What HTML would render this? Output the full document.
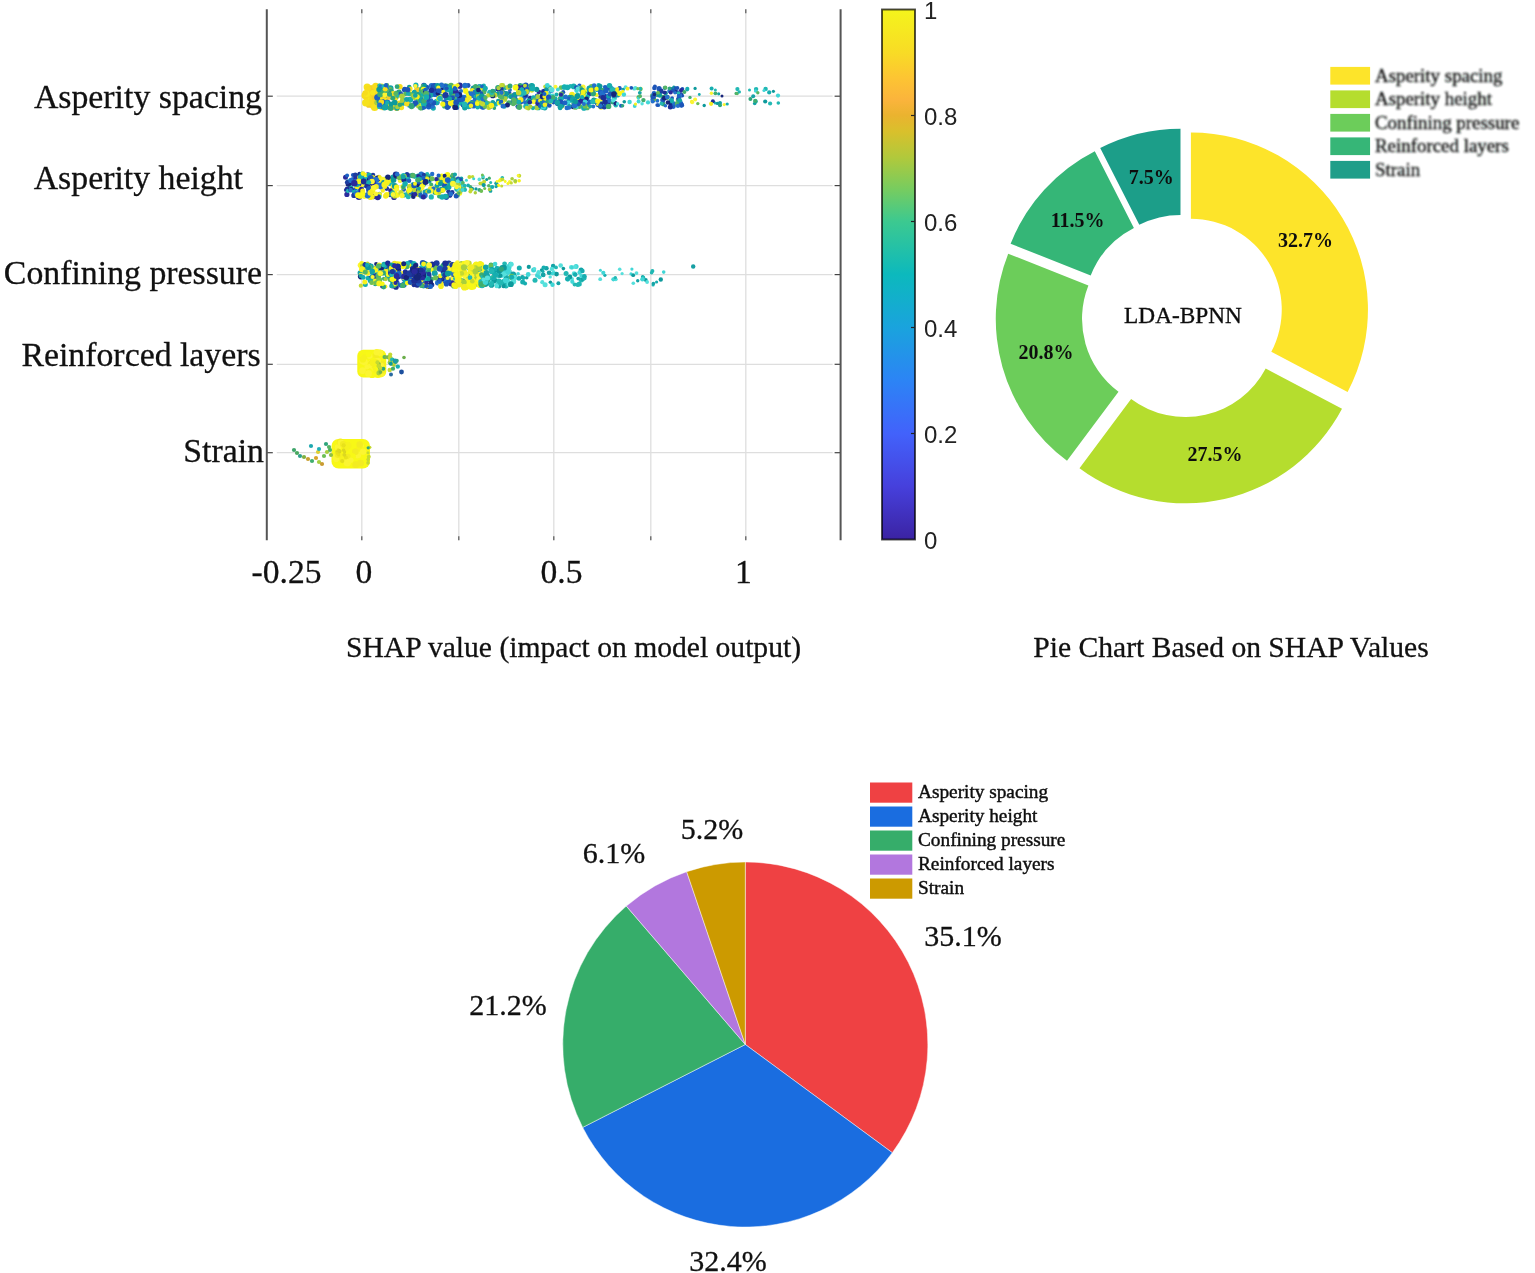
<!DOCTYPE html><html><head><meta charset="utf-8"><title>SHAP</title><style>html,body{margin:0;padding:0;background:#fff}svg{display:block}text{font-family:"Liberation Serif",serif;fill:#111}.ss{font-family:"Liberation Sans",sans-serif;fill:#222}</style></head><body>
<svg width="1535" height="1273" viewBox="0 0 1535 1273">
<defs><linearGradient id="par" x1="0" y1="1" x2="0" y2="0">
<stop offset="0" stop-color="#3b23a3"/>
<stop offset="0.1" stop-color="#4640dc"/>
<stop offset="0.2" stop-color="#4262fb"/>
<stop offset="0.3" stop-color="#2c84f5"/>
<stop offset="0.4" stop-color="#1aa3dd"/>
<stop offset="0.5" stop-color="#0cb9bd"/>
<stop offset="0.6" stop-color="#3cc990"/>
<stop offset="0.66" stop-color="#76cc60"/>
<stop offset="0.72" stop-color="#b0c93c"/>
<stop offset="0.77" stop-color="#d9c02c"/>
<stop offset="0.8" stop-color="#eab32f"/>
<stop offset="0.83" stop-color="#fbb43c"/>
<stop offset="0.87" stop-color="#fdc433"/>
<stop offset="0.92" stop-color="#f8dc25"/>
<stop offset="1" stop-color="#f4f41c"/>
</linearGradient><filter id="b1"><feGaussianBlur stdDeviation="0.6"/></filter><filter id="b2"><feGaussianBlur stdDeviation="0.7"/></filter><filter id="b4" x="-5%" y="-30%" width="110%" height="160%"><feGaussianBlur stdDeviation="0.8"/></filter><filter id="b3" x="-5%" y="-20%" width="110%" height="140%"><feGaussianBlur stdDeviation="0.55"/></filter></defs>
<rect width="1535" height="1273" fill="#fff"/>
<line x1="361.8" y1="9.2" x2="361.8" y2="540.2" stroke="#dedede" stroke-width="1.3"/>
<line x1="458.8" y1="9.2" x2="458.8" y2="540.2" stroke="#dedede" stroke-width="1.3"/>
<line x1="553.8" y1="9.2" x2="553.8" y2="540.2" stroke="#dedede" stroke-width="1.3"/>
<line x1="650.8" y1="9.2" x2="650.8" y2="540.2" stroke="#dedede" stroke-width="1.3"/>
<line x1="745.8" y1="9.2" x2="745.8" y2="540.2" stroke="#dedede" stroke-width="1.3"/>
<line x1="276.8" y1="96.2" x2="832.6" y2="96.2" stroke="#dedede" stroke-width="1.3"/>
<line x1="276.8" y1="185.6" x2="832.6" y2="185.6" stroke="#dedede" stroke-width="1.3"/>
<line x1="276.8" y1="274.6" x2="832.6" y2="274.6" stroke="#dedede" stroke-width="1.3"/>
<line x1="276.8" y1="364.3" x2="832.6" y2="364.3" stroke="#dedede" stroke-width="1.3"/>
<line x1="276.8" y1="452.7" x2="832.6" y2="452.7" stroke="#dedede" stroke-width="1.3"/>
<line x1="361.8" y1="9.2" x2="361.8" y2="13.2" stroke="#555" stroke-width="1.2"/>
<line x1="361.8" y1="540.2" x2="361.8" y2="536.2" stroke="#555" stroke-width="1.2"/>
<line x1="458.8" y1="9.2" x2="458.8" y2="13.2" stroke="#555" stroke-width="1.2"/>
<line x1="458.8" y1="540.2" x2="458.8" y2="536.2" stroke="#555" stroke-width="1.2"/>
<line x1="553.8" y1="9.2" x2="553.8" y2="13.2" stroke="#555" stroke-width="1.2"/>
<line x1="553.8" y1="540.2" x2="553.8" y2="536.2" stroke="#555" stroke-width="1.2"/>
<line x1="650.8" y1="9.2" x2="650.8" y2="13.2" stroke="#555" stroke-width="1.2"/>
<line x1="650.8" y1="540.2" x2="650.8" y2="536.2" stroke="#555" stroke-width="1.2"/>
<line x1="745.8" y1="9.2" x2="745.8" y2="13.2" stroke="#555" stroke-width="1.2"/>
<line x1="745.8" y1="540.2" x2="745.8" y2="536.2" stroke="#555" stroke-width="1.2"/>
<line x1="266.8" y1="96.2" x2="272.8" y2="96.2" stroke="#444" stroke-width="1.2"/>
<line x1="840.6" y1="96.2" x2="834.6" y2="96.2" stroke="#444" stroke-width="1.2"/>
<line x1="266.8" y1="185.6" x2="272.8" y2="185.6" stroke="#444" stroke-width="1.2"/>
<line x1="840.6" y1="185.6" x2="834.6" y2="185.6" stroke="#444" stroke-width="1.2"/>
<line x1="266.8" y1="274.6" x2="272.8" y2="274.6" stroke="#444" stroke-width="1.2"/>
<line x1="840.6" y1="274.6" x2="834.6" y2="274.6" stroke="#444" stroke-width="1.2"/>
<line x1="266.8" y1="364.3" x2="272.8" y2="364.3" stroke="#444" stroke-width="1.2"/>
<line x1="840.6" y1="364.3" x2="834.6" y2="364.3" stroke="#444" stroke-width="1.2"/>
<line x1="266.8" y1="452.7" x2="272.8" y2="452.7" stroke="#444" stroke-width="1.2"/>
<line x1="840.6" y1="452.7" x2="834.6" y2="452.7" stroke="#444" stroke-width="1.2"/>
<line x1="266.8" y1="9.2" x2="266.8" y2="540.2" stroke="#555" stroke-width="2"/>
<line x1="840.6" y1="9.2" x2="840.6" y2="540.2" stroke="#555" stroke-width="2"/>
<g filter="url(#b1)">
<circle cx="371.3" cy="89.0" r="3.7" fill="#f7dc1e"/>
<circle cx="366.8" cy="98.5" r="2.8" fill="#f7dc1e"/>
<circle cx="373.2" cy="91.0" r="3.7" fill="#f7dc1e"/>
<circle cx="367.3" cy="90.6" r="2.7" fill="#f8e81c"/>
<circle cx="369.3" cy="97.9" r="3.2" fill="#f4cc2a"/>
<circle cx="375.7" cy="98.3" r="3.4" fill="#f7dc1e"/>
<circle cx="377.6" cy="93.9" r="3.5" fill="#f7dc1e"/>
<circle cx="374.8" cy="97.4" r="3.4" fill="#f8e81c"/>
<circle cx="373.9" cy="92.3" r="2.7" fill="#f6e21f"/>
<circle cx="370.9" cy="96.6" r="3.0" fill="#f8e81c"/>
<circle cx="384.4" cy="88.3" r="3.6" fill="#f6e21f"/>
<circle cx="367.9" cy="96.5" r="3.6" fill="#f7dc1e"/>
<circle cx="376.3" cy="105.0" r="3.6" fill="#f4cc2a"/>
<circle cx="376.7" cy="98.5" r="3.7" fill="#f7dc1e"/>
<circle cx="383.7" cy="96.1" r="3.6" fill="#f7dc1e"/>
<circle cx="371.1" cy="98.4" r="3.6" fill="#f4cc2a"/>
<circle cx="382.6" cy="93.3" r="2.9" fill="#f4cc2a"/>
<circle cx="367.2" cy="87.0" r="3.6" fill="#f6e21f"/>
<circle cx="372.8" cy="105.9" r="2.9" fill="#f7dc1e"/>
<circle cx="372.9" cy="91.8" r="3.8" fill="#f8e81c"/>
<circle cx="370.4" cy="94.8" r="3.9" fill="#f8e81c"/>
<circle cx="367.9" cy="89.6" r="2.7" fill="#f6e21f"/>
<circle cx="381.5" cy="89.7" r="2.8" fill="#f7dc1e"/>
<circle cx="375.5" cy="99.1" r="3.6" fill="#f6e21f"/>
<circle cx="375.2" cy="99.3" r="3.8" fill="#f8e81c"/>
<circle cx="380.4" cy="104.9" r="3.2" fill="#f8e81c"/>
<circle cx="366.9" cy="99.7" r="2.7" fill="#f6e21f"/>
<circle cx="369.0" cy="89.3" r="2.8" fill="#f7dc1e"/>
<circle cx="376.2" cy="97.5" r="2.7" fill="#f7dc1e"/>
<circle cx="369.0" cy="94.0" r="3.4" fill="#f4cc2a"/>
<circle cx="374.3" cy="88.2" r="3.3" fill="#f8e81c"/>
<circle cx="371.1" cy="88.9" r="3.3" fill="#f4cc2a"/>
<circle cx="378.7" cy="97.1" r="2.8" fill="#f4cc2a"/>
<circle cx="375.7" cy="86.3" r="3.6" fill="#f7dc1e"/>
<circle cx="370.1" cy="93.8" r="3.7" fill="#f4cc2a"/>
<circle cx="375.5" cy="102.8" r="3.4" fill="#f6e21f"/>
<circle cx="380.6" cy="102.4" r="3.7" fill="#f6e21f"/>
<circle cx="379.6" cy="90.7" r="3.6" fill="#f4cc2a"/>
<circle cx="384.6" cy="103.1" r="2.9" fill="#f4cc2a"/>
<circle cx="377.0" cy="93.3" r="2.7" fill="#f4cc2a"/>
<circle cx="366.9" cy="96.0" r="3.3" fill="#f6e21f"/>
<circle cx="384.5" cy="99.1" r="3.8" fill="#f8e81c"/>
<circle cx="371.7" cy="99.8" r="3.7" fill="#f8e81c"/>
<circle cx="379.9" cy="96.2" r="3.7" fill="#f8e81c"/>
<circle cx="371.5" cy="103.3" r="3.2" fill="#f8e81c"/>
<circle cx="383.8" cy="101.6" r="2.7" fill="#f6e21f"/>
<circle cx="376.7" cy="95.9" r="3.5" fill="#f8e81c"/>
<circle cx="371.9" cy="97.8" r="2.7" fill="#f7dc1e"/>
<circle cx="384.3" cy="100.0" r="3.9" fill="#f8e81c"/>
<circle cx="368.8" cy="104.9" r="2.9" fill="#f4cc2a"/>
<circle cx="374.9" cy="102.5" r="3.4" fill="#f4cc2a"/>
<circle cx="381.5" cy="87.0" r="3.5" fill="#f8e81c"/>
<circle cx="381.1" cy="97.1" r="3.3" fill="#f6e21f"/>
<circle cx="365.2" cy="95.4" r="3.7" fill="#f7dc1e"/>
<circle cx="367.9" cy="88.8" r="3.1" fill="#f7dc1e"/>
<circle cx="375.2" cy="97.9" r="3.0" fill="#f7dc1e"/>
<circle cx="370.4" cy="102.7" r="3.6" fill="#f7dc1e"/>
<circle cx="383.1" cy="95.5" r="3.2" fill="#f4cc2a"/>
<circle cx="375.5" cy="96.2" r="3.9" fill="#f4cc2a"/>
<circle cx="382.7" cy="90.2" r="3.2" fill="#f6e21f"/>
<circle cx="372.7" cy="92.7" r="2.7" fill="#f8e81c"/>
<circle cx="378.2" cy="102.9" r="2.8" fill="#f4cc2a"/>
<circle cx="382.5" cy="107.0" r="3.2" fill="#f7dc1e"/>
<circle cx="374.6" cy="107.5" r="3.6" fill="#f6e21f"/>
<circle cx="384.7" cy="94.6" r="3.1" fill="#f6e21f"/>
<circle cx="366.7" cy="93.8" r="3.2" fill="#f8e81c"/>
<circle cx="365.2" cy="93.0" r="2.8" fill="#f7dc1e"/>
<circle cx="383.2" cy="90.7" r="3.0" fill="#f7dc1e"/>
<circle cx="365.7" cy="102.8" r="3.7" fill="#f6e21f"/>
<circle cx="381.8" cy="100.6" r="2.8" fill="#f8e81c"/>
<circle cx="423.0" cy="98.3" r="2.3" fill="#3fae6e"/>
<circle cx="417.1" cy="89.4" r="2.9" fill="#f4cc2a"/>
<circle cx="408.8" cy="103.6" r="2.1" fill="#f6e21f"/>
<circle cx="420.2" cy="95.6" r="2.9" fill="#2fa57c"/>
<circle cx="390.5" cy="88.2" r="3.0" fill="#12a3a6"/>
<circle cx="390.2" cy="89.4" r="2.5" fill="#6cbf55"/>
<circle cx="387.4" cy="95.5" r="2.3" fill="#0f9a9c"/>
<circle cx="378.1" cy="91.0" r="2.7" fill="#f6f21c"/>
<circle cx="404.7" cy="89.6" r="2.9" fill="#1f55b8"/>
<circle cx="382.5" cy="104.0" r="2.5" fill="#c4d930"/>
<circle cx="421.5" cy="107.5" r="3.0" fill="#55b565"/>
<circle cx="394.3" cy="104.3" r="3.0" fill="#20b8b4"/>
<circle cx="426.2" cy="104.5" r="2.6" fill="#f6f21c"/>
<circle cx="421.1" cy="95.1" r="2.7" fill="#f6f21c"/>
<circle cx="396.2" cy="96.8" r="2.7" fill="#55b565"/>
<circle cx="379.4" cy="89.5" r="2.0" fill="#2fa57c"/>
<circle cx="395.3" cy="92.8" r="2.0" fill="#55b565"/>
<circle cx="421.2" cy="90.2" r="2.3" fill="#12a3a6"/>
<circle cx="381.3" cy="91.6" r="2.5" fill="#16aeb0"/>
<circle cx="377.4" cy="91.3" r="2.4" fill="#f6e21f"/>
<circle cx="379.2" cy="85.7" r="2.1" fill="#55b565"/>
<circle cx="425.0" cy="104.8" r="2.8" fill="#20b8b4"/>
<circle cx="413.1" cy="96.6" r="2.0" fill="#55b565"/>
<circle cx="418.9" cy="105.7" r="2.9" fill="#a9cf3c"/>
<circle cx="414.7" cy="98.3" r="2.1" fill="#f8f814"/>
<circle cx="379.2" cy="99.9" r="2.8" fill="#f8e81c"/>
<circle cx="405.0" cy="99.6" r="2.3" fill="#20b8b4"/>
<circle cx="400.0" cy="86.8" r="2.7" fill="#f7dc1e"/>
<circle cx="400.8" cy="103.8" r="2.7" fill="#55b565"/>
<circle cx="387.4" cy="102.2" r="2.8" fill="#1b62c4"/>
<circle cx="381.0" cy="106.1" r="2.6" fill="#3fae6e"/>
<circle cx="409.2" cy="87.0" r="2.3" fill="#0f9a9c"/>
<circle cx="414.3" cy="92.2" r="2.5" fill="#12a3a6"/>
<circle cx="401.4" cy="107.6" r="2.7" fill="#f6e21f"/>
<circle cx="391.7" cy="97.1" r="2.5" fill="#1b62c4"/>
<circle cx="383.1" cy="105.8" r="3.0" fill="#0f9a9c"/>
<circle cx="423.9" cy="85.6" r="2.8" fill="#1f55b8"/>
<circle cx="425.5" cy="95.5" r="2.2" fill="#2fa57c"/>
<circle cx="424.4" cy="90.0" r="2.7" fill="#f6e21f"/>
<circle cx="390.2" cy="93.5" r="2.7" fill="#3fae6e"/>
<circle cx="388.7" cy="105.8" r="2.0" fill="#1b62c4"/>
<circle cx="377.3" cy="96.5" r="2.3" fill="#1b62c4"/>
<circle cx="384.2" cy="93.1" r="2.8" fill="#3fae6e"/>
<circle cx="377.2" cy="102.5" r="2.9" fill="#a9cf3c"/>
<circle cx="386.9" cy="85.5" r="2.4" fill="#6cbf55"/>
<circle cx="396.8" cy="108.2" r="2.9" fill="#f4cc2a"/>
<circle cx="414.9" cy="104.8" r="2.1" fill="#3fae6e"/>
<circle cx="410.2" cy="99.8" r="3.0" fill="#16aeb0"/>
<circle cx="398.9" cy="92.5" r="2.9" fill="#2fa57c"/>
<circle cx="417.7" cy="99.7" r="2.0" fill="#12a3a6"/>
<circle cx="413.7" cy="95.6" r="2.5" fill="#0f9a9c"/>
<circle cx="422.7" cy="97.9" r="2.4" fill="#20b8b4"/>
<circle cx="391.2" cy="91.1" r="2.7" fill="#2fa57c"/>
<circle cx="392.2" cy="98.0" r="2.2" fill="#a9cf3c"/>
<circle cx="385.2" cy="90.0" r="2.2" fill="#2470cc"/>
<circle cx="422.4" cy="108.1" r="2.1" fill="#1b62c4"/>
<circle cx="386.8" cy="87.3" r="2.3" fill="#3fae6e"/>
<circle cx="395.5" cy="103.8" r="2.7" fill="#12a3a6"/>
<circle cx="397.8" cy="94.7" r="2.3" fill="#20b8b4"/>
<circle cx="414.7" cy="96.7" r="2.7" fill="#55b565"/>
<circle cx="403.6" cy="103.4" r="2.3" fill="#12a3a6"/>
<circle cx="389.6" cy="94.4" r="3.0" fill="#1b62c4"/>
<circle cx="419.5" cy="105.3" r="2.0" fill="#f8f814"/>
<circle cx="412.6" cy="105.8" r="2.5" fill="#2470cc"/>
<circle cx="380.8" cy="106.6" r="2.2" fill="#1b62c4"/>
<circle cx="382.6" cy="88.8" r="2.1" fill="#f8e81c"/>
<circle cx="415.9" cy="85.2" r="2.6" fill="#16aeb0"/>
<circle cx="379.0" cy="101.6" r="2.5" fill="#0f9a9c"/>
<circle cx="399.0" cy="102.8" r="2.3" fill="#f7dc1e"/>
<circle cx="424.3" cy="89.6" r="2.8" fill="#55b565"/>
<circle cx="377.2" cy="97.6" r="3.0" fill="#1b62c4"/>
<circle cx="409.3" cy="105.5" r="2.2" fill="#2470cc"/>
<circle cx="389.5" cy="107.3" r="2.0" fill="#3fae6e"/>
<circle cx="402.0" cy="100.7" r="2.3" fill="#a9cf3c"/>
<circle cx="410.5" cy="106.5" r="2.0" fill="#20b8b4"/>
<circle cx="394.0" cy="94.9" r="2.0" fill="#a9cf3c"/>
<circle cx="391.7" cy="104.6" r="2.5" fill="#f6e21f"/>
<circle cx="387.2" cy="102.8" r="2.5" fill="#16aeb0"/>
<circle cx="390.4" cy="105.7" r="2.6" fill="#f8e81c"/>
<circle cx="421.9" cy="96.4" r="2.9" fill="#f8f814"/>
<circle cx="379.9" cy="85.7" r="2.1" fill="#20b8b4"/>
<circle cx="380.2" cy="94.2" r="3.0" fill="#3fae6e"/>
<circle cx="423.7" cy="92.8" r="2.0" fill="#20b8b4"/>
<circle cx="410.3" cy="93.9" r="2.4" fill="#6cbf55"/>
<circle cx="382.6" cy="87.0" r="2.4" fill="#f4cc2a"/>
<circle cx="421.3" cy="98.1" r="2.4" fill="#20b8b4"/>
<circle cx="418.2" cy="104.1" r="2.0" fill="#a9cf3c"/>
<circle cx="400.8" cy="93.8" r="2.3" fill="#1f55b8"/>
<circle cx="414.0" cy="96.1" r="2.8" fill="#a9cf3c"/>
<circle cx="415.4" cy="86.1" r="2.1" fill="#fbf530"/>
<circle cx="423.1" cy="91.1" r="2.4" fill="#f4cc2a"/>
<circle cx="393.9" cy="107.1" r="2.7" fill="#f3ec22"/>
<circle cx="411.6" cy="106.5" r="2.7" fill="#3fae6e"/>
<circle cx="406.9" cy="103.7" r="2.8" fill="#f7dc1e"/>
<circle cx="382.5" cy="101.7" r="2.8" fill="#1b62c4"/>
<circle cx="422.8" cy="103.9" r="2.2" fill="#20b8b4"/>
<circle cx="417.2" cy="102.2" r="2.3" fill="#16aeb0"/>
<circle cx="393.1" cy="93.5" r="2.4" fill="#f6e21f"/>
<circle cx="385.1" cy="94.6" r="2.6" fill="#fbf530"/>
<circle cx="393.4" cy="107.7" r="2.3" fill="#f7dc1e"/>
<circle cx="381.4" cy="87.4" r="3.0" fill="#2470cc"/>
<circle cx="385.8" cy="88.3" r="2.9" fill="#2470cc"/>
<circle cx="388.9" cy="97.6" r="2.3" fill="#f4cc2a"/>
<circle cx="405.5" cy="93.8" r="2.4" fill="#55b565"/>
<circle cx="386.4" cy="90.6" r="2.3" fill="#55b565"/>
<circle cx="396.9" cy="108.0" r="2.7" fill="#12a3a6"/>
<circle cx="426.6" cy="87.6" r="2.8" fill="#1f55b8"/>
<circle cx="422.8" cy="86.1" r="2.1" fill="#55b565"/>
<circle cx="386.6" cy="107.6" r="2.4" fill="#12a3a6"/>
<circle cx="420.4" cy="95.5" r="2.1" fill="#3fae6e"/>
<circle cx="406.9" cy="99.5" r="2.4" fill="#12a3a6"/>
<circle cx="384.2" cy="89.9" r="2.6" fill="#3fae6e"/>
<circle cx="409.7" cy="89.9" r="2.4" fill="#f3ec22"/>
<circle cx="395.7" cy="99.5" r="2.0" fill="#f6e21f"/>
<circle cx="401.9" cy="96.3" r="2.8" fill="#a9cf3c"/>
<circle cx="410.3" cy="88.8" r="2.4" fill="#f6e21f"/>
<circle cx="390.7" cy="107.9" r="3.0" fill="#2fa57c"/>
<circle cx="392.8" cy="98.2" r="2.4" fill="#2fa57c"/>
<circle cx="420.3" cy="108.1" r="2.4" fill="#55b565"/>
<circle cx="397.4" cy="106.9" r="2.4" fill="#a9cf3c"/>
<circle cx="418.1" cy="94.5" r="2.8" fill="#2fa57c"/>
<circle cx="383.6" cy="86.4" r="2.1" fill="#20b8b4"/>
<circle cx="408.2" cy="93.7" r="2.3" fill="#16aeb0"/>
<circle cx="385.2" cy="89.2" r="2.4" fill="#f7dc1e"/>
<circle cx="414.8" cy="103.4" r="2.1" fill="#0f9a9c"/>
<circle cx="424.2" cy="107.6" r="2.1" fill="#1b62c4"/>
<circle cx="423.4" cy="94.1" r="2.6" fill="#16aeb0"/>
<circle cx="407.8" cy="89.7" r="2.6" fill="#1f55b8"/>
<circle cx="379.2" cy="106.8" r="2.4" fill="#20b8b4"/>
<circle cx="384.6" cy="107.5" r="2.9" fill="#12a3a6"/>
<circle cx="419.2" cy="100.7" r="2.4" fill="#3fae6e"/>
<circle cx="399.9" cy="104.7" r="2.3" fill="#2fa57c"/>
<circle cx="389.6" cy="94.2" r="2.5" fill="#2fa57c"/>
<circle cx="386.1" cy="85.3" r="2.2" fill="#1b62c4"/>
<circle cx="415.3" cy="103.1" r="2.8" fill="#1f55b8"/>
<circle cx="397.1" cy="86.7" r="2.4" fill="#2fa57c"/>
<circle cx="417.2" cy="96.8" r="2.6" fill="#f6f21c"/>
<circle cx="381.3" cy="102.1" r="2.8" fill="#f7dc1e"/>
<circle cx="421.8" cy="100.2" r="2.9" fill="#12a3a6"/>
<circle cx="426.9" cy="102.0" r="2.1" fill="#f6e21f"/>
<circle cx="421.4" cy="91.8" r="2.1" fill="#16aeb0"/>
<circle cx="394.7" cy="102.6" r="2.9" fill="#0f9a9c"/>
<circle cx="390.9" cy="104.0" r="2.5" fill="#0f9a9c"/>
<circle cx="423.1" cy="90.0" r="2.3" fill="#55b565"/>
<circle cx="379.0" cy="89.4" r="2.7" fill="#0f9a9c"/>
<circle cx="421.9" cy="89.1" r="2.8" fill="#3fae6e"/>
<circle cx="379.6" cy="104.9" r="2.5" fill="#2470cc"/>
<circle cx="411.5" cy="105.8" r="2.7" fill="#2fa57c"/>
<circle cx="395.7" cy="93.8" r="2.4" fill="#55b565"/>
<circle cx="415.3" cy="95.4" r="2.3" fill="#12a3a6"/>
<circle cx="453.0" cy="92.3" r="2.7" fill="#12a3a6"/>
<circle cx="436.0" cy="91.9" r="2.5" fill="#2fa57c"/>
<circle cx="474.8" cy="88.2" r="2.7" fill="#2470cc"/>
<circle cx="424.5" cy="85.3" r="2.1" fill="#0f9a9c"/>
<circle cx="443.8" cy="90.4" r="2.2" fill="#16aeb0"/>
<circle cx="459.2" cy="96.1" r="2.9" fill="#1f55b8"/>
<circle cx="437.3" cy="88.6" r="2.6" fill="#1f55b8"/>
<circle cx="473.4" cy="103.2" r="3.0" fill="#6cbf55"/>
<circle cx="426.5" cy="104.1" r="2.6" fill="#20b8b4"/>
<circle cx="453.1" cy="96.5" r="2.0" fill="#1f55b8"/>
<circle cx="453.9" cy="94.5" r="2.1" fill="#1f55b8"/>
<circle cx="468.1" cy="85.5" r="2.4" fill="#1f55b8"/>
<circle cx="453.1" cy="100.0" r="2.5" fill="#55b565"/>
<circle cx="426.9" cy="99.6" r="2.4" fill="#f6f21c"/>
<circle cx="448.4" cy="106.2" r="2.7" fill="#2470cc"/>
<circle cx="433.3" cy="108.1" r="2.6" fill="#16aeb0"/>
<circle cx="430.3" cy="105.7" r="2.3" fill="#12a3a6"/>
<circle cx="455.1" cy="95.2" r="2.6" fill="#0f9a9c"/>
<circle cx="478.8" cy="90.2" r="2.3" fill="#1b2f95"/>
<circle cx="436.8" cy="102.3" r="2.9" fill="#2470cc"/>
<circle cx="434.3" cy="94.1" r="2.9" fill="#1b62c4"/>
<circle cx="459.6" cy="101.1" r="2.8" fill="#fbf530"/>
<circle cx="463.4" cy="104.9" r="2.6" fill="#55b565"/>
<circle cx="441.0" cy="90.1" r="2.9" fill="#2470cc"/>
<circle cx="431.6" cy="85.8" r="2.9" fill="#2470cc"/>
<circle cx="443.1" cy="88.5" r="2.0" fill="#17257a"/>
<circle cx="463.1" cy="99.8" r="2.0" fill="#2470cc"/>
<circle cx="472.6" cy="102.7" r="2.9" fill="#2470cc"/>
<circle cx="427.0" cy="105.2" r="2.2" fill="#3fae6e"/>
<circle cx="434.9" cy="86.0" r="2.6" fill="#2470cc"/>
<circle cx="450.7" cy="88.3" r="2.3" fill="#1b62c4"/>
<circle cx="447.6" cy="85.7" r="2.0" fill="#0f9a9c"/>
<circle cx="467.0" cy="106.1" r="2.6" fill="#f3ec22"/>
<circle cx="425.0" cy="94.7" r="2.3" fill="#3fae6e"/>
<circle cx="463.8" cy="97.6" r="2.9" fill="#2470cc"/>
<circle cx="428.5" cy="104.1" r="2.0" fill="#1b62c4"/>
<circle cx="434.9" cy="102.7" r="2.3" fill="#17257a"/>
<circle cx="428.8" cy="101.2" r="2.6" fill="#1b62c4"/>
<circle cx="478.4" cy="97.0" r="2.8" fill="#1b62c4"/>
<circle cx="477.3" cy="90.5" r="2.9" fill="#1f55b8"/>
<circle cx="467.4" cy="96.5" r="2.3" fill="#2470cc"/>
<circle cx="428.7" cy="106.6" r="2.9" fill="#1b62c4"/>
<circle cx="424.7" cy="89.9" r="2.9" fill="#20b8b4"/>
<circle cx="452.1" cy="93.9" r="2.1" fill="#1b62c4"/>
<circle cx="457.5" cy="101.1" r="2.6" fill="#2a2a9c"/>
<circle cx="453.3" cy="105.2" r="2.2" fill="#f3ec22"/>
<circle cx="448.5" cy="103.0" r="2.3" fill="#1f55b8"/>
<circle cx="460.3" cy="101.2" r="2.3" fill="#1b62c4"/>
<circle cx="463.7" cy="104.6" r="2.2" fill="#2470cc"/>
<circle cx="437.5" cy="92.7" r="2.2" fill="#16aeb0"/>
<circle cx="478.3" cy="91.1" r="3.0" fill="#1f55b8"/>
<circle cx="429.1" cy="94.0" r="2.7" fill="#1b62c4"/>
<circle cx="448.3" cy="89.7" r="2.2" fill="#1b62c4"/>
<circle cx="445.6" cy="86.0" r="2.7" fill="#2fa57c"/>
<circle cx="452.1" cy="99.7" r="2.1" fill="#f6f21c"/>
<circle cx="458.0" cy="94.5" r="2.7" fill="#1b62c4"/>
<circle cx="457.1" cy="100.1" r="2.7" fill="#2470cc"/>
<circle cx="473.9" cy="103.0" r="2.2" fill="#2470cc"/>
<circle cx="430.4" cy="95.1" r="2.9" fill="#12a3a6"/>
<circle cx="437.2" cy="94.4" r="2.8" fill="#1b62c4"/>
<circle cx="451.0" cy="85.7" r="2.9" fill="#55b565"/>
<circle cx="442.1" cy="85.4" r="2.0" fill="#f6f21c"/>
<circle cx="454.5" cy="88.9" r="2.3" fill="#2470cc"/>
<circle cx="472.0" cy="95.7" r="2.5" fill="#2470cc"/>
<circle cx="424.2" cy="103.4" r="2.4" fill="#0f9a9c"/>
<circle cx="477.8" cy="90.0" r="2.5" fill="#1b62c4"/>
<circle cx="477.0" cy="102.0" r="2.3" fill="#12a3a6"/>
<circle cx="445.2" cy="86.6" r="2.9" fill="#1b62c4"/>
<circle cx="459.4" cy="100.7" r="2.2" fill="#12a3a6"/>
<circle cx="465.9" cy="106.8" r="2.5" fill="#1b62c4"/>
<circle cx="432.7" cy="106.6" r="2.2" fill="#2470cc"/>
<circle cx="460.2" cy="101.8" r="2.7" fill="#1b62c4"/>
<circle cx="471.1" cy="103.5" r="3.0" fill="#2fa57c"/>
<circle cx="467.0" cy="100.1" r="2.8" fill="#f3ec22"/>
<circle cx="436.5" cy="101.4" r="2.7" fill="#20b8b4"/>
<circle cx="451.0" cy="103.7" r="2.2" fill="#0f9a9c"/>
<circle cx="440.6" cy="96.2" r="2.7" fill="#3fae6e"/>
<circle cx="444.1" cy="106.6" r="2.1" fill="#3fae6e"/>
<circle cx="455.8" cy="92.7" r="2.8" fill="#2470cc"/>
<circle cx="459.7" cy="85.5" r="3.0" fill="#1b2f95"/>
<circle cx="461.0" cy="91.0" r="2.1" fill="#2470cc"/>
<circle cx="436.7" cy="103.1" r="2.2" fill="#16aeb0"/>
<circle cx="446.4" cy="97.5" r="2.9" fill="#2470cc"/>
<circle cx="454.8" cy="99.8" r="2.5" fill="#16aeb0"/>
<circle cx="435.5" cy="87.0" r="2.6" fill="#f6f21c"/>
<circle cx="438.5" cy="90.6" r="2.5" fill="#1b62c4"/>
<circle cx="426.6" cy="95.9" r="2.5" fill="#2470cc"/>
<circle cx="451.9" cy="97.6" r="2.8" fill="#1b2f95"/>
<circle cx="450.2" cy="98.1" r="2.4" fill="#20b8b4"/>
<circle cx="447.4" cy="107.3" r="2.6" fill="#1f55b8"/>
<circle cx="459.9" cy="85.9" r="2.8" fill="#2a2a9c"/>
<circle cx="428.7" cy="96.3" r="2.2" fill="#1f55b8"/>
<circle cx="447.2" cy="88.1" r="2.4" fill="#2470cc"/>
<circle cx="450.6" cy="97.3" r="2.4" fill="#1b62c4"/>
<circle cx="447.6" cy="97.9" r="2.4" fill="#0f9a9c"/>
<circle cx="451.7" cy="92.9" r="3.0" fill="#0f9a9c"/>
<circle cx="460.9" cy="103.4" r="2.3" fill="#16aeb0"/>
<circle cx="440.5" cy="98.7" r="2.4" fill="#1f55b8"/>
<circle cx="455.2" cy="94.5" r="2.3" fill="#1d3a9e"/>
<circle cx="423.6" cy="89.6" r="2.8" fill="#f6f21c"/>
<circle cx="475.6" cy="99.3" r="2.7" fill="#2470cc"/>
<circle cx="462.9" cy="105.4" r="2.0" fill="#1f55b8"/>
<circle cx="459.7" cy="99.6" r="2.7" fill="#1f55b8"/>
<circle cx="473.3" cy="94.9" r="2.0" fill="#2470cc"/>
<circle cx="473.5" cy="88.4" r="2.9" fill="#0f9a9c"/>
<circle cx="433.9" cy="86.0" r="2.6" fill="#1d3a9e"/>
<circle cx="456.5" cy="106.2" r="2.8" fill="#f6f21c"/>
<circle cx="467.8" cy="94.9" r="2.1" fill="#2fa57c"/>
<circle cx="462.4" cy="98.9" r="2.8" fill="#1b62c4"/>
<circle cx="454.9" cy="87.1" r="2.9" fill="#f8f814"/>
<circle cx="459.3" cy="95.0" r="3.0" fill="#17257a"/>
<circle cx="472.7" cy="90.2" r="2.5" fill="#1f55b8"/>
<circle cx="439.1" cy="98.3" r="2.9" fill="#f8f814"/>
<circle cx="444.3" cy="102.4" r="2.8" fill="#2470cc"/>
<circle cx="440.1" cy="98.0" r="2.7" fill="#fbf530"/>
<circle cx="474.5" cy="106.2" r="2.0" fill="#17257a"/>
<circle cx="424.1" cy="100.2" r="2.3" fill="#1b62c4"/>
<circle cx="465.3" cy="89.0" r="2.3" fill="#f6f21c"/>
<circle cx="477.9" cy="101.9" r="2.1" fill="#f8f814"/>
<circle cx="469.2" cy="93.6" r="2.8" fill="#2470cc"/>
<circle cx="450.7" cy="103.1" r="2.8" fill="#f3ec22"/>
<circle cx="455.9" cy="91.9" r="2.9" fill="#2a2a9c"/>
<circle cx="465.0" cy="85.6" r="2.8" fill="#2470cc"/>
<circle cx="456.9" cy="107.7" r="2.4" fill="#1b62c4"/>
<circle cx="444.9" cy="102.9" r="2.3" fill="#1b62c4"/>
<circle cx="423.3" cy="91.3" r="2.6" fill="#55b565"/>
<circle cx="470.2" cy="105.6" r="2.8" fill="#2a2a9c"/>
<circle cx="470.0" cy="105.1" r="3.0" fill="#1b62c4"/>
<circle cx="469.2" cy="97.8" r="2.5" fill="#f3ec22"/>
<circle cx="454.3" cy="96.3" r="2.8" fill="#55b565"/>
<circle cx="464.8" cy="107.8" r="2.7" fill="#12a3a6"/>
<circle cx="450.0" cy="90.0" r="2.8" fill="#12a3a6"/>
<circle cx="449.7" cy="87.2" r="2.2" fill="#12a3a6"/>
<circle cx="456.6" cy="105.8" r="2.5" fill="#20b8b4"/>
<circle cx="434.9" cy="90.1" r="2.8" fill="#1f55b8"/>
<circle cx="439.9" cy="98.5" r="2.8" fill="#20b8b4"/>
<circle cx="472.6" cy="90.9" r="2.9" fill="#f3ec22"/>
<circle cx="444.6" cy="95.9" r="2.3" fill="#1f55b8"/>
<circle cx="425.0" cy="91.7" r="2.0" fill="#17257a"/>
<circle cx="480.3" cy="105.1" r="2.3" fill="#f8f814"/>
<circle cx="468.1" cy="95.0" r="2.3" fill="#f8f814"/>
<circle cx="425.4" cy="89.8" r="2.1" fill="#1b62c4"/>
<circle cx="426.2" cy="98.0" r="2.9" fill="#fbf530"/>
<circle cx="475.7" cy="86.7" r="2.7" fill="#3fae6e"/>
<circle cx="428.4" cy="92.5" r="2.1" fill="#2470cc"/>
<circle cx="476.3" cy="96.8" r="2.8" fill="#1b62c4"/>
<circle cx="444.6" cy="90.6" r="2.0" fill="#1f55b8"/>
<circle cx="438.0" cy="93.3" r="2.3" fill="#17257a"/>
<circle cx="452.8" cy="102.2" r="2.1" fill="#f6f21c"/>
<circle cx="441.5" cy="85.3" r="2.7" fill="#2470cc"/>
<circle cx="457.2" cy="95.3" r="2.3" fill="#1b62c4"/>
<circle cx="438.0" cy="88.1" r="2.2" fill="#fbf530"/>
<circle cx="437.0" cy="88.5" r="2.7" fill="#1d3a9e"/>
<circle cx="434.5" cy="86.0" r="2.9" fill="#1f55b8"/>
<circle cx="473.2" cy="105.6" r="3.0" fill="#1b62c4"/>
<circle cx="476.6" cy="94.1" r="2.5" fill="#17257a"/>
<circle cx="442.8" cy="104.1" r="2.6" fill="#f6f21c"/>
<circle cx="431.5" cy="90.3" r="2.7" fill="#1b2f95"/>
<circle cx="455.1" cy="88.5" r="2.4" fill="#1b62c4"/>
<circle cx="437.5" cy="85.8" r="2.8" fill="#0f9a9c"/>
<circle cx="438.3" cy="87.7" r="2.1" fill="#fbf530"/>
<circle cx="479.6" cy="86.5" r="2.5" fill="#2470cc"/>
<circle cx="439.7" cy="91.1" r="2.4" fill="#1b62c4"/>
<circle cx="438.3" cy="90.7" r="2.4" fill="#1f55b8"/>
<circle cx="447.2" cy="88.9" r="3.0" fill="#16aeb0"/>
<circle cx="424.2" cy="103.8" r="2.4" fill="#16aeb0"/>
<circle cx="468.7" cy="106.9" r="2.4" fill="#16aeb0"/>
<circle cx="425.6" cy="94.6" r="2.1" fill="#16aeb0"/>
<circle cx="433.6" cy="102.9" r="2.6" fill="#1f55b8"/>
<circle cx="471.0" cy="105.7" r="2.2" fill="#f3ec22"/>
<circle cx="431.1" cy="100.6" r="2.3" fill="#2470cc"/>
<circle cx="423.8" cy="101.1" r="2.5" fill="#3fae6e"/>
<circle cx="443.3" cy="91.7" r="2.0" fill="#f6f21c"/>
<circle cx="475.7" cy="96.2" r="2.2" fill="#16aeb0"/>
<circle cx="471.1" cy="93.6" r="2.4" fill="#2470cc"/>
<circle cx="457.5" cy="85.3" r="2.1" fill="#f6f21c"/>
<circle cx="464.4" cy="104.0" r="2.6" fill="#20b8b4"/>
<circle cx="475.0" cy="91.9" r="2.5" fill="#2470cc"/>
<circle cx="452.8" cy="97.4" r="2.2" fill="#1f55b8"/>
<circle cx="428.3" cy="99.4" r="2.3" fill="#1f55b8"/>
<circle cx="455.2" cy="107.2" r="2.9" fill="#17257a"/>
<circle cx="465.8" cy="91.2" r="2.7" fill="#f8f814"/>
<circle cx="429.2" cy="105.2" r="2.3" fill="#1f55b8"/>
<circle cx="450.0" cy="98.7" r="2.1" fill="#12a3a6"/>
<circle cx="446.6" cy="88.3" r="2.1" fill="#1f55b8"/>
<circle cx="456.2" cy="102.4" r="2.9" fill="#1f55b8"/>
<circle cx="445.6" cy="94.9" r="3.0" fill="#1d3a9e"/>
<circle cx="426.2" cy="93.6" r="2.8" fill="#55b565"/>
<circle cx="464.5" cy="104.6" r="2.8" fill="#20b8b4"/>
<circle cx="426.3" cy="97.1" r="2.9" fill="#16aeb0"/>
<circle cx="522.8" cy="85.5" r="2.0" fill="#16aeb0"/>
<circle cx="506.9" cy="96.8" r="2.1" fill="#16aeb0"/>
<circle cx="544.0" cy="103.1" r="2.0" fill="#2470cc"/>
<circle cx="544.8" cy="107.6" r="2.8" fill="#12a3a6"/>
<circle cx="519.9" cy="106.3" r="2.5" fill="#c4d930"/>
<circle cx="532.7" cy="86.0" r="2.0" fill="#0f9a9c"/>
<circle cx="477.9" cy="90.6" r="2.0" fill="#0f9a9c"/>
<circle cx="501.0" cy="89.0" r="2.0" fill="#0f9a9c"/>
<circle cx="517.8" cy="106.6" r="2.4" fill="#1f55b8"/>
<circle cx="538.2" cy="106.3" r="2.2" fill="#c4d930"/>
<circle cx="527.9" cy="102.2" r="2.5" fill="#2fa57c"/>
<circle cx="516.4" cy="100.2" r="2.4" fill="#6cbf55"/>
<circle cx="514.9" cy="99.3" r="1.9" fill="#1b62c4"/>
<circle cx="500.1" cy="89.5" r="2.9" fill="#1d3a9e"/>
<circle cx="504.4" cy="106.5" r="2.2" fill="#16aeb0"/>
<circle cx="499.5" cy="91.4" r="2.0" fill="#6cbf55"/>
<circle cx="478.5" cy="97.9" r="2.3" fill="#c4d930"/>
<circle cx="481.3" cy="94.1" r="2.6" fill="#1b62c4"/>
<circle cx="484.6" cy="90.4" r="2.2" fill="#20b8b4"/>
<circle cx="501.4" cy="100.7" r="2.7" fill="#c4d930"/>
<circle cx="512.8" cy="102.2" r="2.7" fill="#1b62c4"/>
<circle cx="526.0" cy="106.2" r="2.8" fill="#20b8b4"/>
<circle cx="477.3" cy="102.8" r="2.4" fill="#a9cf3c"/>
<circle cx="543.5" cy="98.4" r="2.8" fill="#1b62c4"/>
<circle cx="519.0" cy="93.9" r="2.4" fill="#2470cc"/>
<circle cx="527.0" cy="91.9" r="2.5" fill="#2470cc"/>
<circle cx="503.6" cy="92.6" r="2.3" fill="#1b62c4"/>
<circle cx="489.7" cy="92.2" r="2.5" fill="#20b8b4"/>
<circle cx="517.2" cy="87.2" r="2.9" fill="#f3ec22"/>
<circle cx="519.0" cy="90.8" r="2.9" fill="#f8f814"/>
<circle cx="538.6" cy="107.2" r="2.2" fill="#12a3a6"/>
<circle cx="538.9" cy="92.1" r="2.4" fill="#2a2a9c"/>
<circle cx="546.0" cy="97.1" r="2.3" fill="#1d3a9e"/>
<circle cx="501.7" cy="98.9" r="2.8" fill="#fbf530"/>
<circle cx="523.8" cy="97.3" r="2.3" fill="#20b8b4"/>
<circle cx="504.7" cy="98.1" r="2.8" fill="#a9cf3c"/>
<circle cx="543.7" cy="96.4" r="2.8" fill="#2470cc"/>
<circle cx="517.6" cy="101.1" r="2.3" fill="#16aeb0"/>
<circle cx="502.3" cy="86.9" r="2.0" fill="#55b565"/>
<circle cx="538.8" cy="101.1" r="2.5" fill="#1d3a9e"/>
<circle cx="513.2" cy="104.0" r="2.3" fill="#55b565"/>
<circle cx="481.2" cy="98.2" r="2.5" fill="#0f9a9c"/>
<circle cx="520.6" cy="101.8" r="2.7" fill="#1f55b8"/>
<circle cx="498.2" cy="101.1" r="2.3" fill="#0f9a9c"/>
<circle cx="483.8" cy="85.6" r="2.1" fill="#16aeb0"/>
<circle cx="530.2" cy="98.2" r="2.5" fill="#1b2f95"/>
<circle cx="505.4" cy="88.0" r="1.9" fill="#12a3a6"/>
<circle cx="482.3" cy="107.0" r="2.5" fill="#1b62c4"/>
<circle cx="532.8" cy="86.6" r="2.1" fill="#0f9a9c"/>
<circle cx="493.5" cy="91.5" r="2.5" fill="#0f9a9c"/>
<circle cx="536.4" cy="107.0" r="2.1" fill="#0f9a9c"/>
<circle cx="520.1" cy="85.6" r="2.5" fill="#2fa57c"/>
<circle cx="543.3" cy="95.3" r="2.2" fill="#a9cf3c"/>
<circle cx="480.0" cy="106.6" r="1.9" fill="#0f9a9c"/>
<circle cx="536.9" cy="95.7" r="2.2" fill="#2470cc"/>
<circle cx="538.3" cy="107.7" r="2.6" fill="#16aeb0"/>
<circle cx="523.6" cy="98.7" r="2.3" fill="#1b62c4"/>
<circle cx="526.2" cy="85.7" r="2.1" fill="#3fae6e"/>
<circle cx="501.8" cy="89.5" r="2.5" fill="#2fa57c"/>
<circle cx="484.9" cy="97.5" r="2.3" fill="#1b62c4"/>
<circle cx="481.5" cy="88.0" r="2.3" fill="#f8f814"/>
<circle cx="509.3" cy="93.1" r="2.2" fill="#1f55b8"/>
<circle cx="478.7" cy="103.7" r="2.0" fill="#55b565"/>
<circle cx="495.6" cy="104.4" r="2.4" fill="#20b8b4"/>
<circle cx="531.9" cy="90.7" r="2.1" fill="#f3ec22"/>
<circle cx="505.0" cy="99.7" r="2.2" fill="#a9cf3c"/>
<circle cx="509.9" cy="89.9" r="2.0" fill="#2470cc"/>
<circle cx="525.8" cy="91.2" r="2.9" fill="#2470cc"/>
<circle cx="514.0" cy="94.5" r="2.0" fill="#1b2f95"/>
<circle cx="528.9" cy="100.8" r="2.6" fill="#0f9a9c"/>
<circle cx="529.9" cy="85.9" r="2.2" fill="#a9cf3c"/>
<circle cx="504.0" cy="87.2" r="2.2" fill="#16aeb0"/>
<circle cx="522.8" cy="87.7" r="2.7" fill="#2a2a9c"/>
<circle cx="529.4" cy="89.6" r="2.1" fill="#3fae6e"/>
<circle cx="485.7" cy="101.7" r="2.3" fill="#6cbf55"/>
<circle cx="539.8" cy="103.0" r="2.1" fill="#0f9a9c"/>
<circle cx="502.3" cy="103.6" r="1.9" fill="#fbf530"/>
<circle cx="525.6" cy="95.8" r="2.8" fill="#1b62c4"/>
<circle cx="483.8" cy="91.9" r="2.6" fill="#55b565"/>
<circle cx="479.8" cy="86.1" r="2.1" fill="#20b8b4"/>
<circle cx="497.9" cy="94.0" r="2.5" fill="#0f9a9c"/>
<circle cx="542.1" cy="98.2" r="2.6" fill="#2fa57c"/>
<circle cx="494.6" cy="95.2" r="2.8" fill="#c4d930"/>
<circle cx="484.7" cy="102.8" r="2.8" fill="#3fae6e"/>
<circle cx="517.4" cy="101.2" r="2.0" fill="#3fae6e"/>
<circle cx="499.0" cy="103.1" r="2.3" fill="#f6f21c"/>
<circle cx="528.4" cy="108.2" r="2.2" fill="#a9cf3c"/>
<circle cx="483.2" cy="107.0" r="2.8" fill="#1b62c4"/>
<circle cx="524.8" cy="102.2" r="2.0" fill="#2470cc"/>
<circle cx="525.3" cy="95.1" r="2.4" fill="#1b2f95"/>
<circle cx="490.1" cy="107.1" r="2.1" fill="#2a2a9c"/>
<circle cx="488.3" cy="103.2" r="2.2" fill="#6cbf55"/>
<circle cx="481.1" cy="93.4" r="2.1" fill="#1f55b8"/>
<circle cx="498.5" cy="88.3" r="2.4" fill="#2470cc"/>
<circle cx="525.8" cy="85.3" r="2.8" fill="#1f55b8"/>
<circle cx="501.3" cy="92.1" r="2.2" fill="#16aeb0"/>
<circle cx="533.4" cy="97.8" r="2.5" fill="#16aeb0"/>
<circle cx="508.9" cy="102.8" r="2.6" fill="#3fae6e"/>
<circle cx="477.9" cy="96.4" r="2.8" fill="#12a3a6"/>
<circle cx="498.0" cy="87.7" r="2.8" fill="#2fa57c"/>
<circle cx="488.2" cy="95.4" r="2.2" fill="#c4d930"/>
<circle cx="515.5" cy="86.2" r="2.0" fill="#1b62c4"/>
<circle cx="526.6" cy="107.7" r="2.0" fill="#c4d930"/>
<circle cx="510.8" cy="95.2" r="1.9" fill="#6cbf55"/>
<circle cx="540.6" cy="100.0" r="2.5" fill="#c4d930"/>
<circle cx="482.4" cy="102.4" r="2.7" fill="#20b8b4"/>
<circle cx="497.5" cy="89.5" r="2.0" fill="#1b2f95"/>
<circle cx="526.7" cy="92.3" r="2.3" fill="#c4d930"/>
<circle cx="521.7" cy="93.4" r="2.1" fill="#6cbf55"/>
<circle cx="540.6" cy="104.5" r="2.0" fill="#55b565"/>
<circle cx="484.4" cy="103.7" r="2.8" fill="#1f55b8"/>
<circle cx="511.2" cy="96.7" r="2.5" fill="#0f9a9c"/>
<circle cx="520.3" cy="88.5" r="2.1" fill="#55b565"/>
<circle cx="521.0" cy="94.4" r="2.4" fill="#20b8b4"/>
<circle cx="492.1" cy="93.8" r="2.1" fill="#20b8b4"/>
<circle cx="482.0" cy="86.5" r="2.0" fill="#1b62c4"/>
<circle cx="477.6" cy="107.2" r="2.3" fill="#16aeb0"/>
<circle cx="477.3" cy="103.7" r="2.4" fill="#f8f814"/>
<circle cx="514.5" cy="97.1" r="2.8" fill="#2470cc"/>
<circle cx="536.8" cy="107.6" r="2.7" fill="#a9cf3c"/>
<circle cx="481.1" cy="100.8" r="2.5" fill="#c4d930"/>
<circle cx="506.1" cy="93.7" r="2.8" fill="#0f9a9c"/>
<circle cx="513.7" cy="99.8" r="2.6" fill="#55b565"/>
<circle cx="507.9" cy="87.2" r="2.5" fill="#c4d930"/>
<circle cx="542.2" cy="93.5" r="2.3" fill="#2fa57c"/>
<circle cx="484.9" cy="89.4" r="2.1" fill="#3fae6e"/>
<circle cx="534.9" cy="100.1" r="2.6" fill="#6cbf55"/>
<circle cx="492.7" cy="95.7" r="2.6" fill="#17257a"/>
<circle cx="539.8" cy="98.2" r="2.0" fill="#2470cc"/>
<circle cx="507.4" cy="105.1" r="2.5" fill="#17257a"/>
<circle cx="543.4" cy="97.0" r="2.3" fill="#2470cc"/>
<circle cx="488.8" cy="107.3" r="2.7" fill="#c4d930"/>
<circle cx="486.5" cy="103.1" r="2.1" fill="#20b8b4"/>
<circle cx="502.7" cy="85.5" r="2.4" fill="#a9cf3c"/>
<circle cx="485.3" cy="88.3" r="2.5" fill="#16aeb0"/>
<circle cx="540.4" cy="105.2" r="2.6" fill="#0f9a9c"/>
<circle cx="500.6" cy="102.8" r="2.0" fill="#0f9a9c"/>
<circle cx="502.8" cy="102.2" r="2.0" fill="#fbf530"/>
<circle cx="518.7" cy="87.5" r="2.7" fill="#2a2a9c"/>
<circle cx="484.8" cy="106.5" r="2.3" fill="#6cbf55"/>
<circle cx="525.0" cy="85.7" r="2.0" fill="#c4d930"/>
<circle cx="478.4" cy="87.7" r="2.1" fill="#55b565"/>
<circle cx="541.4" cy="105.3" r="2.5" fill="#1f55b8"/>
<circle cx="494.3" cy="108.1" r="1.9" fill="#2fa57c"/>
<circle cx="500.7" cy="88.7" r="2.8" fill="#1d3a9e"/>
<circle cx="532.3" cy="86.0" r="2.7" fill="#20b8b4"/>
<circle cx="543.9" cy="101.1" r="2.1" fill="#1b62c4"/>
<circle cx="543.2" cy="97.1" r="2.4" fill="#f3ec22"/>
<circle cx="498.5" cy="88.2" r="2.1" fill="#a9cf3c"/>
<circle cx="533.6" cy="101.9" r="2.3" fill="#fbf530"/>
<circle cx="501.4" cy="85.3" r="2.2" fill="#c4d930"/>
<circle cx="478.4" cy="95.8" r="2.5" fill="#a9cf3c"/>
<circle cx="527.2" cy="88.5" r="2.0" fill="#1b62c4"/>
<circle cx="545.5" cy="93.4" r="2.9" fill="#a9cf3c"/>
<circle cx="479.4" cy="98.1" r="2.7" fill="#16aeb0"/>
<circle cx="520.8" cy="99.8" r="2.7" fill="#f3ec22"/>
<circle cx="493.5" cy="103.5" r="2.2" fill="#12a3a6"/>
<circle cx="529.8" cy="102.2" r="2.3" fill="#1b2f95"/>
<circle cx="515.1" cy="94.5" r="2.6" fill="#0f9a9c"/>
<circle cx="538.1" cy="103.2" r="2.8" fill="#2a2a9c"/>
<circle cx="532.9" cy="108.1" r="2.1" fill="#16aeb0"/>
<circle cx="538.4" cy="100.6" r="2.3" fill="#1b62c4"/>
<circle cx="530.4" cy="106.6" r="2.1" fill="#a9cf3c"/>
<circle cx="526.8" cy="91.0" r="2.0" fill="#c4d930"/>
<circle cx="490.1" cy="106.5" r="2.2" fill="#a9cf3c"/>
<circle cx="501.4" cy="96.0" r="2.8" fill="#2470cc"/>
<circle cx="481.7" cy="96.3" r="2.8" fill="#0f9a9c"/>
<circle cx="514.8" cy="102.6" r="2.6" fill="#55b565"/>
<circle cx="492.1" cy="94.4" r="2.7" fill="#6cbf55"/>
<circle cx="521.8" cy="89.7" r="2.5" fill="#16aeb0"/>
<circle cx="482.5" cy="103.8" r="2.6" fill="#c4d930"/>
<circle cx="477.3" cy="91.4" r="2.8" fill="#0f9a9c"/>
<circle cx="491.7" cy="92.7" r="2.3" fill="#20b8b4"/>
<circle cx="523.9" cy="93.0" r="2.7" fill="#20b8b4"/>
<circle cx="483.0" cy="99.3" r="2.3" fill="#2470cc"/>
<circle cx="542.0" cy="105.3" r="2.5" fill="#0f9a9c"/>
<circle cx="545.3" cy="86.5" r="2.1" fill="#c4d930"/>
<circle cx="478.3" cy="90.0" r="2.3" fill="#17257a"/>
<circle cx="502.0" cy="93.1" r="2.6" fill="#a9cf3c"/>
<circle cx="518.6" cy="92.8" r="2.7" fill="#c4d930"/>
<circle cx="510.0" cy="85.9" r="2.5" fill="#2fa57c"/>
<circle cx="502.0" cy="97.4" r="2.2" fill="#55b565"/>
<circle cx="515.6" cy="87.5" r="2.9" fill="#f8f814"/>
<circle cx="492.8" cy="102.6" r="2.5" fill="#12a3a6"/>
<circle cx="485.4" cy="97.7" r="2.2" fill="#55b565"/>
<circle cx="518.9" cy="102.2" r="2.4" fill="#16aeb0"/>
<circle cx="501.2" cy="101.5" r="2.1" fill="#1b62c4"/>
<circle cx="540.1" cy="105.9" r="2.1" fill="#1b62c4"/>
<circle cx="531.6" cy="85.8" r="2.7" fill="#12a3a6"/>
<circle cx="540.2" cy="100.7" r="2.1" fill="#f6f21c"/>
<circle cx="503.0" cy="106.1" r="2.5" fill="#2470cc"/>
<circle cx="492.5" cy="91.0" r="2.2" fill="#2fa57c"/>
<circle cx="501.5" cy="92.7" r="2.2" fill="#2470cc"/>
<circle cx="537.8" cy="96.7" r="2.4" fill="#a9cf3c"/>
<circle cx="541.6" cy="102.9" r="2.2" fill="#0f9a9c"/>
<circle cx="499.9" cy="96.4" r="2.2" fill="#55b565"/>
<circle cx="519.2" cy="107.2" r="2.8" fill="#3fae6e"/>
<circle cx="491.5" cy="105.5" r="2.7" fill="#f6f21c"/>
<circle cx="536.7" cy="89.4" r="2.6" fill="#0f9a9c"/>
<circle cx="532.6" cy="88.7" r="2.8" fill="#16aeb0"/>
<circle cx="553.6" cy="102.1" r="2.4" fill="#1f55b8"/>
<circle cx="572.0" cy="94.7" r="2.9" fill="#f3ec22"/>
<circle cx="544.7" cy="90.6" r="2.0" fill="#17257a"/>
<circle cx="586.8" cy="98.4" r="1.9" fill="#2470cc"/>
<circle cx="616.5" cy="92.5" r="2.8" fill="#1f55b8"/>
<circle cx="615.0" cy="97.3" r="2.1" fill="#1b2f95"/>
<circle cx="582.7" cy="99.8" r="2.3" fill="#2470cc"/>
<circle cx="579.4" cy="106.3" r="2.7" fill="#55b565"/>
<circle cx="615.1" cy="90.4" r="2.6" fill="#1b62c4"/>
<circle cx="543.4" cy="91.4" r="2.4" fill="#1b2f95"/>
<circle cx="572.8" cy="98.0" r="1.9" fill="#6cbf55"/>
<circle cx="593.8" cy="100.2" r="2.6" fill="#0f9a9c"/>
<circle cx="615.8" cy="105.3" r="2.3" fill="#20b8b4"/>
<circle cx="582.7" cy="94.0" r="2.7" fill="#1b62c4"/>
<circle cx="608.3" cy="103.7" r="2.5" fill="#1b2f95"/>
<circle cx="611.6" cy="91.1" r="2.7" fill="#f8f814"/>
<circle cx="592.0" cy="87.2" r="2.3" fill="#17257a"/>
<circle cx="584.1" cy="101.0" r="2.4" fill="#55e0dc"/>
<circle cx="585.5" cy="96.1" r="2.5" fill="#55e0dc"/>
<circle cx="616.8" cy="90.6" r="2.6" fill="#f3ec22"/>
<circle cx="571.7" cy="97.3" r="2.5" fill="#3fae6e"/>
<circle cx="582.9" cy="90.3" r="2.8" fill="#0f9a9c"/>
<circle cx="577.7" cy="101.8" r="2.9" fill="#3fd6d6"/>
<circle cx="547.2" cy="102.6" r="2.4" fill="#55b565"/>
<circle cx="603.2" cy="90.7" r="2.7" fill="#1f55b8"/>
<circle cx="576.7" cy="99.9" r="2.3" fill="#2a2a9c"/>
<circle cx="604.6" cy="104.0" r="2.1" fill="#1b62c4"/>
<circle cx="561.1" cy="87.6" r="2.4" fill="#6cbf55"/>
<circle cx="548.9" cy="94.3" r="2.4" fill="#3fd6d6"/>
<circle cx="578.1" cy="103.6" r="2.6" fill="#1f55b8"/>
<circle cx="569.8" cy="97.2" r="2.4" fill="#0f9a9c"/>
<circle cx="602.3" cy="91.0" r="2.5" fill="#12a3a6"/>
<circle cx="546.6" cy="89.3" r="2.2" fill="#0f9a9c"/>
<circle cx="562.2" cy="95.3" r="2.1" fill="#3fd6d6"/>
<circle cx="574.0" cy="103.4" r="2.6" fill="#3fae6e"/>
<circle cx="570.4" cy="86.2" r="2.3" fill="#20b8b4"/>
<circle cx="587.8" cy="91.1" r="2.7" fill="#20b8b4"/>
<circle cx="552.0" cy="99.4" r="2.6" fill="#3fae6e"/>
<circle cx="566.9" cy="86.8" r="2.3" fill="#55e0dc"/>
<circle cx="573.3" cy="106.7" r="2.5" fill="#17257a"/>
<circle cx="576.9" cy="95.8" r="2.9" fill="#fbf530"/>
<circle cx="555.5" cy="86.7" r="2.0" fill="#fbf530"/>
<circle cx="598.6" cy="85.4" r="2.3" fill="#16aeb0"/>
<circle cx="545.3" cy="100.8" r="2.7" fill="#2fa57c"/>
<circle cx="551.1" cy="90.3" r="2.7" fill="#2470cc"/>
<circle cx="549.9" cy="87.2" r="2.0" fill="#20b8b4"/>
<circle cx="593.3" cy="101.6" r="2.4" fill="#3fd6d6"/>
<circle cx="598.3" cy="104.6" r="2.7" fill="#1b62c4"/>
<circle cx="607.6" cy="88.5" r="2.4" fill="#55b565"/>
<circle cx="542.7" cy="107.9" r="2.0" fill="#0f9a9c"/>
<circle cx="571.0" cy="100.5" r="2.4" fill="#20b8b4"/>
<circle cx="573.7" cy="86.4" r="2.8" fill="#16aeb0"/>
<circle cx="602.3" cy="104.9" r="2.1" fill="#0f9a9c"/>
<circle cx="546.2" cy="97.5" r="2.6" fill="#2fa57c"/>
<circle cx="595.4" cy="88.4" r="2.4" fill="#55b565"/>
<circle cx="595.2" cy="100.5" r="2.4" fill="#3fae6e"/>
<circle cx="572.9" cy="98.2" r="2.2" fill="#3fae6e"/>
<circle cx="601.9" cy="91.9" r="2.3" fill="#20b8b4"/>
<circle cx="596.8" cy="89.9" r="2.1" fill="#12a3a6"/>
<circle cx="606.5" cy="88.1" r="2.7" fill="#1f55b8"/>
<circle cx="579.5" cy="85.5" r="2.1" fill="#1b62c4"/>
<circle cx="596.2" cy="102.4" r="2.1" fill="#16aeb0"/>
<circle cx="611.0" cy="90.0" r="2.0" fill="#1b62c4"/>
<circle cx="601.0" cy="107.1" r="2.6" fill="#f8f814"/>
<circle cx="561.6" cy="106.0" r="2.8" fill="#f8f814"/>
<circle cx="611.5" cy="88.3" r="2.2" fill="#1b62c4"/>
<circle cx="559.7" cy="98.6" r="2.2" fill="#55b565"/>
<circle cx="561.6" cy="97.8" r="2.8" fill="#16aeb0"/>
<circle cx="592.1" cy="90.5" r="2.3" fill="#2a2a9c"/>
<circle cx="590.3" cy="90.3" r="2.4" fill="#1f55b8"/>
<circle cx="596.8" cy="95.1" r="2.0" fill="#f6f21c"/>
<circle cx="568.6" cy="100.3" r="2.2" fill="#12a3a6"/>
<circle cx="568.3" cy="102.5" r="2.1" fill="#3fd6d6"/>
<circle cx="563.2" cy="92.2" r="2.1" fill="#1f55b8"/>
<circle cx="562.6" cy="105.7" r="2.0" fill="#0f9a9c"/>
<circle cx="587.1" cy="107.4" r="2.8" fill="#55b565"/>
<circle cx="591.4" cy="86.4" r="2.4" fill="#6cbf55"/>
<circle cx="560.8" cy="102.3" r="2.7" fill="#1f55b8"/>
<circle cx="564.6" cy="86.8" r="2.6" fill="#3fd6d6"/>
<circle cx="550.7" cy="88.9" r="2.0" fill="#fbf530"/>
<circle cx="545.2" cy="98.5" r="2.3" fill="#f8f814"/>
<circle cx="605.0" cy="87.0" r="2.1" fill="#1b62c4"/>
<circle cx="612.8" cy="92.8" r="2.1" fill="#55e0dc"/>
<circle cx="549.3" cy="105.4" r="2.4" fill="#1f55b8"/>
<circle cx="582.4" cy="87.9" r="2.1" fill="#3fd6d6"/>
<circle cx="582.4" cy="96.9" r="2.2" fill="#55b565"/>
<circle cx="583.9" cy="107.9" r="2.8" fill="#16aeb0"/>
<circle cx="543.4" cy="106.9" r="2.6" fill="#3fd6d6"/>
<circle cx="559.4" cy="102.5" r="2.9" fill="#1b62c4"/>
<circle cx="574.0" cy="99.6" r="2.5" fill="#1b62c4"/>
<circle cx="551.3" cy="100.5" r="2.2" fill="#16aeb0"/>
<circle cx="600.3" cy="97.0" r="2.0" fill="#1b2f95"/>
<circle cx="567.5" cy="87.5" r="2.7" fill="#16aeb0"/>
<circle cx="567.9" cy="103.8" r="1.9" fill="#3fd6d6"/>
<circle cx="612.7" cy="94.7" r="2.0" fill="#f6f21c"/>
<circle cx="560.6" cy="102.1" r="2.7" fill="#1f55b8"/>
<circle cx="600.0" cy="89.9" r="2.6" fill="#0f9a9c"/>
<circle cx="547.3" cy="85.3" r="2.4" fill="#3fd6d6"/>
<circle cx="600.6" cy="106.1" r="2.8" fill="#1f55b8"/>
<circle cx="546.0" cy="93.6" r="2.5" fill="#f6f21c"/>
<circle cx="615.0" cy="98.6" r="2.0" fill="#55e0dc"/>
<circle cx="604.3" cy="106.8" r="2.7" fill="#1d3a9e"/>
<circle cx="602.3" cy="98.8" r="2.7" fill="#fbf530"/>
<circle cx="601.0" cy="105.2" r="2.0" fill="#12a3a6"/>
<circle cx="600.9" cy="103.7" r="2.1" fill="#16aeb0"/>
<circle cx="576.6" cy="90.6" r="2.3" fill="#3fd6d6"/>
<circle cx="601.0" cy="103.5" r="2.3" fill="#2fa57c"/>
<circle cx="548.8" cy="100.2" r="2.7" fill="#2fa57c"/>
<circle cx="542.6" cy="96.4" r="2.8" fill="#17257a"/>
<circle cx="577.9" cy="94.6" r="2.1" fill="#20b8b4"/>
<circle cx="583.1" cy="87.1" r="2.5" fill="#fbf530"/>
<circle cx="564.2" cy="87.2" r="2.6" fill="#16aeb0"/>
<circle cx="575.4" cy="100.4" r="2.1" fill="#12a3a6"/>
<circle cx="589.2" cy="93.8" r="2.2" fill="#1b62c4"/>
<circle cx="614.0" cy="93.5" r="2.8" fill="#0f9a9c"/>
<circle cx="588.0" cy="105.8" r="2.4" fill="#f3ec22"/>
<circle cx="613.8" cy="96.9" r="2.3" fill="#16aeb0"/>
<circle cx="543.0" cy="104.8" r="2.4" fill="#1f55b8"/>
<circle cx="602.9" cy="91.0" r="2.9" fill="#3fae6e"/>
<circle cx="597.3" cy="102.5" r="2.8" fill="#f8f814"/>
<circle cx="609.2" cy="100.5" r="2.5" fill="#2470cc"/>
<circle cx="575.5" cy="107.2" r="2.6" fill="#6cbf55"/>
<circle cx="589.6" cy="93.8" r="2.4" fill="#1d3a9e"/>
<circle cx="594.1" cy="85.6" r="2.3" fill="#2470cc"/>
<circle cx="565.6" cy="97.0" r="2.5" fill="#2470cc"/>
<circle cx="576.6" cy="107.0" r="1.9" fill="#3fd6d6"/>
<circle cx="612.4" cy="91.4" r="2.9" fill="#12a3a6"/>
<circle cx="555.3" cy="98.8" r="2.2" fill="#16aeb0"/>
<circle cx="583.0" cy="94.9" r="2.7" fill="#f6f21c"/>
<circle cx="592.9" cy="94.0" r="2.2" fill="#6cbf55"/>
<circle cx="604.7" cy="96.6" r="2.8" fill="#2a2a9c"/>
<circle cx="557.3" cy="103.8" r="2.2" fill="#1b2f95"/>
<circle cx="581.3" cy="100.9" r="2.9" fill="#2a2a9c"/>
<circle cx="600.5" cy="93.5" r="2.2" fill="#1b62c4"/>
<circle cx="612.9" cy="89.7" r="2.3" fill="#2fa57c"/>
<circle cx="593.3" cy="93.5" r="2.7" fill="#2fa57c"/>
<circle cx="577.7" cy="87.8" r="2.5" fill="#55e0dc"/>
<circle cx="600.6" cy="92.4" r="2.6" fill="#1b62c4"/>
<circle cx="577.5" cy="98.1" r="2.2" fill="#f6f21c"/>
<circle cx="569.4" cy="106.3" r="2.2" fill="#12a3a6"/>
<circle cx="600.0" cy="86.2" r="2.5" fill="#0f9a9c"/>
<circle cx="569.2" cy="107.8" r="2.0" fill="#2470cc"/>
<circle cx="587.4" cy="104.3" r="2.1" fill="#1b62c4"/>
<circle cx="555.5" cy="101.8" r="2.3" fill="#1b62c4"/>
<circle cx="612.7" cy="102.3" r="2.3" fill="#2fa57c"/>
<circle cx="602.6" cy="93.2" r="2.8" fill="#2470cc"/>
<circle cx="582.1" cy="97.2" r="2.1" fill="#16aeb0"/>
<circle cx="593.3" cy="106.5" r="1.9" fill="#2470cc"/>
<circle cx="585.2" cy="90.6" r="2.1" fill="#fbf530"/>
<circle cx="596.8" cy="103.3" r="2.1" fill="#1f55b8"/>
<circle cx="605.9" cy="90.7" r="2.8" fill="#1b62c4"/>
<circle cx="597.9" cy="104.1" r="2.0" fill="#f3ec22"/>
<circle cx="595.0" cy="101.4" r="2.7" fill="#12a3a6"/>
<circle cx="587.6" cy="96.9" r="2.2" fill="#16aeb0"/>
<circle cx="569.2" cy="98.3" r="1.9" fill="#1b62c4"/>
<circle cx="581.0" cy="88.0" r="1.9" fill="#55b565"/>
<circle cx="589.4" cy="88.4" r="2.9" fill="#12a3a6"/>
<circle cx="586.5" cy="98.9" r="2.4" fill="#17257a"/>
<circle cx="577.3" cy="96.3" r="2.8" fill="#0f9a9c"/>
<circle cx="582.0" cy="90.5" r="2.7" fill="#0f9a9c"/>
<circle cx="602.8" cy="97.6" r="2.7" fill="#1b2f95"/>
<circle cx="544.4" cy="96.8" r="2.0" fill="#f3ec22"/>
<circle cx="589.5" cy="101.9" r="2.3" fill="#1b62c4"/>
<circle cx="613.8" cy="94.6" r="2.8" fill="#2a2a9c"/>
<circle cx="566.9" cy="107.9" r="2.4" fill="#2470cc"/>
<circle cx="552.3" cy="95.6" r="2.2" fill="#3fd6d6"/>
<circle cx="556.5" cy="94.5" r="2.0" fill="#16aeb0"/>
<circle cx="609.5" cy="85.6" r="2.7" fill="#16aeb0"/>
<circle cx="557.3" cy="102.6" r="2.8" fill="#12a3a6"/>
<circle cx="596.4" cy="101.7" r="2.1" fill="#1b62c4"/>
<circle cx="543.3" cy="105.1" r="2.5" fill="#0f9a9c"/>
<circle cx="584.6" cy="92.5" r="2.0" fill="#6cbf55"/>
<circle cx="597.6" cy="101.1" r="2.7" fill="#f6f21c"/>
<circle cx="576.4" cy="87.5" r="2.3" fill="#1f55b8"/>
<circle cx="608.5" cy="96.4" r="2.7" fill="#1b62c4"/>
<circle cx="577.9" cy="104.1" r="2.4" fill="#1f55b8"/>
<circle cx="561.1" cy="94.1" r="2.6" fill="#6cbf55"/>
<circle cx="612.5" cy="89.6" r="2.7" fill="#20b8b4"/>
<circle cx="596.6" cy="88.9" r="2.1" fill="#f8f814"/>
<circle cx="550.6" cy="101.9" r="1.9" fill="#f6f21c"/>
<circle cx="604.5" cy="103.3" r="2.1" fill="#3fd6d6"/>
<circle cx="585.2" cy="106.2" r="2.5" fill="#6cbf55"/>
<circle cx="608.6" cy="96.3" r="2.2" fill="#12a3a6"/>
<circle cx="610.1" cy="94.0" r="2.5" fill="#1f55b8"/>
<circle cx="551.7" cy="89.8" r="2.7" fill="#55e0dc"/>
<circle cx="585.0" cy="101.7" r="2.3" fill="#3fd6d6"/>
<circle cx="592.7" cy="101.6" r="2.6" fill="#20b8b4"/>
<circle cx="577.6" cy="88.5" r="2.0" fill="#55e0dc"/>
<circle cx="560.1" cy="107.9" r="2.3" fill="#12a3a6"/>
<circle cx="601.3" cy="104.1" r="2.0" fill="#1b2f95"/>
<circle cx="615.4" cy="103.7" r="2.0" fill="#1d3a9e"/>
<circle cx="560.3" cy="106.6" r="2.8" fill="#12a3a6"/>
<circle cx="590.1" cy="106.3" r="2.1" fill="#12a3a6"/>
<circle cx="543.6" cy="102.6" r="2.0" fill="#2470cc"/>
<circle cx="553.0" cy="97.4" r="2.4" fill="#3fae6e"/>
<circle cx="613.9" cy="94.0" r="2.7" fill="#17257a"/>
<circle cx="583.9" cy="104.1" r="2.0" fill="#2470cc"/>
<circle cx="583.1" cy="91.9" r="2.5" fill="#f6f21c"/>
<circle cx="557.9" cy="89.5" r="2.0" fill="#3fd6d6"/>
<circle cx="591.0" cy="90.0" r="2.5" fill="#f6f21c"/>
<circle cx="548.7" cy="97.2" r="2.6" fill="#1f55b8"/>
<circle cx="605.9" cy="104.7" r="2.3" fill="#1f55b8"/>
<circle cx="564.9" cy="102.7" r="2.5" fill="#1b62c4"/>
<circle cx="615.6" cy="102.9" r="2.0" fill="#17257a"/>
<circle cx="550.8" cy="101.1" r="2.4" fill="#20b8b4"/>
<circle cx="572.8" cy="99.3" r="2.8" fill="#12a3a6"/>
<circle cx="605.0" cy="101.7" r="2.7" fill="#1b2f95"/>
<circle cx="574.5" cy="105.4" r="2.8" fill="#2470cc"/>
<circle cx="575.4" cy="101.4" r="2.7" fill="#0f9a9c"/>
<circle cx="544.4" cy="94.0" r="2.1" fill="#1b62c4"/>
<circle cx="613.2" cy="100.3" r="2.2" fill="#55e0dc"/>
<circle cx="561.0" cy="94.7" r="2.1" fill="#2a2a9c"/>
<circle cx="608.6" cy="106.4" r="2.7" fill="#3fae6e"/>
<circle cx="600.3" cy="105.7" r="2.1" fill="#2470cc"/>
<circle cx="544.9" cy="104.8" r="2.3" fill="#f3ec22"/>
<circle cx="634.7" cy="106.0" r="1.9" fill="#3fd6d6"/>
<circle cx="638.4" cy="97.5" r="2.0" fill="#f6f21c"/>
<circle cx="624.3" cy="101.8" r="1.8" fill="#0f9a9c"/>
<circle cx="621.0" cy="105.7" r="2.0" fill="#1b62c4"/>
<circle cx="622.6" cy="105.7" r="1.7" fill="#2fa57c"/>
<circle cx="625.6" cy="87.3" r="2.0" fill="#55e0dc"/>
<circle cx="638.6" cy="101.5" r="2.0" fill="#3fd6d6"/>
<circle cx="639.8" cy="92.8" r="1.9" fill="#12a3a6"/>
<circle cx="619.6" cy="88.2" r="2.1" fill="#1f55b8"/>
<circle cx="638.3" cy="96.9" r="1.7" fill="#2fa57c"/>
<circle cx="620.4" cy="92.8" r="1.9" fill="#f8f814"/>
<circle cx="640.9" cy="88.6" r="1.8" fill="#f3ec22"/>
<circle cx="623.9" cy="94.5" r="2.2" fill="#3fd6d6"/>
<circle cx="643.4" cy="100.1" r="2.2" fill="#3fae6e"/>
<circle cx="619.5" cy="88.5" r="2.0" fill="#1b62c4"/>
<circle cx="623.1" cy="89.6" r="1.8" fill="#12a3a6"/>
<circle cx="638.4" cy="98.1" r="1.6" fill="#3fd6d6"/>
<circle cx="617.6" cy="103.8" r="1.8" fill="#55e0dc"/>
<circle cx="640.7" cy="89.5" r="1.8" fill="#6cbf55"/>
<circle cx="634.2" cy="88.9" r="1.7" fill="#3fd6d6"/>
<circle cx="629.6" cy="102.0" r="2.2" fill="#3fd6d6"/>
<circle cx="642.1" cy="103.8" r="1.7" fill="#55e0dc"/>
<circle cx="617.4" cy="88.7" r="1.7" fill="#f3ec22"/>
<circle cx="618.1" cy="95.5" r="1.9" fill="#12a3a6"/>
<circle cx="640.4" cy="88.6" r="1.9" fill="#20b8b4"/>
<circle cx="622.8" cy="91.3" r="1.6" fill="#f6f21c"/>
<circle cx="619.4" cy="93.9" r="2.2" fill="#f8f814"/>
<circle cx="635.3" cy="88.1" r="2.1" fill="#55e0dc"/>
<circle cx="635.5" cy="104.1" r="1.6" fill="#f6f21c"/>
<circle cx="631.3" cy="87.8" r="1.9" fill="#1f55b8"/>
<circle cx="627.5" cy="88.7" r="1.9" fill="#f3ec22"/>
<circle cx="648.0" cy="102.4" r="2.1" fill="#3fd6d6"/>
<circle cx="637.8" cy="88.7" r="1.6" fill="#6cbf55"/>
<circle cx="640.1" cy="96.2" r="1.9" fill="#55b565"/>
<circle cx="671.0" cy="103.2" r="2.4" fill="#1d3a9e"/>
<circle cx="652.7" cy="99.8" r="2.3" fill="#2470cc"/>
<circle cx="671.7" cy="89.2" r="1.8" fill="#2470cc"/>
<circle cx="678.1" cy="100.0" r="2.4" fill="#55b565"/>
<circle cx="652.2" cy="95.8" r="2.2" fill="#3fae6e"/>
<circle cx="677.8" cy="92.2" r="2.0" fill="#1f55b8"/>
<circle cx="661.4" cy="90.4" r="1.8" fill="#1d3a9e"/>
<circle cx="656.8" cy="93.8" r="1.8" fill="#1f55b8"/>
<circle cx="663.2" cy="104.1" r="2.4" fill="#2fa57c"/>
<circle cx="658.2" cy="105.2" r="1.9" fill="#1b62c4"/>
<circle cx="682.4" cy="95.8" r="1.8" fill="#1b62c4"/>
<circle cx="657.2" cy="94.9" r="2.3" fill="#3fae6e"/>
<circle cx="675.4" cy="91.2" r="2.3" fill="#1b2f95"/>
<circle cx="659.6" cy="95.7" r="1.9" fill="#20b8b4"/>
<circle cx="659.1" cy="88.7" r="2.6" fill="#1f55b8"/>
<circle cx="682.4" cy="89.0" r="1.9" fill="#1f55b8"/>
<circle cx="664.7" cy="87.9" r="2.0" fill="#1b62c4"/>
<circle cx="669.2" cy="90.9" r="2.0" fill="#2470cc"/>
<circle cx="680.7" cy="94.8" r="2.6" fill="#1d3a9e"/>
<circle cx="654.9" cy="86.6" r="2.0" fill="#1f55b8"/>
<circle cx="681.4" cy="104.5" r="2.2" fill="#1f55b8"/>
<circle cx="677.8" cy="103.1" r="2.2" fill="#3fae6e"/>
<circle cx="667.1" cy="97.3" r="2.6" fill="#6cbf55"/>
<circle cx="681.3" cy="90.2" r="2.3" fill="#2a2a9c"/>
<circle cx="657.3" cy="100.7" r="2.0" fill="#2470cc"/>
<circle cx="663.0" cy="97.2" r="2.4" fill="#3fae6e"/>
<circle cx="653.5" cy="100.5" r="2.0" fill="#2470cc"/>
<circle cx="680.0" cy="95.5" r="2.4" fill="#2470cc"/>
<circle cx="681.1" cy="104.9" r="2.5" fill="#1b62c4"/>
<circle cx="658.9" cy="95.2" r="2.1" fill="#2470cc"/>
<circle cx="681.3" cy="105.1" r="2.4" fill="#1b62c4"/>
<circle cx="662.8" cy="100.1" r="2.6" fill="#1f55b8"/>
<circle cx="671.4" cy="104.7" r="2.2" fill="#17257a"/>
<circle cx="678.9" cy="99.1" r="2.2" fill="#3fae6e"/>
<circle cx="665.7" cy="93.2" r="2.1" fill="#0f9a9c"/>
<circle cx="675.0" cy="92.8" r="1.8" fill="#2470cc"/>
<circle cx="672.5" cy="89.6" r="2.6" fill="#1f55b8"/>
<circle cx="675.3" cy="103.7" r="2.3" fill="#55b565"/>
<circle cx="673.4" cy="106.5" r="2.4" fill="#1b62c4"/>
<circle cx="661.0" cy="91.6" r="2.5" fill="#1d3a9e"/>
<circle cx="678.6" cy="98.6" r="2.3" fill="#1f55b8"/>
<circle cx="664.4" cy="98.0" r="2.5" fill="#17257a"/>
<circle cx="677.4" cy="88.0" r="1.9" fill="#1f55b8"/>
<circle cx="657.1" cy="105.1" r="1.8" fill="#1f55b8"/>
<circle cx="654.3" cy="88.1" r="2.2" fill="#1f55b8"/>
<circle cx="654.0" cy="93.5" r="2.4" fill="#1b62c4"/>
<circle cx="678.6" cy="93.2" r="1.9" fill="#2a2a9c"/>
<circle cx="654.5" cy="99.3" r="1.9" fill="#6cbf55"/>
<circle cx="678.4" cy="93.1" r="1.9" fill="#20b8b4"/>
<circle cx="670.3" cy="107.0" r="2.5" fill="#1b2f95"/>
<circle cx="664.7" cy="92.4" r="2.0" fill="#1b2f95"/>
<circle cx="653.9" cy="96.1" r="1.9" fill="#1b2f95"/>
<circle cx="673.5" cy="103.1" r="1.8" fill="#2470cc"/>
<circle cx="672.1" cy="98.1" r="1.9" fill="#1f55b8"/>
<circle cx="669.6" cy="88.5" r="2.0" fill="#2fa57c"/>
<circle cx="659.7" cy="95.1" r="2.4" fill="#0f9a9c"/>
<circle cx="652.7" cy="101.4" r="2.0" fill="#2470cc"/>
<circle cx="671.4" cy="100.7" r="2.6" fill="#16aeb0"/>
<circle cx="658.0" cy="92.7" r="1.9" fill="#6cbf55"/>
<circle cx="653.6" cy="95.9" r="2.4" fill="#2470cc"/>
<circle cx="681.2" cy="102.9" r="2.0" fill="#1b62c4"/>
<circle cx="673.9" cy="87.4" r="1.8" fill="#0f9a9c"/>
<circle cx="653.2" cy="97.0" r="2.6" fill="#1f55b8"/>
<circle cx="678.7" cy="95.9" r="1.9" fill="#1b62c4"/>
<circle cx="667.3" cy="97.1" r="2.4" fill="#2470cc"/>
<circle cx="668.0" cy="102.5" r="2.3" fill="#17257a"/>
<circle cx="665.2" cy="87.6" r="2.2" fill="#55b565"/>
<circle cx="677.9" cy="105.9" r="2.1" fill="#2470cc"/>
<circle cx="665.4" cy="105.7" r="1.8" fill="#2470cc"/>
<circle cx="675.3" cy="88.0" r="1.8" fill="#1f55b8"/>
<circle cx="681.9" cy="105.3" r="2.2" fill="#1f55b8"/>
<circle cx="670.7" cy="92.5" r="2.1" fill="#2a2a9c"/>
<circle cx="654.4" cy="94.5" r="1.8" fill="#17257a"/>
<circle cx="679.7" cy="100.3" r="2.4" fill="#12a3a6"/>
<circle cx="661.4" cy="103.4" r="1.9" fill="#20b8b4"/>
<circle cx="691.7" cy="101.5" r="1.7" fill="#f3ec22"/>
<circle cx="722.0" cy="95.9" r="1.5" fill="#17257a"/>
<circle cx="724.2" cy="104.6" r="1.6" fill="#fbf530"/>
<circle cx="692.2" cy="102.3" r="2.0" fill="#fbf530"/>
<circle cx="715.4" cy="90.0" r="1.5" fill="#20b8b4"/>
<circle cx="718.7" cy="93.8" r="1.6" fill="#12a3a6"/>
<circle cx="704.2" cy="105.5" r="1.7" fill="#0f9a9c"/>
<circle cx="715.2" cy="103.0" r="1.5" fill="#20b8b4"/>
<circle cx="684.4" cy="91.9" r="2.0" fill="#3fae6e"/>
<circle cx="695.1" cy="88.4" r="1.6" fill="#0f9a9c"/>
<circle cx="697.8" cy="103.6" r="1.7" fill="#6cbf55"/>
<circle cx="699.3" cy="94.5" r="1.4" fill="#16aeb0"/>
<circle cx="712.9" cy="101.3" r="2.0" fill="#1b2f95"/>
<circle cx="711.6" cy="88.6" r="2.0" fill="#16aeb0"/>
<circle cx="695.1" cy="99.5" r="2.0" fill="#fbf530"/>
<circle cx="690.0" cy="97.4" r="1.7" fill="#3fae6e"/>
<circle cx="720.0" cy="103.0" r="2.0" fill="#12a3a6"/>
<circle cx="720.0" cy="105.3" r="2.0" fill="#2fa57c"/>
<circle cx="717.4" cy="103.4" r="1.7" fill="#0f9a9c"/>
<circle cx="687.1" cy="89.8" r="1.6" fill="#12a3a6"/>
<circle cx="687.3" cy="88.9" r="2.1" fill="#16aeb0"/>
<circle cx="711.4" cy="93.3" r="1.7" fill="#fbf530"/>
<circle cx="711.1" cy="103.8" r="2.1" fill="#f3ec22"/>
<circle cx="715.4" cy="93.3" r="1.9" fill="#3fae6e"/>
<circle cx="778.3" cy="103.0" r="1.8" fill="#20b8b4"/>
<circle cx="727.2" cy="104.0" r="1.6" fill="#16aeb0"/>
<circle cx="754.7" cy="103.5" r="1.8" fill="#12a3a6"/>
<circle cx="756.1" cy="89.1" r="2.2" fill="#20b8b4"/>
<circle cx="736.1" cy="93.4" r="1.6" fill="#3fae6e"/>
<circle cx="765.2" cy="101.5" r="2.1" fill="#0f9a9c"/>
<circle cx="778.0" cy="95.6" r="2.1" fill="#3fd6d6"/>
<circle cx="737.1" cy="93.5" r="1.8" fill="#55b565"/>
<circle cx="765.6" cy="88.9" r="2.2" fill="#20b8b4"/>
<circle cx="755.7" cy="101.4" r="2.1" fill="#12a3a6"/>
<circle cx="755.2" cy="100.9" r="2.1" fill="#3fae6e"/>
<circle cx="737.4" cy="89.1" r="2.1" fill="#20b8b4"/>
<circle cx="755.6" cy="91.0" r="1.7" fill="#3fd6d6"/>
<circle cx="757.8" cy="92.8" r="1.7" fill="#55b565"/>
<circle cx="753.2" cy="96.2" r="2.0" fill="#12a3a6"/>
<circle cx="773.4" cy="91.3" r="1.6" fill="#0f9a9c"/>
<circle cx="769.2" cy="92.4" r="2.1" fill="#16aeb0"/>
<circle cx="764.0" cy="90.5" r="1.6" fill="#3fd6d6"/>
<circle cx="770.1" cy="103.5" r="2.1" fill="#20b8b4"/>
<circle cx="749.5" cy="90.1" r="1.5" fill="#20b8b4"/>
<circle cx="750.4" cy="98.9" r="2.0" fill="#2fa57c"/>
<circle cx="739.3" cy="91.9" r="1.7" fill="#20b8b4"/>
<circle cx="352.1" cy="181.3" r="1.9" fill="#1b62c4"/>
<circle cx="347.9" cy="181.4" r="2.2" fill="#16aeb0"/>
<circle cx="359.0" cy="191.4" r="2.7" fill="#20b8b4"/>
<circle cx="352.7" cy="178.9" r="2.0" fill="#2470cc"/>
<circle cx="345.8" cy="189.9" r="1.9" fill="#1d3a9e"/>
<circle cx="357.2" cy="181.9" r="2.3" fill="#16aeb0"/>
<circle cx="358.9" cy="186.6" r="2.2" fill="#1d3a9e"/>
<circle cx="355.4" cy="194.7" r="2.4" fill="#20b8b4"/>
<circle cx="347.2" cy="188.9" r="2.4" fill="#1b2f95"/>
<circle cx="356.2" cy="183.3" r="2.2" fill="#16aeb0"/>
<circle cx="360.8" cy="186.6" r="2.1" fill="#16aeb0"/>
<circle cx="346.9" cy="194.4" r="2.6" fill="#2a2a9c"/>
<circle cx="352.1" cy="180.5" r="2.3" fill="#2a2a9c"/>
<circle cx="358.2" cy="181.7" r="2.1" fill="#12a3a6"/>
<circle cx="351.2" cy="187.9" r="2.2" fill="#12a3a6"/>
<circle cx="351.2" cy="182.5" r="2.7" fill="#2a2a9c"/>
<circle cx="349.5" cy="185.4" r="1.9" fill="#12a3a6"/>
<circle cx="348.1" cy="190.7" r="2.1" fill="#1f55b8"/>
<circle cx="348.3" cy="184.1" r="2.7" fill="#17257a"/>
<circle cx="354.0" cy="194.8" r="2.2" fill="#1b2f95"/>
<circle cx="347.9" cy="191.0" r="1.9" fill="#20b8b4"/>
<circle cx="359.6" cy="191.1" r="1.9" fill="#1b62c4"/>
<circle cx="345.5" cy="177.2" r="2.5" fill="#2a2a9c"/>
<circle cx="355.4" cy="177.0" r="2.0" fill="#1f55b8"/>
<circle cx="355.0" cy="189.3" r="2.0" fill="#1b62c4"/>
<circle cx="359.3" cy="181.7" r="2.3" fill="#0f9a9c"/>
<circle cx="352.9" cy="175.0" r="2.0" fill="#1f55b8"/>
<circle cx="347.2" cy="182.2" r="2.3" fill="#1d3a9e"/>
<circle cx="356.3" cy="175.2" r="2.3" fill="#12a3a6"/>
<circle cx="359.8" cy="187.7" r="2.3" fill="#20b8b4"/>
<circle cx="347.1" cy="175.6" r="2.0" fill="#1b62c4"/>
<circle cx="351.1" cy="189.7" r="2.6" fill="#17257a"/>
<circle cx="350.8" cy="190.0" r="2.2" fill="#2470cc"/>
<circle cx="356.0" cy="181.8" r="2.1" fill="#16aeb0"/>
<circle cx="351.0" cy="180.4" r="2.6" fill="#2470cc"/>
<circle cx="358.7" cy="196.3" r="2.4" fill="#0f9a9c"/>
<circle cx="354.2" cy="192.1" r="2.4" fill="#16aeb0"/>
<circle cx="354.0" cy="195.4" r="2.7" fill="#1d3a9e"/>
<circle cx="357.6" cy="177.8" r="2.7" fill="#1d3a9e"/>
<circle cx="354.7" cy="183.9" r="2.4" fill="#17257a"/>
<circle cx="359.8" cy="182.5" r="2.6" fill="#fbf530"/>
<circle cx="384.8" cy="179.7" r="2.9" fill="#20b8b4"/>
<circle cx="358.2" cy="185.4" r="2.4" fill="#0f9a9c"/>
<circle cx="381.8" cy="180.2" r="3.2" fill="#f8f814"/>
<circle cx="394.0" cy="197.4" r="2.7" fill="#2a2a9c"/>
<circle cx="390.6" cy="183.1" r="3.2" fill="#20b8b4"/>
<circle cx="356.1" cy="193.6" r="2.5" fill="#2470cc"/>
<circle cx="379.5" cy="194.3" r="2.5" fill="#16aeb0"/>
<circle cx="390.1" cy="194.1" r="2.6" fill="#f6f21c"/>
<circle cx="355.2" cy="175.5" r="2.4" fill="#1f55b8"/>
<circle cx="379.5" cy="194.5" r="2.5" fill="#f3ec22"/>
<circle cx="393.5" cy="177.9" r="2.9" fill="#f6f21c"/>
<circle cx="389.5" cy="179.7" r="3.1" fill="#f8f814"/>
<circle cx="363.5" cy="194.1" r="2.4" fill="#f3ec22"/>
<circle cx="356.7" cy="177.4" r="3.2" fill="#2a2a9c"/>
<circle cx="386.7" cy="188.6" r="2.4" fill="#1d3a9e"/>
<circle cx="371.7" cy="184.8" r="3.0" fill="#f6f21c"/>
<circle cx="363.9" cy="184.6" r="3.2" fill="#2470cc"/>
<circle cx="393.1" cy="177.4" r="2.8" fill="#12a3a6"/>
<circle cx="371.2" cy="177.5" r="2.7" fill="#fbf530"/>
<circle cx="393.5" cy="187.0" r="3.0" fill="#fbf530"/>
<circle cx="379.0" cy="177.4" r="2.6" fill="#f3ec22"/>
<circle cx="358.9" cy="196.8" r="3.2" fill="#2a2a9c"/>
<circle cx="370.4" cy="186.6" r="2.5" fill="#f6f21c"/>
<circle cx="373.5" cy="196.5" r="2.8" fill="#2a2a9c"/>
<circle cx="394.2" cy="190.0" r="3.2" fill="#fbf530"/>
<circle cx="380.9" cy="186.5" r="2.9" fill="#2470cc"/>
<circle cx="369.3" cy="188.0" r="3.2" fill="#f3ec22"/>
<circle cx="364.4" cy="196.8" r="2.2" fill="#fbf530"/>
<circle cx="377.5" cy="178.4" r="3.0" fill="#17257a"/>
<circle cx="364.1" cy="176.1" r="3.2" fill="#f6f21c"/>
<circle cx="382.8" cy="190.6" r="2.2" fill="#f3ec22"/>
<circle cx="372.1" cy="196.8" r="2.7" fill="#f6f21c"/>
<circle cx="368.9" cy="190.5" r="2.2" fill="#1b2f95"/>
<circle cx="362.7" cy="177.8" r="2.3" fill="#1f55b8"/>
<circle cx="393.5" cy="179.9" r="2.9" fill="#0f9a9c"/>
<circle cx="370.3" cy="197.3" r="2.8" fill="#f6f21c"/>
<circle cx="383.6" cy="183.7" r="3.1" fill="#2470cc"/>
<circle cx="375.8" cy="183.8" r="2.2" fill="#2470cc"/>
<circle cx="355.3" cy="174.8" r="2.3" fill="#1d3a9e"/>
<circle cx="384.8" cy="186.7" r="2.4" fill="#f3ec22"/>
<circle cx="360.1" cy="177.3" r="2.8" fill="#f6f21c"/>
<circle cx="387.9" cy="177.3" r="2.8" fill="#17257a"/>
<circle cx="371.6" cy="186.5" r="2.4" fill="#f6f21c"/>
<circle cx="360.1" cy="195.7" r="3.1" fill="#f8f814"/>
<circle cx="369.2" cy="192.1" r="2.8" fill="#1b62c4"/>
<circle cx="372.3" cy="184.9" r="3.2" fill="#f8f814"/>
<circle cx="396.0" cy="174.7" r="3.2" fill="#1b2f95"/>
<circle cx="379.6" cy="177.8" r="2.2" fill="#f3ec22"/>
<circle cx="368.1" cy="175.6" r="2.6" fill="#12a3a6"/>
<circle cx="367.2" cy="185.8" r="2.9" fill="#1b2f95"/>
<circle cx="361.4" cy="183.9" r="3.2" fill="#fbf530"/>
<circle cx="378.9" cy="185.4" r="2.9" fill="#2470cc"/>
<circle cx="360.7" cy="188.5" r="2.7" fill="#f3ec22"/>
<circle cx="368.3" cy="176.0" r="2.7" fill="#16aeb0"/>
<circle cx="361.2" cy="189.6" r="2.9" fill="#2a2a9c"/>
<circle cx="358.0" cy="195.2" r="2.9" fill="#f8f814"/>
<circle cx="358.4" cy="183.3" r="3.2" fill="#2a2a9c"/>
<circle cx="368.3" cy="179.9" r="2.4" fill="#0f9a9c"/>
<circle cx="371.0" cy="190.0" r="2.3" fill="#17257a"/>
<circle cx="357.1" cy="186.5" r="2.6" fill="#f6f21c"/>
<circle cx="382.9" cy="179.6" r="2.8" fill="#fbf530"/>
<circle cx="373.0" cy="175.0" r="2.3" fill="#1d3a9e"/>
<circle cx="357.0" cy="184.0" r="2.9" fill="#12a3a6"/>
<circle cx="378.5" cy="196.9" r="2.3" fill="#f6f21c"/>
<circle cx="367.7" cy="174.8" r="2.5" fill="#2a2a9c"/>
<circle cx="383.5" cy="182.3" r="2.3" fill="#0f9a9c"/>
<circle cx="372.6" cy="177.8" r="2.7" fill="#f6f21c"/>
<circle cx="372.3" cy="179.1" r="2.9" fill="#f3ec22"/>
<circle cx="359.0" cy="182.6" r="2.2" fill="#16aeb0"/>
<circle cx="355.9" cy="182.0" r="3.2" fill="#1b62c4"/>
<circle cx="367.6" cy="195.3" r="3.1" fill="#2470cc"/>
<circle cx="379.0" cy="196.8" r="2.5" fill="#16aeb0"/>
<circle cx="362.7" cy="191.0" r="2.5" fill="#f3ec22"/>
<circle cx="377.7" cy="197.3" r="2.9" fill="#2a2a9c"/>
<circle cx="359.6" cy="174.0" r="2.2" fill="#1b2f95"/>
<circle cx="366.5" cy="176.4" r="3.0" fill="#20b8b4"/>
<circle cx="376.0" cy="179.5" r="2.7" fill="#2470cc"/>
<circle cx="377.1" cy="180.5" r="2.2" fill="#2470cc"/>
<circle cx="365.0" cy="181.2" r="2.9" fill="#16aeb0"/>
<circle cx="390.5" cy="190.5" r="2.3" fill="#2a2a9c"/>
<circle cx="369.3" cy="189.2" r="3.2" fill="#1f55b8"/>
<circle cx="372.4" cy="191.1" r="2.9" fill="#f3ec22"/>
<circle cx="365.6" cy="175.0" r="2.2" fill="#fbf530"/>
<circle cx="394.8" cy="186.1" r="3.0" fill="#0f9a9c"/>
<circle cx="363.8" cy="181.6" r="2.7" fill="#f8f814"/>
<circle cx="369.7" cy="180.0" r="2.9" fill="#17257a"/>
<circle cx="391.9" cy="193.9" r="2.5" fill="#1b62c4"/>
<circle cx="360.7" cy="177.2" r="2.9" fill="#16aeb0"/>
<circle cx="369.0" cy="175.0" r="2.5" fill="#16aeb0"/>
<circle cx="390.1" cy="194.9" r="2.4" fill="#1d3a9e"/>
<circle cx="386.8" cy="182.5" r="3.1" fill="#f6f21c"/>
<circle cx="372.7" cy="183.0" r="3.2" fill="#2a2a9c"/>
<circle cx="370.7" cy="178.0" r="3.0" fill="#1f55b8"/>
<circle cx="358.9" cy="181.2" r="2.8" fill="#f6f21c"/>
<circle cx="362.1" cy="174.0" r="2.5" fill="#16aeb0"/>
<circle cx="362.6" cy="194.0" r="2.7" fill="#f8f814"/>
<circle cx="386.7" cy="194.7" r="2.8" fill="#f6f21c"/>
<circle cx="375.9" cy="193.9" r="2.3" fill="#fbf530"/>
<circle cx="363.1" cy="181.0" r="2.2" fill="#2a2a9c"/>
<circle cx="363.8" cy="181.5" r="2.9" fill="#1b2f95"/>
<circle cx="372.0" cy="181.5" r="2.8" fill="#fbf530"/>
<circle cx="376.1" cy="186.7" r="2.7" fill="#f3ec22"/>
<circle cx="384.3" cy="184.7" r="2.9" fill="#f6f21c"/>
<circle cx="373.6" cy="187.9" r="2.8" fill="#fbf530"/>
<circle cx="370.5" cy="192.7" r="3.0" fill="#f3ec22"/>
<circle cx="385.7" cy="196.0" r="2.7" fill="#f3ec22"/>
<circle cx="363.1" cy="173.6" r="2.4" fill="#f6f21c"/>
<circle cx="354.3" cy="183.3" r="3.2" fill="#2a2a9c"/>
<circle cx="368.8" cy="182.3" r="2.3" fill="#16aeb0"/>
<circle cx="429.0" cy="176.2" r="2.1" fill="#16aeb0"/>
<circle cx="419.3" cy="193.8" r="2.7" fill="#0f9a9c"/>
<circle cx="435.2" cy="190.7" r="2.6" fill="#f3ec22"/>
<circle cx="429.3" cy="181.4" r="2.2" fill="#12a3a6"/>
<circle cx="421.4" cy="196.5" r="2.3" fill="#16aeb0"/>
<circle cx="403.7" cy="189.4" r="2.3" fill="#1b62c4"/>
<circle cx="408.6" cy="192.5" r="2.7" fill="#1f55b8"/>
<circle cx="418.4" cy="191.1" r="2.1" fill="#fbf530"/>
<circle cx="458.9" cy="189.9" r="2.4" fill="#fbf530"/>
<circle cx="447.9" cy="186.5" r="2.6" fill="#f8f814"/>
<circle cx="410.4" cy="189.0" r="2.6" fill="#a9cf3c"/>
<circle cx="452.6" cy="180.5" r="2.6" fill="#c4d930"/>
<circle cx="400.2" cy="180.1" r="2.4" fill="#16aeb0"/>
<circle cx="435.1" cy="192.2" r="2.6" fill="#2fa57c"/>
<circle cx="414.6" cy="176.5" r="2.4" fill="#20b8b4"/>
<circle cx="459.6" cy="193.2" r="2.5" fill="#f6f21c"/>
<circle cx="394.8" cy="195.9" r="2.7" fill="#c4d930"/>
<circle cx="397.4" cy="195.2" r="2.5" fill="#f6f21c"/>
<circle cx="408.4" cy="175.6" r="2.1" fill="#2470cc"/>
<circle cx="405.1" cy="181.0" r="2.0" fill="#12a3a6"/>
<circle cx="418.3" cy="195.3" r="2.0" fill="#f6f21c"/>
<circle cx="441.0" cy="189.6" r="2.8" fill="#12a3a6"/>
<circle cx="460.9" cy="184.1" r="2.7" fill="#12a3a6"/>
<circle cx="443.1" cy="179.0" r="2.5" fill="#fbf530"/>
<circle cx="452.1" cy="176.9" r="2.7" fill="#1b62c4"/>
<circle cx="424.0" cy="178.2" r="2.2" fill="#6cbf55"/>
<circle cx="458.4" cy="185.8" r="2.3" fill="#c4d930"/>
<circle cx="408.0" cy="178.7" r="2.4" fill="#20b8b4"/>
<circle cx="427.2" cy="174.1" r="2.1" fill="#20b8b4"/>
<circle cx="416.5" cy="191.1" r="2.4" fill="#1b2f95"/>
<circle cx="403.2" cy="195.5" r="2.1" fill="#2470cc"/>
<circle cx="458.0" cy="189.2" r="2.5" fill="#6cbf55"/>
<circle cx="454.8" cy="179.8" r="2.4" fill="#12a3a6"/>
<circle cx="418.6" cy="187.4" r="2.3" fill="#6cbf55"/>
<circle cx="392.7" cy="192.7" r="2.5" fill="#16aeb0"/>
<circle cx="434.1" cy="188.5" r="2.2" fill="#a9cf3c"/>
<circle cx="452.2" cy="192.4" r="2.3" fill="#1d3a9e"/>
<circle cx="439.1" cy="196.4" r="2.1" fill="#3fae6e"/>
<circle cx="404.4" cy="195.0" r="2.5" fill="#16aeb0"/>
<circle cx="422.5" cy="180.2" r="2.6" fill="#f8f814"/>
<circle cx="450.6" cy="177.4" r="2.5" fill="#2fa57c"/>
<circle cx="426.1" cy="175.9" r="2.0" fill="#2fa57c"/>
<circle cx="445.6" cy="187.2" r="2.7" fill="#1b2f95"/>
<circle cx="460.7" cy="188.6" r="2.5" fill="#55b565"/>
<circle cx="418.2" cy="185.0" r="2.6" fill="#f8f814"/>
<circle cx="403.1" cy="186.7" r="2.7" fill="#f6f21c"/>
<circle cx="452.7" cy="174.7" r="2.0" fill="#55b565"/>
<circle cx="410.0" cy="175.6" r="2.2" fill="#1f55b8"/>
<circle cx="413.3" cy="184.6" r="2.7" fill="#16aeb0"/>
<circle cx="442.5" cy="176.2" r="2.0" fill="#3fae6e"/>
<circle cx="444.3" cy="184.4" r="2.9" fill="#1f55b8"/>
<circle cx="407.0" cy="174.4" r="2.5" fill="#1d3a9e"/>
<circle cx="429.4" cy="178.9" r="2.5" fill="#17257a"/>
<circle cx="448.4" cy="191.5" r="2.2" fill="#1d3a9e"/>
<circle cx="449.7" cy="195.2" r="2.6" fill="#1b2f95"/>
<circle cx="431.2" cy="184.6" r="2.0" fill="#3fae6e"/>
<circle cx="418.0" cy="194.6" r="2.2" fill="#f6f21c"/>
<circle cx="426.3" cy="177.3" r="2.7" fill="#2fa57c"/>
<circle cx="453.0" cy="183.9" r="2.5" fill="#55b565"/>
<circle cx="437.9" cy="189.3" r="2.3" fill="#fbf530"/>
<circle cx="415.0" cy="187.8" r="2.0" fill="#12a3a6"/>
<circle cx="438.9" cy="180.4" r="2.7" fill="#0f9a9c"/>
<circle cx="440.1" cy="177.4" r="2.9" fill="#f6f21c"/>
<circle cx="413.2" cy="192.2" r="2.5" fill="#16aeb0"/>
<circle cx="436.5" cy="191.3" r="2.4" fill="#f6f21c"/>
<circle cx="413.3" cy="196.7" r="2.3" fill="#17257a"/>
<circle cx="408.3" cy="196.8" r="2.5" fill="#20b8b4"/>
<circle cx="450.1" cy="182.9" r="2.5" fill="#12a3a6"/>
<circle cx="437.6" cy="179.8" r="2.3" fill="#55b565"/>
<circle cx="445.2" cy="180.1" r="2.3" fill="#a9cf3c"/>
<circle cx="457.4" cy="195.0" r="2.5" fill="#3fae6e"/>
<circle cx="421.3" cy="174.3" r="2.8" fill="#2470cc"/>
<circle cx="413.4" cy="187.6" r="2.8" fill="#f6f21c"/>
<circle cx="400.1" cy="180.7" r="2.3" fill="#fbf530"/>
<circle cx="447.7" cy="175.6" r="2.4" fill="#f8f814"/>
<circle cx="436.6" cy="193.1" r="2.1" fill="#3fae6e"/>
<circle cx="449.3" cy="183.5" r="2.2" fill="#16aeb0"/>
<circle cx="459.2" cy="187.0" r="2.2" fill="#fbf530"/>
<circle cx="396.6" cy="176.2" r="2.5" fill="#17257a"/>
<circle cx="407.4" cy="193.6" r="2.2" fill="#20b8b4"/>
<circle cx="432.2" cy="174.0" r="2.2" fill="#2470cc"/>
<circle cx="430.6" cy="188.8" r="2.7" fill="#f6f21c"/>
<circle cx="426.8" cy="179.0" r="2.4" fill="#f3ec22"/>
<circle cx="427.3" cy="190.8" r="2.3" fill="#16aeb0"/>
<circle cx="454.2" cy="180.1" r="2.8" fill="#2fa57c"/>
<circle cx="410.3" cy="193.0" r="2.9" fill="#55b565"/>
<circle cx="437.3" cy="192.9" r="2.2" fill="#f6f21c"/>
<circle cx="441.1" cy="182.1" r="2.4" fill="#2fa57c"/>
<circle cx="441.8" cy="175.8" r="2.4" fill="#f8f814"/>
<circle cx="437.4" cy="190.0" r="2.8" fill="#f8f814"/>
<circle cx="419.6" cy="189.9" r="2.6" fill="#6cbf55"/>
<circle cx="431.3" cy="196.9" r="2.6" fill="#20b8b4"/>
<circle cx="420.2" cy="183.0" r="2.8" fill="#1b2f95"/>
<circle cx="446.3" cy="197.3" r="2.7" fill="#1f55b8"/>
<circle cx="409.2" cy="191.3" r="2.8" fill="#c4d930"/>
<circle cx="411.0" cy="192.4" r="2.2" fill="#1b62c4"/>
<circle cx="418.0" cy="192.7" r="2.1" fill="#a9cf3c"/>
<circle cx="403.3" cy="187.1" r="2.2" fill="#2fa57c"/>
<circle cx="399.6" cy="177.2" r="2.9" fill="#6cbf55"/>
<circle cx="412.5" cy="175.5" r="2.8" fill="#2fa57c"/>
<circle cx="458.1" cy="178.8" r="2.3" fill="#1f55b8"/>
<circle cx="436.2" cy="192.4" r="2.3" fill="#f8f814"/>
<circle cx="409.1" cy="187.7" r="2.3" fill="#2470cc"/>
<circle cx="438.6" cy="175.7" r="2.1" fill="#1b62c4"/>
<circle cx="396.6" cy="187.3" r="2.7" fill="#f6f21c"/>
<circle cx="433.4" cy="188.6" r="2.1" fill="#2470cc"/>
<circle cx="420.1" cy="195.0" r="2.3" fill="#1b62c4"/>
<circle cx="403.6" cy="175.7" r="2.8" fill="#20b8b4"/>
<circle cx="448.7" cy="187.1" r="2.8" fill="#12a3a6"/>
<circle cx="418.2" cy="176.0" r="2.6" fill="#0f9a9c"/>
<circle cx="456.9" cy="189.0" r="2.7" fill="#20b8b4"/>
<circle cx="423.3" cy="184.6" r="2.6" fill="#12a3a6"/>
<circle cx="404.6" cy="176.2" r="2.1" fill="#a9cf3c"/>
<circle cx="426.6" cy="181.5" r="2.4" fill="#20b8b4"/>
<circle cx="395.7" cy="193.6" r="2.3" fill="#f8f814"/>
<circle cx="397.2" cy="174.2" r="2.3" fill="#2470cc"/>
<circle cx="458.5" cy="183.4" r="2.5" fill="#a9cf3c"/>
<circle cx="409.0" cy="180.8" r="2.3" fill="#1b62c4"/>
<circle cx="437.1" cy="185.6" r="2.5" fill="#12a3a6"/>
<circle cx="461.4" cy="178.4" r="1.9" fill="#12a3a6"/>
<circle cx="450.7" cy="194.0" r="2.4" fill="#2470cc"/>
<circle cx="418.3" cy="175.9" r="1.9" fill="#2a2a9c"/>
<circle cx="419.0" cy="179.8" r="2.4" fill="#fbf530"/>
<circle cx="418.5" cy="185.3" r="2.4" fill="#17257a"/>
<circle cx="422.4" cy="185.6" r="2.6" fill="#f6f21c"/>
<circle cx="425.0" cy="191.9" r="2.5" fill="#12a3a6"/>
<circle cx="421.6" cy="187.8" r="2.8" fill="#fbf530"/>
<circle cx="409.6" cy="187.3" r="2.2" fill="#17257a"/>
<circle cx="445.1" cy="188.3" r="2.4" fill="#0f9a9c"/>
<circle cx="456.7" cy="187.1" r="2.4" fill="#fbf530"/>
<circle cx="430.7" cy="190.9" r="2.2" fill="#c4d930"/>
<circle cx="454.9" cy="174.6" r="2.1" fill="#12a3a6"/>
<circle cx="441.6" cy="190.3" r="2.8" fill="#3fae6e"/>
<circle cx="403.9" cy="179.8" r="2.6" fill="#1b2f95"/>
<circle cx="442.1" cy="197.0" r="2.8" fill="#16aeb0"/>
<circle cx="446.4" cy="196.3" r="2.4" fill="#2fa57c"/>
<circle cx="419.2" cy="181.8" r="2.7" fill="#1f55b8"/>
<circle cx="459.0" cy="180.4" r="2.4" fill="#12a3a6"/>
<circle cx="447.5" cy="174.8" r="2.7" fill="#f8f814"/>
<circle cx="392.6" cy="193.6" r="2.2" fill="#f3ec22"/>
<circle cx="403.3" cy="176.7" r="2.5" fill="#12a3a6"/>
<circle cx="400.9" cy="192.7" r="2.7" fill="#c4d930"/>
<circle cx="449.3" cy="178.7" r="2.1" fill="#c4d930"/>
<circle cx="392.6" cy="194.3" r="2.8" fill="#12a3a6"/>
<circle cx="405.1" cy="184.0" r="2.8" fill="#16aeb0"/>
<circle cx="414.2" cy="189.9" r="2.2" fill="#c4d930"/>
<circle cx="409.9" cy="186.5" r="2.8" fill="#c4d930"/>
<circle cx="409.3" cy="190.2" r="2.7" fill="#f8f814"/>
<circle cx="445.5" cy="180.9" r="2.8" fill="#f3ec22"/>
<circle cx="439.4" cy="192.9" r="2.0" fill="#c4d930"/>
<circle cx="416.6" cy="194.6" r="2.0" fill="#a9cf3c"/>
<circle cx="444.6" cy="175.7" r="2.0" fill="#17257a"/>
<circle cx="423.9" cy="174.8" r="2.0" fill="#1d3a9e"/>
<circle cx="420.0" cy="178.3" r="2.7" fill="#2a2a9c"/>
<circle cx="429.3" cy="190.3" r="2.0" fill="#c4d930"/>
<circle cx="421.5" cy="180.5" r="2.3" fill="#f8f814"/>
<circle cx="423.2" cy="178.0" r="2.3" fill="#1b62c4"/>
<circle cx="456.2" cy="196.0" r="2.5" fill="#1f55b8"/>
<circle cx="452.1" cy="179.7" r="2.0" fill="#20b8b4"/>
<circle cx="427.2" cy="191.9" r="2.1" fill="#c4d930"/>
<circle cx="392.9" cy="194.6" r="2.5" fill="#20b8b4"/>
<circle cx="431.0" cy="190.9" r="2.6" fill="#fbf530"/>
<circle cx="413.8" cy="185.9" r="2.3" fill="#0f9a9c"/>
<circle cx="424.9" cy="195.4" r="2.8" fill="#2470cc"/>
<circle cx="402.1" cy="195.6" r="2.6" fill="#fbf530"/>
<circle cx="447.7" cy="180.1" r="2.8" fill="#1b62c4"/>
<circle cx="452.9" cy="183.7" r="2.9" fill="#fbf530"/>
<circle cx="442.9" cy="190.3" r="2.5" fill="#f6f21c"/>
<circle cx="461.1" cy="180.9" r="2.3" fill="#2fa57c"/>
<circle cx="438.3" cy="190.0" r="2.3" fill="#2470cc"/>
<circle cx="419.4" cy="178.9" r="2.5" fill="#12a3a6"/>
<circle cx="423.4" cy="197.1" r="2.5" fill="#2a2a9c"/>
<circle cx="436.3" cy="179.3" r="2.2" fill="#2a2a9c"/>
<circle cx="414.3" cy="185.3" r="2.9" fill="#1f55b8"/>
<circle cx="431.4" cy="178.5" r="2.0" fill="#f8f814"/>
<circle cx="413.1" cy="175.4" r="2.4" fill="#55b565"/>
<circle cx="413.2" cy="195.1" r="2.0" fill="#17257a"/>
<circle cx="397.1" cy="189.5" r="2.1" fill="#fbf530"/>
<circle cx="429.0" cy="191.4" r="2.1" fill="#12a3a6"/>
<circle cx="415.0" cy="183.8" r="2.0" fill="#f6f21c"/>
<circle cx="415.0" cy="194.2" r="2.3" fill="#2a2a9c"/>
<circle cx="460.6" cy="179.9" r="2.1" fill="#1f55b8"/>
<circle cx="445.2" cy="196.2" r="2.5" fill="#16aeb0"/>
<circle cx="437.7" cy="182.9" r="2.2" fill="#f8f814"/>
<circle cx="417.6" cy="180.1" r="2.5" fill="#3fae6e"/>
<circle cx="419.1" cy="188.4" r="1.9" fill="#12a3a6"/>
<circle cx="440.3" cy="183.8" r="2.4" fill="#0f9a9c"/>
<circle cx="432.1" cy="178.8" r="2.5" fill="#6cbf55"/>
<circle cx="425.5" cy="182.0" r="2.9" fill="#17257a"/>
<circle cx="393.2" cy="194.6" r="2.5" fill="#fbf530"/>
<circle cx="480.2" cy="183.5" r="1.8" fill="#a9cf3c"/>
<circle cx="459.1" cy="190.3" r="1.8" fill="#55e0dc"/>
<circle cx="457.8" cy="181.2" r="2.0" fill="#55e0dc"/>
<circle cx="479.4" cy="189.9" r="1.9" fill="#2fa57c"/>
<circle cx="483.0" cy="177.9" r="1.7" fill="#2fa57c"/>
<circle cx="461.1" cy="182.5" r="1.6" fill="#3fd6d6"/>
<circle cx="483.1" cy="176.4" r="1.7" fill="#3fd6d6"/>
<circle cx="484.1" cy="181.7" r="2.0" fill="#c4d930"/>
<circle cx="481.3" cy="191.0" r="1.9" fill="#6cbf55"/>
<circle cx="491.4" cy="186.7" r="1.6" fill="#55e0dc"/>
<circle cx="484.7" cy="188.5" r="1.5" fill="#6cbf55"/>
<circle cx="486.7" cy="179.6" r="1.5" fill="#0f9a9c"/>
<circle cx="470.4" cy="186.9" r="1.8" fill="#3fae6e"/>
<circle cx="472.6" cy="176.8" r="1.7" fill="#c4d930"/>
<circle cx="476.0" cy="188.9" r="1.7" fill="#0f9a9c"/>
<circle cx="479.3" cy="179.4" r="1.8" fill="#55e0dc"/>
<circle cx="489.3" cy="178.2" r="1.6" fill="#3fae6e"/>
<circle cx="466.4" cy="180.2" r="1.5" fill="#3fd6d6"/>
<circle cx="481.3" cy="183.4" r="1.9" fill="#c4d930"/>
<circle cx="464.4" cy="187.2" r="1.6" fill="#c4d930"/>
<circle cx="482.4" cy="175.1" r="1.5" fill="#6cbf55"/>
<circle cx="462.9" cy="185.6" r="1.8" fill="#3fd6d6"/>
<circle cx="462.9" cy="182.8" r="1.9" fill="#55b565"/>
<circle cx="469.4" cy="176.9" r="2.0" fill="#c4d930"/>
<circle cx="465.0" cy="189.8" r="2.1" fill="#20b8b4"/>
<circle cx="464.7" cy="185.7" r="2.0" fill="#20b8b4"/>
<circle cx="483.7" cy="185.1" r="2.1" fill="#0f9a9c"/>
<circle cx="461.3" cy="190.3" r="1.9" fill="#6cbf55"/>
<circle cx="472.0" cy="188.8" r="2.1" fill="#0f9a9c"/>
<circle cx="471.1" cy="189.8" r="2.0" fill="#c4d930"/>
<circle cx="468.2" cy="185.4" r="1.8" fill="#16aeb0"/>
<circle cx="460.5" cy="191.7" r="2.1" fill="#a9cf3c"/>
<circle cx="490.5" cy="190.9" r="1.9" fill="#12a3a6"/>
<circle cx="458.3" cy="193.1" r="1.6" fill="#c4d930"/>
<circle cx="458.8" cy="193.0" r="1.6" fill="#3fae6e"/>
<circle cx="473.7" cy="178.8" r="1.5" fill="#3fd6d6"/>
<circle cx="488.8" cy="185.8" r="1.8" fill="#55b565"/>
<circle cx="470.3" cy="191.6" r="1.9" fill="#c4d930"/>
<circle cx="475.3" cy="192.7" r="1.7" fill="#a9cf3c"/>
<circle cx="462.5" cy="190.0" r="2.0" fill="#3fd6d6"/>
<circle cx="501.7" cy="186.0" r="1.5" fill="#c4d930"/>
<circle cx="496.3" cy="183.2" r="2.0" fill="#12a3a6"/>
<circle cx="505.2" cy="181.5" r="1.4" fill="#f8f814"/>
<circle cx="499.2" cy="181.0" r="1.6" fill="#f6f21c"/>
<circle cx="489.7" cy="189.4" r="1.9" fill="#a9cf3c"/>
<circle cx="498.4" cy="185.4" r="1.7" fill="#f8f814"/>
<circle cx="508.0" cy="183.5" r="1.6" fill="#f6f21c"/>
<circle cx="515.4" cy="182.0" r="1.7" fill="#f8f814"/>
<circle cx="492.3" cy="187.0" r="2.0" fill="#16aeb0"/>
<circle cx="509.7" cy="181.9" r="1.8" fill="#fbf530"/>
<circle cx="502.3" cy="177.7" r="1.8" fill="#20b8b4"/>
<circle cx="490.7" cy="182.4" r="1.5" fill="#20b8b4"/>
<circle cx="497.0" cy="181.4" r="1.4" fill="#fbf530"/>
<circle cx="512.1" cy="178.7" r="1.8" fill="#a9cf3c"/>
<circle cx="500.5" cy="180.0" r="2.0" fill="#f8f814"/>
<circle cx="519.2" cy="175.8" r="2.0" fill="#c4d930"/>
<circle cx="518.2" cy="175.6" r="1.5" fill="#fbf530"/>
<circle cx="511.3" cy="182.9" r="1.6" fill="#c4d930"/>
<circle cx="496.1" cy="186.6" r="1.6" fill="#12a3a6"/>
<circle cx="515.2" cy="181.0" r="2.0" fill="#a9cf3c"/>
<circle cx="502.4" cy="179.3" r="1.9" fill="#c4d930"/>
<circle cx="519.1" cy="180.7" r="1.8" fill="#f6f21c"/>
<circle cx="360.2" cy="272.8" r="2.6" fill="#12a3a6"/>
<circle cx="375.1" cy="268.2" r="2.4" fill="#a9cf3c"/>
<circle cx="388.0" cy="267.4" r="3.0" fill="#0f9a9c"/>
<circle cx="385.0" cy="264.6" r="2.1" fill="#17257a"/>
<circle cx="374.1" cy="278.0" r="2.8" fill="#0f9a9c"/>
<circle cx="375.4" cy="270.7" r="2.9" fill="#f8f814"/>
<circle cx="378.4" cy="266.6" r="2.3" fill="#0f9a9c"/>
<circle cx="380.1" cy="269.6" r="2.3" fill="#1b2f95"/>
<circle cx="384.1" cy="268.1" r="2.6" fill="#16aeb0"/>
<circle cx="375.2" cy="284.0" r="2.2" fill="#0f9a9c"/>
<circle cx="388.2" cy="270.3" r="3.0" fill="#1d3a9e"/>
<circle cx="365.2" cy="271.8" r="2.8" fill="#fbf530"/>
<circle cx="382.2" cy="267.2" r="2.7" fill="#0f9a9c"/>
<circle cx="373.1" cy="269.5" r="2.9" fill="#f8f814"/>
<circle cx="372.3" cy="279.8" r="2.1" fill="#55b565"/>
<circle cx="382.1" cy="286.6" r="2.0" fill="#2a2a9c"/>
<circle cx="384.4" cy="273.4" r="2.1" fill="#f3ec22"/>
<circle cx="363.6" cy="270.1" r="2.6" fill="#6cbf55"/>
<circle cx="393.9" cy="282.8" r="2.7" fill="#2a2a9c"/>
<circle cx="384.0" cy="264.3" r="2.6" fill="#12a3a6"/>
<circle cx="360.7" cy="276.6" r="2.8" fill="#17257a"/>
<circle cx="380.1" cy="273.3" r="3.0" fill="#fbf530"/>
<circle cx="385.9" cy="271.2" r="2.3" fill="#f3ec22"/>
<circle cx="389.2" cy="265.8" r="2.8" fill="#0f9a9c"/>
<circle cx="379.0" cy="280.0" r="3.0" fill="#16aeb0"/>
<circle cx="389.3" cy="277.5" r="2.3" fill="#0f9a9c"/>
<circle cx="369.3" cy="265.1" r="2.1" fill="#17257a"/>
<circle cx="373.1" cy="276.8" r="2.3" fill="#20b8b4"/>
<circle cx="369.2" cy="278.0" r="2.2" fill="#2a2a9c"/>
<circle cx="390.1" cy="265.7" r="2.2" fill="#f6f21c"/>
<circle cx="377.6" cy="274.4" r="2.9" fill="#20b8b4"/>
<circle cx="376.1" cy="264.0" r="2.0" fill="#17257a"/>
<circle cx="370.9" cy="266.4" r="2.8" fill="#12a3a6"/>
<circle cx="364.3" cy="270.1" r="2.5" fill="#17257a"/>
<circle cx="365.3" cy="284.4" r="2.5" fill="#16aeb0"/>
<circle cx="370.1" cy="267.2" r="2.4" fill="#55b565"/>
<circle cx="366.1" cy="270.3" r="2.6" fill="#f3ec22"/>
<circle cx="373.8" cy="282.2" r="2.6" fill="#f3ec22"/>
<circle cx="375.7" cy="280.9" r="2.6" fill="#f6f21c"/>
<circle cx="380.9" cy="266.6" r="2.9" fill="#c4d930"/>
<circle cx="360.5" cy="265.3" r="2.8" fill="#fbf530"/>
<circle cx="390.3" cy="270.6" r="2.7" fill="#f3ec22"/>
<circle cx="372.7" cy="271.2" r="2.5" fill="#fbf530"/>
<circle cx="387.9" cy="271.2" r="2.7" fill="#a9cf3c"/>
<circle cx="390.4" cy="271.5" r="2.7" fill="#20b8b4"/>
<circle cx="372.2" cy="276.3" r="2.4" fill="#0f9a9c"/>
<circle cx="364.6" cy="264.7" r="2.6" fill="#2a2a9c"/>
<circle cx="383.9" cy="278.8" r="2.0" fill="#3fae6e"/>
<circle cx="391.9" cy="269.8" r="2.4" fill="#16aeb0"/>
<circle cx="379.1" cy="265.2" r="2.7" fill="#f6f21c"/>
<circle cx="392.8" cy="273.6" r="2.9" fill="#12a3a6"/>
<circle cx="361.7" cy="263.3" r="2.4" fill="#f8f814"/>
<circle cx="390.3" cy="266.6" r="3.0" fill="#1d3a9e"/>
<circle cx="387.8" cy="263.1" r="2.7" fill="#1b2f95"/>
<circle cx="370.4" cy="280.6" r="2.4" fill="#3fae6e"/>
<circle cx="390.3" cy="279.4" r="2.6" fill="#55b565"/>
<circle cx="387.7" cy="275.7" r="2.7" fill="#12a3a6"/>
<circle cx="393.4" cy="279.9" r="2.0" fill="#16aeb0"/>
<circle cx="376.4" cy="282.9" r="2.6" fill="#6cbf55"/>
<circle cx="360.8" cy="274.8" r="2.1" fill="#fbf530"/>
<circle cx="379.6" cy="270.7" r="2.6" fill="#c4d930"/>
<circle cx="375.2" cy="275.9" r="2.6" fill="#1d3a9e"/>
<circle cx="378.2" cy="275.9" r="2.8" fill="#55b565"/>
<circle cx="362.5" cy="266.0" r="2.5" fill="#a9cf3c"/>
<circle cx="391.7" cy="279.0" r="2.2" fill="#f8f814"/>
<circle cx="367.5" cy="263.6" r="2.1" fill="#c4d930"/>
<circle cx="378.1" cy="270.2" r="2.6" fill="#20b8b4"/>
<circle cx="370.2" cy="280.6" r="2.5" fill="#16aeb0"/>
<circle cx="375.9" cy="269.9" r="2.5" fill="#f6f21c"/>
<circle cx="381.2" cy="267.5" r="2.9" fill="#17257a"/>
<circle cx="388.1" cy="274.7" r="2.3" fill="#f8f814"/>
<circle cx="385.4" cy="286.6" r="2.0" fill="#f3ec22"/>
<circle cx="372.1" cy="271.4" r="2.9" fill="#12a3a6"/>
<circle cx="390.4" cy="270.9" r="2.8" fill="#0f9a9c"/>
<circle cx="364.8" cy="282.0" r="2.5" fill="#f6f21c"/>
<circle cx="393.9" cy="270.5" r="2.0" fill="#f6f21c"/>
<circle cx="367.3" cy="272.8" r="2.3" fill="#c4d930"/>
<circle cx="360.8" cy="285.7" r="2.1" fill="#c4d930"/>
<circle cx="379.1" cy="280.0" r="2.9" fill="#6cbf55"/>
<circle cx="386.1" cy="271.3" r="2.3" fill="#f3ec22"/>
<circle cx="372.6" cy="277.0" r="2.1" fill="#fbf530"/>
<circle cx="391.7" cy="264.7" r="2.3" fill="#0f9a9c"/>
<circle cx="364.8" cy="264.9" r="2.4" fill="#1d3a9e"/>
<circle cx="368.0" cy="267.3" r="2.9" fill="#0f9a9c"/>
<circle cx="371.6" cy="282.7" r="2.4" fill="#6cbf55"/>
<circle cx="379.2" cy="283.4" r="2.9" fill="#f6f21c"/>
<circle cx="360.7" cy="275.9" r="2.1" fill="#12a3a6"/>
<circle cx="391.7" cy="273.5" r="2.4" fill="#fbf530"/>
<circle cx="380.3" cy="273.3" r="2.8" fill="#f6f21c"/>
<circle cx="378.7" cy="266.1" r="2.7" fill="#55b565"/>
<circle cx="393.9" cy="263.7" r="2.3" fill="#2a2a9c"/>
<circle cx="362.0" cy="269.3" r="3.0" fill="#f6f21c"/>
<circle cx="367.1" cy="264.8" r="2.1" fill="#16aeb0"/>
<circle cx="367.6" cy="273.5" r="2.4" fill="#f3ec22"/>
<circle cx="394.3" cy="285.4" r="2.5" fill="#1d3a9e"/>
<circle cx="365.3" cy="272.1" r="2.5" fill="#55b565"/>
<circle cx="383.4" cy="265.3" r="2.1" fill="#20b8b4"/>
<circle cx="385.7" cy="279.1" r="2.1" fill="#a9cf3c"/>
<circle cx="383.2" cy="272.9" r="2.7" fill="#2fa57c"/>
<circle cx="380.9" cy="273.2" r="2.3" fill="#fbf530"/>
<circle cx="363.2" cy="277.4" r="2.3" fill="#16aeb0"/>
<circle cx="367.6" cy="278.1" r="2.2" fill="#16aeb0"/>
<circle cx="383.7" cy="287.0" r="2.4" fill="#2fa57c"/>
<circle cx="382.4" cy="283.8" r="2.3" fill="#f8f814"/>
<circle cx="393.9" cy="264.6" r="2.5" fill="#a9cf3c"/>
<circle cx="439.2" cy="278.1" r="2.5" fill="#12a3a6"/>
<circle cx="428.4" cy="275.5" r="3.1" fill="#1f55b8"/>
<circle cx="451.9" cy="266.0" r="2.4" fill="#fbf530"/>
<circle cx="404.3" cy="278.6" r="3.0" fill="#2470cc"/>
<circle cx="403.8" cy="284.7" r="2.9" fill="#1b62c4"/>
<circle cx="445.8" cy="264.4" r="2.7" fill="#f6f21c"/>
<circle cx="443.4" cy="265.6" r="2.9" fill="#2fa57c"/>
<circle cx="413.9" cy="283.1" r="2.2" fill="#1d3a9e"/>
<circle cx="392.9" cy="282.9" r="2.7" fill="#0f9a9c"/>
<circle cx="440.6" cy="283.7" r="2.4" fill="#12a3a6"/>
<circle cx="448.8" cy="263.4" r="2.9" fill="#1d3a9e"/>
<circle cx="390.9" cy="273.0" r="2.9" fill="#1d3a9e"/>
<circle cx="442.1" cy="282.0" r="2.1" fill="#2a2a9c"/>
<circle cx="396.7" cy="283.2" r="3.0" fill="#1b62c4"/>
<circle cx="398.5" cy="270.8" r="2.8" fill="#1d3a9e"/>
<circle cx="453.7" cy="276.6" r="2.2" fill="#17257a"/>
<circle cx="439.6" cy="268.4" r="2.5" fill="#f3ec22"/>
<circle cx="446.8" cy="271.3" r="2.3" fill="#1d3a9e"/>
<circle cx="410.4" cy="263.2" r="3.1" fill="#1b62c4"/>
<circle cx="404.0" cy="273.8" r="2.1" fill="#1b62c4"/>
<circle cx="412.7" cy="272.3" r="3.0" fill="#1b62c4"/>
<circle cx="415.7" cy="265.2" r="2.6" fill="#2a2a9c"/>
<circle cx="422.3" cy="283.7" r="2.3" fill="#17257a"/>
<circle cx="437.7" cy="282.8" r="2.7" fill="#2470cc"/>
<circle cx="416.4" cy="269.5" r="2.7" fill="#2a2a9c"/>
<circle cx="451.5" cy="267.1" r="2.1" fill="#fbf530"/>
<circle cx="410.3" cy="276.0" r="3.0" fill="#0f9a9c"/>
<circle cx="428.3" cy="278.3" r="2.8" fill="#f6f21c"/>
<circle cx="426.0" cy="280.5" r="3.1" fill="#17257a"/>
<circle cx="438.6" cy="278.4" r="2.6" fill="#1b2f95"/>
<circle cx="391.0" cy="269.2" r="2.6" fill="#55b565"/>
<circle cx="443.8" cy="279.5" r="2.5" fill="#f8f814"/>
<circle cx="414.1" cy="270.8" r="2.8" fill="#2a2a9c"/>
<circle cx="422.8" cy="263.1" r="3.0" fill="#1f55b8"/>
<circle cx="420.4" cy="267.9" r="2.2" fill="#16aeb0"/>
<circle cx="423.3" cy="276.5" r="2.4" fill="#17257a"/>
<circle cx="431.0" cy="279.2" r="2.8" fill="#3fae6e"/>
<circle cx="403.4" cy="276.8" r="3.0" fill="#f6f21c"/>
<circle cx="398.1" cy="273.7" r="2.7" fill="#1b2f95"/>
<circle cx="453.9" cy="285.4" r="3.1" fill="#6cbf55"/>
<circle cx="407.6" cy="276.8" r="2.3" fill="#55b565"/>
<circle cx="417.4" cy="273.2" r="2.2" fill="#1b2f95"/>
<circle cx="408.7" cy="278.4" r="2.6" fill="#1b2f95"/>
<circle cx="452.8" cy="268.0" r="2.5" fill="#1b2f95"/>
<circle cx="421.2" cy="279.7" r="3.1" fill="#f6f21c"/>
<circle cx="394.8" cy="285.3" r="2.8" fill="#17257a"/>
<circle cx="428.1" cy="286.0" r="2.9" fill="#17257a"/>
<circle cx="406.3" cy="277.1" r="3.1" fill="#f3ec22"/>
<circle cx="416.4" cy="273.2" r="3.1" fill="#17257a"/>
<circle cx="440.2" cy="268.2" r="3.0" fill="#2fa57c"/>
<circle cx="418.7" cy="274.3" r="2.9" fill="#1d3a9e"/>
<circle cx="417.6" cy="269.4" r="2.9" fill="#fbf530"/>
<circle cx="407.8" cy="279.1" r="2.5" fill="#12a3a6"/>
<circle cx="413.9" cy="263.6" r="2.6" fill="#16aeb0"/>
<circle cx="410.7" cy="265.5" r="2.2" fill="#12a3a6"/>
<circle cx="401.8" cy="273.7" r="2.6" fill="#fbf530"/>
<circle cx="425.2" cy="272.3" r="2.1" fill="#1d3a9e"/>
<circle cx="427.1" cy="286.3" r="2.4" fill="#f8f814"/>
<circle cx="411.5" cy="280.8" r="2.2" fill="#12a3a6"/>
<circle cx="453.7" cy="284.7" r="2.4" fill="#1b62c4"/>
<circle cx="399.1" cy="276.5" r="2.4" fill="#1b2f95"/>
<circle cx="392.9" cy="286.0" r="2.5" fill="#2a2a9c"/>
<circle cx="432.6" cy="269.8" r="2.4" fill="#f8f814"/>
<circle cx="449.0" cy="268.3" r="2.6" fill="#f8f814"/>
<circle cx="454.6" cy="265.8" r="2.9" fill="#1b62c4"/>
<circle cx="395.5" cy="272.9" r="2.2" fill="#f6f21c"/>
<circle cx="448.7" cy="271.6" r="2.2" fill="#1b62c4"/>
<circle cx="447.8" cy="271.8" r="2.2" fill="#1d3a9e"/>
<circle cx="444.8" cy="279.8" r="2.6" fill="#2470cc"/>
<circle cx="429.9" cy="268.4" r="2.1" fill="#fbf530"/>
<circle cx="416.6" cy="280.3" r="3.0" fill="#2470cc"/>
<circle cx="409.2" cy="265.6" r="2.3" fill="#f6f21c"/>
<circle cx="432.2" cy="284.9" r="2.2" fill="#1d3a9e"/>
<circle cx="391.2" cy="268.0" r="2.4" fill="#f3ec22"/>
<circle cx="451.4" cy="264.2" r="2.2" fill="#fbf530"/>
<circle cx="416.0" cy="273.8" r="2.2" fill="#f6f21c"/>
<circle cx="423.6" cy="286.2" r="2.2" fill="#16aeb0"/>
<circle cx="420.4" cy="275.4" r="2.2" fill="#1b2f95"/>
<circle cx="452.9" cy="272.7" r="2.1" fill="#12a3a6"/>
<circle cx="396.0" cy="286.9" r="2.8" fill="#1b2f95"/>
<circle cx="397.4" cy="268.6" r="2.8" fill="#f6f21c"/>
<circle cx="441.0" cy="286.2" r="2.8" fill="#f6f21c"/>
<circle cx="392.8" cy="275.4" r="2.7" fill="#1d3a9e"/>
<circle cx="419.7" cy="270.9" r="2.2" fill="#f6f21c"/>
<circle cx="397.5" cy="264.3" r="3.1" fill="#f6f21c"/>
<circle cx="447.0" cy="266.0" r="2.7" fill="#16aeb0"/>
<circle cx="398.3" cy="268.2" r="2.7" fill="#17257a"/>
<circle cx="431.3" cy="283.6" r="2.2" fill="#17257a"/>
<circle cx="402.1" cy="276.8" r="2.2" fill="#1f55b8"/>
<circle cx="412.6" cy="268.7" r="2.7" fill="#1b2f95"/>
<circle cx="430.7" cy="281.5" r="2.2" fill="#17257a"/>
<circle cx="402.2" cy="264.2" r="2.3" fill="#2a2a9c"/>
<circle cx="442.6" cy="276.1" r="3.1" fill="#fbf530"/>
<circle cx="428.5" cy="268.7" r="2.5" fill="#12a3a6"/>
<circle cx="419.0" cy="276.9" r="2.1" fill="#55b565"/>
<circle cx="445.5" cy="277.0" r="2.1" fill="#1b2f95"/>
<circle cx="423.7" cy="270.5" r="3.0" fill="#20b8b4"/>
<circle cx="396.7" cy="265.7" r="2.6" fill="#17257a"/>
<circle cx="405.2" cy="281.4" r="2.4" fill="#16aeb0"/>
<circle cx="407.2" cy="283.1" r="2.4" fill="#f8f814"/>
<circle cx="428.9" cy="277.9" r="2.4" fill="#2a2a9c"/>
<circle cx="419.4" cy="279.4" r="2.5" fill="#1d3a9e"/>
<circle cx="442.0" cy="279.3" r="2.3" fill="#17257a"/>
<circle cx="407.3" cy="263.8" r="2.7" fill="#20b8b4"/>
<circle cx="450.6" cy="274.3" r="2.1" fill="#f3ec22"/>
<circle cx="394.1" cy="285.7" r="2.4" fill="#3fae6e"/>
<circle cx="453.3" cy="265.1" r="2.5" fill="#1d3a9e"/>
<circle cx="406.9" cy="266.8" r="2.5" fill="#3fae6e"/>
<circle cx="415.5" cy="265.4" r="2.5" fill="#17257a"/>
<circle cx="424.6" cy="263.4" r="2.4" fill="#17257a"/>
<circle cx="434.9" cy="265.1" r="2.8" fill="#1b2f95"/>
<circle cx="451.0" cy="283.8" r="2.6" fill="#2a2a9c"/>
<circle cx="443.5" cy="271.2" r="3.0" fill="#1b2f95"/>
<circle cx="436.6" cy="263.2" r="3.0" fill="#1d3a9e"/>
<circle cx="397.5" cy="276.8" r="3.0" fill="#2a2a9c"/>
<circle cx="449.3" cy="280.1" r="2.9" fill="#1f55b8"/>
<circle cx="395.5" cy="283.9" r="2.6" fill="#6cbf55"/>
<circle cx="395.9" cy="279.9" r="2.6" fill="#1b2f95"/>
<circle cx="411.9" cy="278.9" r="2.7" fill="#1b62c4"/>
<circle cx="450.6" cy="270.4" r="2.2" fill="#1f55b8"/>
<circle cx="422.2" cy="278.8" r="2.6" fill="#2a2a9c"/>
<circle cx="394.5" cy="284.0" r="2.2" fill="#f6f21c"/>
<circle cx="422.3" cy="283.9" r="3.1" fill="#f6f21c"/>
<circle cx="452.6" cy="273.3" r="2.7" fill="#2470cc"/>
<circle cx="395.4" cy="274.3" r="3.0" fill="#f3ec22"/>
<circle cx="427.7" cy="275.3" r="2.2" fill="#20b8b4"/>
<circle cx="452.5" cy="278.7" r="2.1" fill="#fbf530"/>
<circle cx="455.6" cy="284.8" r="2.6" fill="#f8f814"/>
<circle cx="406.4" cy="273.5" r="2.7" fill="#1b2f95"/>
<circle cx="439.0" cy="269.4" r="2.1" fill="#1b62c4"/>
<circle cx="414.7" cy="276.3" r="2.5" fill="#fbf530"/>
<circle cx="423.9" cy="273.8" r="2.2" fill="#2a2a9c"/>
<circle cx="400.1" cy="264.5" r="2.9" fill="#f8f814"/>
<circle cx="394.6" cy="263.5" r="2.7" fill="#f3ec22"/>
<circle cx="403.8" cy="265.4" r="2.6" fill="#f6f21c"/>
<circle cx="398.6" cy="274.1" r="3.1" fill="#1b62c4"/>
<circle cx="446.4" cy="283.8" r="2.8" fill="#1f55b8"/>
<circle cx="435.8" cy="268.1" r="2.7" fill="#6cbf55"/>
<circle cx="425.0" cy="283.8" r="2.1" fill="#f8f814"/>
<circle cx="441.4" cy="278.5" r="2.2" fill="#1d3a9e"/>
<circle cx="449.3" cy="271.7" r="2.3" fill="#12a3a6"/>
<circle cx="432.1" cy="264.5" r="2.9" fill="#1b2f95"/>
<circle cx="453.8" cy="282.8" r="2.8" fill="#2a2a9c"/>
<circle cx="426.3" cy="282.8" r="2.2" fill="#2a2a9c"/>
<circle cx="422.0" cy="280.8" r="2.6" fill="#1b62c4"/>
<circle cx="425.7" cy="264.3" r="2.8" fill="#0f9a9c"/>
<circle cx="428.4" cy="267.2" r="3.0" fill="#6cbf55"/>
<circle cx="425.4" cy="278.1" r="2.9" fill="#20b8b4"/>
<circle cx="426.7" cy="278.7" r="2.3" fill="#16aeb0"/>
<circle cx="425.2" cy="265.0" r="2.1" fill="#2fa57c"/>
<circle cx="417.2" cy="284.7" r="3.0" fill="#1b2f95"/>
<circle cx="423.4" cy="265.6" r="2.8" fill="#20b8b4"/>
<circle cx="411.9" cy="282.2" r="3.1" fill="#f6f21c"/>
<circle cx="403.0" cy="266.2" r="2.8" fill="#f8f814"/>
<circle cx="393.2" cy="279.2" r="3.0" fill="#f8f814"/>
<circle cx="410.2" cy="273.4" r="2.4" fill="#f6f21c"/>
<circle cx="434.3" cy="272.9" r="2.3" fill="#f3ec22"/>
<circle cx="428.7" cy="271.5" r="2.2" fill="#2fa57c"/>
<circle cx="397.9" cy="266.5" r="3.0" fill="#1b2f95"/>
<circle cx="439.8" cy="268.6" r="2.9" fill="#1f55b8"/>
<circle cx="420.8" cy="279.8" r="2.9" fill="#f6f21c"/>
<circle cx="434.7" cy="273.3" r="3.0" fill="#12a3a6"/>
<circle cx="421.6" cy="285.4" r="2.2" fill="#17257a"/>
<circle cx="441.1" cy="283.7" r="2.5" fill="#f3ec22"/>
<circle cx="424.1" cy="269.1" r="2.1" fill="#1f55b8"/>
<circle cx="448.3" cy="268.7" r="3.1" fill="#fbf530"/>
<circle cx="445.3" cy="263.6" r="3.1" fill="#1b2f95"/>
<circle cx="447.6" cy="277.8" r="2.2" fill="#fbf530"/>
<circle cx="428.5" cy="279.0" r="2.3" fill="#0f9a9c"/>
<circle cx="408.9" cy="273.3" r="2.1" fill="#f3ec22"/>
<circle cx="395.5" cy="283.0" r="2.1" fill="#2a2a9c"/>
<circle cx="400.8" cy="285.4" r="2.3" fill="#1b62c4"/>
<circle cx="410.5" cy="282.3" r="2.7" fill="#1f55b8"/>
<circle cx="392.7" cy="265.0" r="2.2" fill="#0f9a9c"/>
<circle cx="421.5" cy="285.6" r="2.5" fill="#3fae6e"/>
<circle cx="423.6" cy="264.0" r="2.4" fill="#f6f21c"/>
<circle cx="402.8" cy="285.4" r="2.7" fill="#3fae6e"/>
<circle cx="403.7" cy="263.8" r="2.5" fill="#17257a"/>
<circle cx="445.0" cy="268.3" r="2.6" fill="#1d3a9e"/>
<circle cx="391.5" cy="286.0" r="2.3" fill="#12a3a6"/>
<circle cx="452.4" cy="265.0" r="2.9" fill="#1d3a9e"/>
<circle cx="428.9" cy="274.1" r="2.3" fill="#1d3a9e"/>
<circle cx="435.6" cy="277.8" r="2.6" fill="#6cbf55"/>
<circle cx="393.5" cy="271.9" r="2.6" fill="#1b62c4"/>
<circle cx="394.7" cy="265.8" r="2.6" fill="#2a2a9c"/>
<circle cx="391.6" cy="274.7" r="2.4" fill="#20b8b4"/>
<circle cx="418.8" cy="283.1" r="3.1" fill="#1f55b8"/>
<circle cx="406.3" cy="277.5" r="2.1" fill="#17257a"/>
<circle cx="429.1" cy="265.2" r="2.9" fill="#fbf530"/>
<circle cx="392.3" cy="271.6" r="2.6" fill="#1d3a9e"/>
<circle cx="417.5" cy="279.6" r="3.0" fill="#1d3a9e"/>
<circle cx="440.3" cy="276.0" r="2.2" fill="#f3ec22"/>
<circle cx="396.6" cy="275.9" r="2.9" fill="#2a2a9c"/>
<circle cx="443.3" cy="274.5" r="2.3" fill="#16aeb0"/>
<circle cx="430.5" cy="286.5" r="2.5" fill="#1b62c4"/>
<circle cx="444.7" cy="274.9" r="2.5" fill="#1d3a9e"/>
<circle cx="447.9" cy="273.4" r="3.0" fill="#0f9a9c"/>
<circle cx="439.5" cy="281.5" r="2.4" fill="#1b62c4"/>
<circle cx="426.2" cy="286.0" r="2.2" fill="#1f55b8"/>
<circle cx="413.8" cy="285.2" r="2.1" fill="#1b2f95"/>
<circle cx="409.3" cy="275.1" r="2.5" fill="#2a2a9c"/>
<circle cx="423.2" cy="275.7" r="3.0" fill="#17257a"/>
<circle cx="404.2" cy="276.2" r="2.9" fill="#2a2a9c"/>
<circle cx="421.2" cy="271.2" r="2.4" fill="#1d3a9e"/>
<circle cx="417.6" cy="278.7" r="2.3" fill="#1d3a9e"/>
<circle cx="422.8" cy="278.2" r="2.3" fill="#2a2a9c"/>
<circle cx="419.5" cy="272.2" r="2.4" fill="#1b2f95"/>
<circle cx="420.1" cy="270.9" r="3.3" fill="#2a2a9c"/>
<circle cx="414.8" cy="278.7" r="2.3" fill="#1b2f95"/>
<circle cx="417.4" cy="269.7" r="2.2" fill="#2a2a9c"/>
<circle cx="406.4" cy="273.3" r="2.4" fill="#1d3a9e"/>
<circle cx="412.6" cy="270.3" r="2.8" fill="#1b2f95"/>
<circle cx="405.3" cy="271.8" r="2.5" fill="#1b2f95"/>
<circle cx="406.4" cy="277.7" r="2.6" fill="#17257a"/>
<circle cx="418.8" cy="275.9" r="2.6" fill="#17257a"/>
<circle cx="409.5" cy="273.2" r="2.9" fill="#1d3a9e"/>
<circle cx="422.4" cy="272.1" r="3.2" fill="#2a2a9c"/>
<circle cx="420.0" cy="270.8" r="2.6" fill="#17257a"/>
<circle cx="413.2" cy="274.7" r="2.5" fill="#1b2f95"/>
<circle cx="415.4" cy="272.1" r="2.5" fill="#1b2f95"/>
<circle cx="421.2" cy="273.4" r="2.5" fill="#2a2a9c"/>
<circle cx="418.5" cy="280.6" r="2.8" fill="#1d3a9e"/>
<circle cx="418.7" cy="275.1" r="2.4" fill="#17257a"/>
<circle cx="413.6" cy="270.6" r="3.2" fill="#17257a"/>
<circle cx="421.0" cy="269.8" r="2.3" fill="#1b2f95"/>
<circle cx="414.4" cy="271.3" r="2.9" fill="#2a2a9c"/>
<circle cx="418.2" cy="277.0" r="2.8" fill="#1d3a9e"/>
<circle cx="414.4" cy="280.4" r="3.2" fill="#1b2f95"/>
<circle cx="417.4" cy="277.3" r="3.3" fill="#17257a"/>
<circle cx="409.7" cy="274.2" r="2.3" fill="#1d3a9e"/>
<circle cx="462.7" cy="273.9" r="2.6" fill="#f6f21c"/>
<circle cx="472.3" cy="272.8" r="2.8" fill="#f3ec22"/>
<circle cx="467.3" cy="275.7" r="3.0" fill="#0f9a9c"/>
<circle cx="457.4" cy="262.6" r="2.4" fill="#fbf530"/>
<circle cx="479.3" cy="268.7" r="3.1" fill="#16aeb0"/>
<circle cx="475.8" cy="283.4" r="3.1" fill="#f6f21c"/>
<circle cx="471.8" cy="279.8" r="2.4" fill="#f8f814"/>
<circle cx="463.9" cy="281.0" r="2.4" fill="#a9cf3c"/>
<circle cx="461.4" cy="274.4" r="2.4" fill="#f6f21c"/>
<circle cx="474.5" cy="269.2" r="2.6" fill="#16aeb0"/>
<circle cx="476.8" cy="283.9" r="2.9" fill="#a9cf3c"/>
<circle cx="465.9" cy="286.9" r="3.3" fill="#f3ec22"/>
<circle cx="463.5" cy="273.0" r="2.4" fill="#f6f21c"/>
<circle cx="484.4" cy="280.6" r="2.6" fill="#a9cf3c"/>
<circle cx="465.3" cy="280.6" r="2.4" fill="#f6f21c"/>
<circle cx="481.0" cy="276.8" r="2.8" fill="#f3ec22"/>
<circle cx="470.5" cy="277.2" r="2.6" fill="#f3ec22"/>
<circle cx="481.6" cy="278.4" r="3.3" fill="#a9cf3c"/>
<circle cx="457.8" cy="271.5" r="3.4" fill="#c4d930"/>
<circle cx="463.3" cy="264.2" r="2.8" fill="#f8f814"/>
<circle cx="454.4" cy="268.8" r="3.2" fill="#f8f814"/>
<circle cx="469.6" cy="285.6" r="3.0" fill="#f6f21c"/>
<circle cx="480.7" cy="284.7" r="2.9" fill="#a9cf3c"/>
<circle cx="469.1" cy="268.4" r="2.4" fill="#c4d930"/>
<circle cx="466.3" cy="274.3" r="2.5" fill="#f3ec22"/>
<circle cx="482.1" cy="281.4" r="2.7" fill="#f6f21c"/>
<circle cx="478.4" cy="281.3" r="2.5" fill="#fbf530"/>
<circle cx="468.6" cy="267.8" r="2.3" fill="#16aeb0"/>
<circle cx="481.2" cy="282.0" r="2.9" fill="#a9cf3c"/>
<circle cx="469.1" cy="281.4" r="2.6" fill="#c4d930"/>
<circle cx="469.8" cy="267.8" r="2.8" fill="#fbf530"/>
<circle cx="480.7" cy="280.5" r="2.8" fill="#f6f21c"/>
<circle cx="469.6" cy="279.7" r="3.1" fill="#f6f21c"/>
<circle cx="474.9" cy="265.5" r="2.6" fill="#fbf530"/>
<circle cx="464.8" cy="274.8" r="3.4" fill="#fbf530"/>
<circle cx="476.5" cy="271.8" r="2.4" fill="#0f9a9c"/>
<circle cx="473.3" cy="286.5" r="3.1" fill="#f6f21c"/>
<circle cx="463.8" cy="266.1" r="2.7" fill="#c4d930"/>
<circle cx="465.1" cy="281.5" r="3.3" fill="#fbf530"/>
<circle cx="477.5" cy="266.9" r="2.2" fill="#f8f814"/>
<circle cx="460.1" cy="271.0" r="2.8" fill="#fbf530"/>
<circle cx="475.9" cy="279.0" r="2.6" fill="#f8f814"/>
<circle cx="454.2" cy="269.4" r="3.2" fill="#f3ec22"/>
<circle cx="461.6" cy="272.6" r="2.9" fill="#f6f21c"/>
<circle cx="455.5" cy="269.6" r="2.9" fill="#f8f814"/>
<circle cx="473.8" cy="281.8" r="2.4" fill="#f8f814"/>
<circle cx="461.4" cy="263.5" r="2.5" fill="#a9cf3c"/>
<circle cx="480.1" cy="263.5" r="2.4" fill="#f3ec22"/>
<circle cx="456.0" cy="279.1" r="2.9" fill="#fbf530"/>
<circle cx="463.2" cy="283.6" r="3.1" fill="#f3ec22"/>
<circle cx="464.3" cy="263.6" r="2.8" fill="#f8f814"/>
<circle cx="477.4" cy="267.5" r="3.1" fill="#f8f814"/>
<circle cx="475.6" cy="265.4" r="2.9" fill="#f6f21c"/>
<circle cx="476.4" cy="266.5" r="2.5" fill="#a9cf3c"/>
<circle cx="455.3" cy="278.5" r="2.3" fill="#20b8b4"/>
<circle cx="479.7" cy="284.9" r="3.0" fill="#f8f814"/>
<circle cx="482.4" cy="278.7" r="3.1" fill="#c4d930"/>
<circle cx="469.0" cy="263.3" r="2.7" fill="#c4d930"/>
<circle cx="464.3" cy="272.4" r="3.1" fill="#f3ec22"/>
<circle cx="460.6" cy="279.5" r="2.3" fill="#f8f814"/>
<circle cx="460.6" cy="265.0" r="2.4" fill="#fbf530"/>
<circle cx="483.5" cy="277.7" r="2.6" fill="#12a3a6"/>
<circle cx="457.4" cy="276.8" r="3.0" fill="#f3ec22"/>
<circle cx="477.2" cy="276.7" r="3.1" fill="#a9cf3c"/>
<circle cx="458.4" cy="276.8" r="3.3" fill="#f8f814"/>
<circle cx="462.1" cy="281.9" r="3.3" fill="#0f9a9c"/>
<circle cx="484.7" cy="270.1" r="2.6" fill="#f6f21c"/>
<circle cx="455.7" cy="286.5" r="2.6" fill="#f6f21c"/>
<circle cx="476.2" cy="264.6" r="3.0" fill="#f6f21c"/>
<circle cx="477.2" cy="276.1" r="3.1" fill="#a9cf3c"/>
<circle cx="459.4" cy="284.3" r="3.3" fill="#f3ec22"/>
<circle cx="471.1" cy="286.3" r="2.3" fill="#f6f21c"/>
<circle cx="455.8" cy="265.4" r="3.4" fill="#f6f21c"/>
<circle cx="471.6" cy="270.6" r="2.8" fill="#f6f21c"/>
<circle cx="459.8" cy="267.3" r="2.9" fill="#f6f21c"/>
<circle cx="475.9" cy="282.4" r="2.3" fill="#f8f814"/>
<circle cx="472.1" cy="276.3" r="2.4" fill="#fbf530"/>
<circle cx="470.5" cy="271.4" r="2.9" fill="#f6f21c"/>
<circle cx="461.8" cy="273.4" r="2.3" fill="#c4d930"/>
<circle cx="466.1" cy="283.2" r="2.7" fill="#f6f21c"/>
<circle cx="469.5" cy="281.3" r="2.7" fill="#f6f21c"/>
<circle cx="475.8" cy="267.5" r="2.3" fill="#a9cf3c"/>
<circle cx="459.9" cy="266.9" r="2.3" fill="#f6f21c"/>
<circle cx="480.9" cy="264.8" r="3.3" fill="#f6f21c"/>
<circle cx="467.7" cy="283.9" r="3.1" fill="#f8f814"/>
<circle cx="473.9" cy="281.9" r="2.3" fill="#f6f21c"/>
<circle cx="470.0" cy="277.7" r="2.4" fill="#20b8b4"/>
<circle cx="471.4" cy="286.7" r="3.2" fill="#f8f814"/>
<circle cx="483.5" cy="279.3" r="3.3" fill="#fbf530"/>
<circle cx="473.1" cy="268.4" r="3.1" fill="#c4d930"/>
<circle cx="482.4" cy="274.4" r="2.9" fill="#c4d930"/>
<circle cx="481.5" cy="284.9" r="2.8" fill="#20b8b4"/>
<circle cx="454.1" cy="284.9" r="2.7" fill="#f6f21c"/>
<circle cx="483.2" cy="269.0" r="3.3" fill="#16aeb0"/>
<circle cx="484.5" cy="271.4" r="2.8" fill="#a9cf3c"/>
<circle cx="471.3" cy="267.4" r="3.1" fill="#f3ec22"/>
<circle cx="482.3" cy="278.1" r="2.9" fill="#12a3a6"/>
<circle cx="458.0" cy="274.0" r="2.4" fill="#f6f21c"/>
<circle cx="484.1" cy="272.0" r="2.6" fill="#fbf530"/>
<circle cx="479.2" cy="268.9" r="2.5" fill="#a9cf3c"/>
<circle cx="463.9" cy="282.3" r="2.8" fill="#a9cf3c"/>
<circle cx="466.9" cy="262.8" r="2.8" fill="#fbf530"/>
<circle cx="464.3" cy="287.4" r="3.1" fill="#f8f814"/>
<circle cx="478.4" cy="274.8" r="2.7" fill="#f6f21c"/>
<circle cx="479.2" cy="279.5" r="3.0" fill="#fbf530"/>
<circle cx="472.3" cy="281.2" r="2.3" fill="#c4d930"/>
<circle cx="475.4" cy="271.4" r="2.9" fill="#a9cf3c"/>
<circle cx="482.7" cy="273.4" r="2.7" fill="#fbf530"/>
<circle cx="459.4" cy="282.3" r="2.9" fill="#f3ec22"/>
<circle cx="464.1" cy="287.1" r="3.0" fill="#f3ec22"/>
<circle cx="464.0" cy="267.4" r="3.1" fill="#a9cf3c"/>
<circle cx="455.5" cy="274.6" r="2.4" fill="#f8f814"/>
<circle cx="461.4" cy="280.9" r="2.3" fill="#a9cf3c"/>
<circle cx="458.1" cy="280.6" r="3.3" fill="#f6f21c"/>
<circle cx="484.0" cy="267.7" r="2.6" fill="#f8f814"/>
<circle cx="497.0" cy="285.2" r="2.3" fill="#12a3a6"/>
<circle cx="503.9" cy="285.3" r="2.1" fill="#20b8b4"/>
<circle cx="502.2" cy="267.6" r="2.7" fill="#12a3a6"/>
<circle cx="514.0" cy="276.8" r="3.0" fill="#2fa57c"/>
<circle cx="508.6" cy="271.3" r="2.9" fill="#0f9a9c"/>
<circle cx="483.0" cy="284.7" r="2.7" fill="#16aeb0"/>
<circle cx="501.4" cy="268.6" r="2.5" fill="#0f9a9c"/>
<circle cx="485.1" cy="276.4" r="2.3" fill="#20b8b4"/>
<circle cx="511.1" cy="277.7" r="2.3" fill="#2fa57c"/>
<circle cx="505.4" cy="268.8" r="2.9" fill="#12a3a6"/>
<circle cx="491.1" cy="279.9" r="2.0" fill="#16aeb0"/>
<circle cx="504.5" cy="281.4" r="3.0" fill="#20b8b4"/>
<circle cx="505.7" cy="270.9" r="2.9" fill="#20b8b4"/>
<circle cx="495.9" cy="269.8" r="2.5" fill="#3fd6d6"/>
<circle cx="491.0" cy="264.9" r="2.4" fill="#3fae6e"/>
<circle cx="510.5" cy="263.9" r="2.2" fill="#12a3a6"/>
<circle cx="490.2" cy="267.4" r="2.0" fill="#2fa57c"/>
<circle cx="482.1" cy="285.6" r="2.7" fill="#20b8b4"/>
<circle cx="498.4" cy="275.9" r="2.1" fill="#20b8b4"/>
<circle cx="509.3" cy="270.9" r="2.1" fill="#55e0dc"/>
<circle cx="488.5" cy="278.1" r="2.7" fill="#12a3a6"/>
<circle cx="492.7" cy="277.4" r="2.3" fill="#20b8b4"/>
<circle cx="504.6" cy="263.8" r="2.4" fill="#20b8b4"/>
<circle cx="507.5" cy="280.8" r="2.6" fill="#55e0dc"/>
<circle cx="497.1" cy="271.4" r="2.7" fill="#12a3a6"/>
<circle cx="495.1" cy="264.1" r="2.3" fill="#3fd6d6"/>
<circle cx="487.9" cy="283.7" r="2.1" fill="#12a3a6"/>
<circle cx="504.6" cy="285.2" r="2.2" fill="#16aeb0"/>
<circle cx="485.5" cy="284.6" r="2.5" fill="#0f9a9c"/>
<circle cx="506.8" cy="277.8" r="2.7" fill="#20b8b4"/>
<circle cx="497.6" cy="281.0" r="2.6" fill="#55e0dc"/>
<circle cx="481.6" cy="274.8" r="2.5" fill="#3fae6e"/>
<circle cx="486.5" cy="277.0" r="2.1" fill="#55e0dc"/>
<circle cx="496.8" cy="268.4" r="2.3" fill="#12a3a6"/>
<circle cx="494.4" cy="277.8" r="2.1" fill="#55e0dc"/>
<circle cx="482.4" cy="277.1" r="2.1" fill="#20b8b4"/>
<circle cx="488.6" cy="267.4" r="2.6" fill="#55e0dc"/>
<circle cx="499.1" cy="286.4" r="2.1" fill="#12a3a6"/>
<circle cx="491.6" cy="266.6" r="2.4" fill="#3fd6d6"/>
<circle cx="506.0" cy="285.7" r="2.7" fill="#20b8b4"/>
<circle cx="513.2" cy="274.4" r="2.9" fill="#12a3a6"/>
<circle cx="485.7" cy="267.3" r="2.7" fill="#12a3a6"/>
<circle cx="491.0" cy="266.0" r="2.3" fill="#0f9a9c"/>
<circle cx="490.9" cy="265.7" r="2.4" fill="#6cbf55"/>
<circle cx="492.2" cy="282.2" r="2.8" fill="#55e0dc"/>
<circle cx="487.7" cy="280.0" r="2.5" fill="#2fa57c"/>
<circle cx="508.7" cy="267.0" r="2.9" fill="#3fd6d6"/>
<circle cx="494.7" cy="273.2" r="2.7" fill="#0f9a9c"/>
<circle cx="509.4" cy="284.6" r="2.2" fill="#2fa57c"/>
<circle cx="492.7" cy="270.6" r="3.0" fill="#16aeb0"/>
<circle cx="491.5" cy="284.9" r="2.8" fill="#0f9a9c"/>
<circle cx="481.1" cy="281.8" r="2.8" fill="#20b8b4"/>
<circle cx="486.2" cy="276.6" r="2.8" fill="#3fd6d6"/>
<circle cx="497.9" cy="274.4" r="2.3" fill="#55e0dc"/>
<circle cx="507.7" cy="272.1" r="2.9" fill="#3fd6d6"/>
<circle cx="513.3" cy="281.4" r="2.9" fill="#55e0dc"/>
<circle cx="511.7" cy="276.6" r="2.9" fill="#6cbf55"/>
<circle cx="483.1" cy="284.0" r="3.0" fill="#55b565"/>
<circle cx="505.8" cy="280.0" r="2.6" fill="#55e0dc"/>
<circle cx="487.6" cy="276.0" r="2.6" fill="#16aeb0"/>
<circle cx="496.8" cy="285.9" r="2.4" fill="#55e0dc"/>
<circle cx="497.7" cy="269.0" r="2.8" fill="#16aeb0"/>
<circle cx="494.0" cy="277.2" r="2.3" fill="#6cbf55"/>
<circle cx="504.3" cy="272.0" r="2.3" fill="#3fd6d6"/>
<circle cx="481.0" cy="284.1" r="2.6" fill="#3fae6e"/>
<circle cx="509.5" cy="284.0" r="3.0" fill="#55e0dc"/>
<circle cx="494.3" cy="280.2" r="2.8" fill="#0f9a9c"/>
<circle cx="490.8" cy="284.7" r="2.2" fill="#20b8b4"/>
<circle cx="503.9" cy="267.7" r="2.9" fill="#0f9a9c"/>
<circle cx="485.5" cy="282.1" r="2.8" fill="#3fd6d6"/>
<circle cx="485.1" cy="275.7" r="2.7" fill="#2fa57c"/>
<circle cx="503.5" cy="286.0" r="2.2" fill="#0f9a9c"/>
<circle cx="499.6" cy="271.0" r="2.9" fill="#0f9a9c"/>
<circle cx="487.4" cy="278.3" r="2.6" fill="#12a3a6"/>
<circle cx="483.5" cy="279.5" r="2.0" fill="#55e0dc"/>
<circle cx="514.3" cy="277.7" r="2.9" fill="#55e0dc"/>
<circle cx="511.8" cy="277.2" r="2.4" fill="#16aeb0"/>
<circle cx="500.7" cy="282.6" r="2.8" fill="#20b8b4"/>
<circle cx="491.6" cy="269.3" r="2.3" fill="#12a3a6"/>
<circle cx="491.8" cy="283.4" r="2.3" fill="#20b8b4"/>
<circle cx="493.7" cy="278.2" r="2.3" fill="#16aeb0"/>
<circle cx="495.5" cy="275.0" r="2.8" fill="#16aeb0"/>
<circle cx="491.9" cy="271.2" r="2.7" fill="#16aeb0"/>
<circle cx="486.4" cy="272.9" r="2.9" fill="#12a3a6"/>
<circle cx="511.2" cy="264.3" r="2.5" fill="#55e0dc"/>
<circle cx="503.5" cy="274.9" r="2.9" fill="#55e0dc"/>
<circle cx="500.3" cy="275.8" r="2.3" fill="#0f9a9c"/>
<circle cx="510.9" cy="284.2" r="2.9" fill="#0f9a9c"/>
<circle cx="505.9" cy="278.4" r="2.1" fill="#0f9a9c"/>
<circle cx="501.4" cy="269.1" r="2.6" fill="#2fa57c"/>
<circle cx="489.1" cy="278.1" r="2.2" fill="#20b8b4"/>
<circle cx="491.3" cy="271.1" r="2.9" fill="#20b8b4"/>
<circle cx="505.8" cy="280.2" r="2.8" fill="#3fd6d6"/>
<circle cx="499.1" cy="281.1" r="2.6" fill="#20b8b4"/>
<circle cx="487.4" cy="278.1" r="2.7" fill="#55e0dc"/>
<circle cx="533.6" cy="270.0" r="2.5" fill="#3fd6d6"/>
<circle cx="581.1" cy="270.0" r="2.5" fill="#12a3a6"/>
<circle cx="576.1" cy="266.5" r="2.5" fill="#3fd6d6"/>
<circle cx="581.4" cy="280.0" r="2.5" fill="#20b8b4"/>
<circle cx="522.4" cy="277.2" r="2.1" fill="#12a3a6"/>
<circle cx="571.9" cy="279.1" r="2.1" fill="#55e0dc"/>
<circle cx="519.0" cy="278.4" r="2.4" fill="#16aeb0"/>
<circle cx="546.4" cy="268.2" r="2.3" fill="#12a3a6"/>
<circle cx="558.4" cy="283.3" r="2.0" fill="#12a3a6"/>
<circle cx="526.7" cy="277.7" r="1.8" fill="#12a3a6"/>
<circle cx="574.6" cy="284.5" r="2.0" fill="#20b8b4"/>
<circle cx="550.4" cy="282.2" r="1.8" fill="#0f9a9c"/>
<circle cx="519.3" cy="268.0" r="2.5" fill="#16aeb0"/>
<circle cx="571.2" cy="267.3" r="2.2" fill="#55e0dc"/>
<circle cx="579.3" cy="284.1" r="2.5" fill="#20b8b4"/>
<circle cx="583.4" cy="277.0" r="2.4" fill="#3fd6d6"/>
<circle cx="574.1" cy="273.7" r="2.4" fill="#55e0dc"/>
<circle cx="541.7" cy="270.1" r="1.9" fill="#0f9a9c"/>
<circle cx="525.1" cy="283.6" r="2.0" fill="#16aeb0"/>
<circle cx="582.8" cy="278.8" r="2.3" fill="#12a3a6"/>
<circle cx="535.0" cy="280.2" r="2.5" fill="#20b8b4"/>
<circle cx="550.2" cy="276.9" r="1.7" fill="#55e0dc"/>
<circle cx="569.9" cy="276.9" r="2.4" fill="#0f9a9c"/>
<circle cx="545.1" cy="284.7" r="2.5" fill="#55e0dc"/>
<circle cx="579.7" cy="272.5" r="2.3" fill="#3fd6d6"/>
<circle cx="560.7" cy="265.5" r="2.3" fill="#55e0dc"/>
<circle cx="528.8" cy="266.9" r="2.1" fill="#0f9a9c"/>
<circle cx="522.7" cy="282.0" r="2.5" fill="#16aeb0"/>
<circle cx="566.1" cy="273.6" r="2.5" fill="#20b8b4"/>
<circle cx="553.8" cy="271.9" r="1.7" fill="#55e0dc"/>
<circle cx="582.5" cy="271.0" r="2.2" fill="#16aeb0"/>
<circle cx="572.2" cy="267.5" r="1.9" fill="#3fd6d6"/>
<circle cx="575.0" cy="266.8" r="2.0" fill="#55e0dc"/>
<circle cx="556.5" cy="274.1" r="2.4" fill="#0f9a9c"/>
<circle cx="575.2" cy="274.6" r="2.3" fill="#16aeb0"/>
<circle cx="553.1" cy="265.9" r="2.2" fill="#12a3a6"/>
<circle cx="523.5" cy="277.9" r="2.0" fill="#16aeb0"/>
<circle cx="572.3" cy="281.8" r="2.1" fill="#3fd6d6"/>
<circle cx="552.5" cy="284.7" r="2.2" fill="#3fd6d6"/>
<circle cx="568.0" cy="279.7" r="1.8" fill="#55e0dc"/>
<circle cx="567.5" cy="278.7" r="2.4" fill="#16aeb0"/>
<circle cx="584.4" cy="278.1" r="2.3" fill="#20b8b4"/>
<circle cx="552.4" cy="273.5" r="2.1" fill="#3fd6d6"/>
<circle cx="543.7" cy="267.6" r="2.2" fill="#16aeb0"/>
<circle cx="581.3" cy="276.0" r="2.0" fill="#3fd6d6"/>
<circle cx="518.1" cy="273.7" r="1.8" fill="#3fd6d6"/>
<circle cx="551.9" cy="268.9" r="2.2" fill="#55e0dc"/>
<circle cx="528.2" cy="274.5" r="2.4" fill="#3fd6d6"/>
<circle cx="542.3" cy="282.2" r="2.1" fill="#55e0dc"/>
<circle cx="577.8" cy="284.8" r="2.3" fill="#20b8b4"/>
<circle cx="543.2" cy="274.9" r="2.4" fill="#12a3a6"/>
<circle cx="542.9" cy="271.4" r="1.7" fill="#16aeb0"/>
<circle cx="537.4" cy="275.4" r="2.4" fill="#3fd6d6"/>
<circle cx="584.4" cy="276.3" r="2.3" fill="#16aeb0"/>
<circle cx="549.1" cy="272.8" r="2.3" fill="#12a3a6"/>
<circle cx="534.5" cy="268.7" r="1.8" fill="#55e0dc"/>
<circle cx="538.6" cy="272.4" r="2.3" fill="#55e0dc"/>
<circle cx="563.4" cy="268.6" r="1.8" fill="#0f9a9c"/>
<circle cx="539.5" cy="277.3" r="2.0" fill="#3fd6d6"/>
<circle cx="556.0" cy="267.4" r="1.9" fill="#20b8b4"/>
<circle cx="567.6" cy="279.3" r="2.3" fill="#16aeb0"/>
<circle cx="578.3" cy="278.6" r="1.9" fill="#12a3a6"/>
<circle cx="615.8" cy="279.3" r="1.9" fill="#55e0dc"/>
<circle cx="619.7" cy="269.2" r="1.8" fill="#55e0dc"/>
<circle cx="613.4" cy="279.3" r="2.1" fill="#3fd6d6"/>
<circle cx="604.9" cy="275.3" r="1.6" fill="#16aeb0"/>
<circle cx="600.2" cy="279.2" r="1.9" fill="#55e0dc"/>
<circle cx="615.3" cy="277.6" r="1.7" fill="#20b8b4"/>
<circle cx="600.4" cy="270.2" r="1.5" fill="#3fd6d6"/>
<circle cx="603.3" cy="272.8" r="2.1" fill="#3fd6d6"/>
<circle cx="622.1" cy="273.6" r="1.6" fill="#55e0dc"/>
<circle cx="642.6" cy="276.7" r="1.7" fill="#12a3a6"/>
<circle cx="652.4" cy="271.1" r="2.0" fill="#20b8b4"/>
<circle cx="653.1" cy="284.9" r="1.6" fill="#20b8b4"/>
<circle cx="660.8" cy="279.5" r="2.2" fill="#0f9a9c"/>
<circle cx="637.7" cy="280.8" r="1.7" fill="#12a3a6"/>
<circle cx="631.0" cy="273.9" r="1.6" fill="#3fd6d6"/>
<circle cx="651.6" cy="272.7" r="1.8" fill="#20b8b4"/>
<circle cx="645.8" cy="280.0" r="1.9" fill="#0f9a9c"/>
<circle cx="656.6" cy="282.0" r="1.6" fill="#16aeb0"/>
<circle cx="643.3" cy="277.5" r="1.9" fill="#20b8b4"/>
<circle cx="631.9" cy="269.1" r="1.6" fill="#3fd6d6"/>
<circle cx="663.7" cy="272.1" r="1.8" fill="#3fd6d6"/>
<circle cx="653.4" cy="283.6" r="1.8" fill="#12a3a6"/>
<circle cx="633.3" cy="283.2" r="1.8" fill="#55e0dc"/>
<circle cx="642.4" cy="279.3" r="2.2" fill="#3fd6d6"/>
<circle cx="636.5" cy="273.1" r="1.9" fill="#55e0dc"/>
<circle cx="647.1" cy="282.0" r="1.9" fill="#55e0dc"/>
<circle cx="633.2" cy="275.2" r="1.9" fill="#0f9a9c"/>
<circle cx="693.2" cy="266.5" r="2.2" fill="#149fa3"/>
<rect x="357.3" y="349.8" width="29" height="27.8" rx="6" fill="#f7f716"/>
<circle cx="371.0" cy="363.1" r="3.2" fill="#fbf530"/>
<circle cx="369.7" cy="356.1" r="2.9" fill="#fbf530"/>
<circle cx="381.6" cy="373.7" r="3.0" fill="#fbf530"/>
<circle cx="382.1" cy="370.7" r="2.9" fill="#f3ec22"/>
<circle cx="374.1" cy="353.3" r="2.5" fill="#f8f814"/>
<circle cx="382.3" cy="364.0" r="2.9" fill="#f3ec22"/>
<circle cx="372.0" cy="371.2" r="3.6" fill="#f6f21c"/>
<circle cx="364.3" cy="357.2" r="2.8" fill="#f6f21c"/>
<circle cx="373.1" cy="372.9" r="3.1" fill="#f6f21c"/>
<circle cx="376.2" cy="358.0" r="2.9" fill="#f6f21c"/>
<circle cx="382.2" cy="370.0" r="2.5" fill="#f3ec22"/>
<circle cx="370.0" cy="370.9" r="3.3" fill="#fbf530"/>
<circle cx="364.2" cy="371.1" r="2.7" fill="#f6f21c"/>
<circle cx="377.2" cy="359.6" r="2.8" fill="#f3ec22"/>
<circle cx="374.5" cy="361.1" r="3.5" fill="#f8f814"/>
<circle cx="377.8" cy="375.1" r="3.0" fill="#f8f814"/>
<circle cx="370.2" cy="372.0" r="2.9" fill="#f8f814"/>
<circle cx="372.1" cy="375.0" r="3.1" fill="#f8f814"/>
<circle cx="369.7" cy="364.8" r="3.1" fill="#f8f814"/>
<circle cx="376.0" cy="355.3" r="2.9" fill="#f3ec22"/>
<circle cx="367.2" cy="368.4" r="3.4" fill="#f6f21c"/>
<circle cx="377.8" cy="360.9" r="3.2" fill="#fbf530"/>
<circle cx="371.8" cy="363.6" r="3.5" fill="#f3ec22"/>
<circle cx="380.9" cy="365.8" r="3.4" fill="#fbf530"/>
<circle cx="362.3" cy="361.3" r="3.1" fill="#fbf530"/>
<circle cx="370.0" cy="366.1" r="2.4" fill="#fbf530"/>
<circle cx="364.7" cy="362.3" r="3.2" fill="#fbf530"/>
<circle cx="368.5" cy="373.4" r="3.5" fill="#fbf530"/>
<circle cx="362.9" cy="359.5" r="3.1" fill="#f6f21c"/>
<circle cx="366.9" cy="367.0" r="2.5" fill="#fbf530"/>
<circle cx="368.6" cy="354.5" r="2.7" fill="#f8f814"/>
<circle cx="362.5" cy="370.7" r="3.4" fill="#fbf530"/>
<circle cx="380.1" cy="352.7" r="3.2" fill="#fbf530"/>
<circle cx="375.7" cy="361.9" r="2.8" fill="#f6f21c"/>
<circle cx="373.2" cy="362.9" r="3.4" fill="#f6f21c"/>
<circle cx="376.9" cy="352.3" r="3.3" fill="#fbf530"/>
<circle cx="378.9" cy="363.7" r="1.8" fill="#7ab648"/>
<circle cx="388.6" cy="357.2" r="2.3" fill="#6cbf55"/>
<circle cx="378.7" cy="373.1" r="2.4" fill="#a9cf3c"/>
<circle cx="384.5" cy="356.9" r="2.0" fill="#55b565"/>
<circle cx="389.9" cy="362.4" r="2.3" fill="#8fc043"/>
<circle cx="379.2" cy="371.5" r="1.8" fill="#a9cf3c"/>
<circle cx="378.8" cy="365.4" r="2.0" fill="#a9cf3c"/>
<circle cx="379.9" cy="368.1" r="1.9" fill="#55b565"/>
<circle cx="378.8" cy="366.2" r="2.1" fill="#c4d930"/>
<circle cx="389.7" cy="370.0" r="2.2" fill="#c4d930"/>
<circle cx="383.3" cy="368.7" r="2.0" fill="#2fa57c"/>
<circle cx="390.2" cy="354.5" r="2.1" fill="#c4d930"/>
<circle cx="385.9" cy="357.1" r="1.9" fill="#7ab648"/>
<circle cx="390.2" cy="357.8" r="2.4" fill="#c4d930"/>
<circle cx="380.3" cy="368.1" r="2.0" fill="#c4d930"/>
<circle cx="390.2" cy="360.0" r="1.8" fill="#c4d930"/>
<circle cx="377.5" cy="362.4" r="2.1" fill="#c4d930"/>
<circle cx="380.4" cy="372.1" r="1.9" fill="#7ab648"/>
<circle cx="390.5" cy="362.5" r="1.8" fill="#20b8b4"/>
<circle cx="390.2" cy="362.1" r="1.8" fill="#a9cf3c"/>
<circle cx="393.0" cy="368.7" r="2.1" fill="#3fae6e"/>
<circle cx="391.9" cy="363.8" r="2.3" fill="#c4d930"/>
<circle cx="394.0" cy="365.2" r="1.7" fill="#a9cf3c"/>
<circle cx="392.2" cy="359.6" r="2.2" fill="#20b8b4"/>
<circle cx="393.7" cy="361.7" r="2.0" fill="#12a3a6"/>
<circle cx="394.1" cy="362.5" r="2.4" fill="#c4d930"/>
<circle cx="396.9" cy="360.7" r="1.9" fill="#2fa57c"/>
<circle cx="390.8" cy="363.8" r="2.0" fill="#0f9a9c"/>
<circle cx="395.8" cy="361.9" r="2.0" fill="#2fa57c"/>
<circle cx="397.8" cy="366.6" r="2.2" fill="#16aeb0"/>
<circle cx="391" cy="374.5" r="2" fill="#2a6aa0"/><circle cx="401.5" cy="372" r="2.4" fill="#1d4f9e"/><circle cx="404" cy="357.5" r="1.8" fill="#6cae4c"/><circle cx="395" cy="361" r="2.4" fill="#1f9aa6"/>
<rect x="331.5" y="439" width="38.5" height="29.5" rx="7" fill="#f8f814"/>
<circle cx="341.1" cy="457.5" r="3.3" fill="#f3ec22"/>
<circle cx="359.8" cy="442.5" r="3.0" fill="#f8f814"/>
<circle cx="361.5" cy="446.1" r="2.6" fill="#fbf530"/>
<circle cx="341.0" cy="456.9" r="3.5" fill="#f6f21c"/>
<circle cx="358.1" cy="450.5" r="3.1" fill="#f8f814"/>
<circle cx="341.0" cy="448.9" r="2.6" fill="#f8f814"/>
<circle cx="352.1" cy="445.5" r="2.9" fill="#f8f814"/>
<circle cx="340.3" cy="462.4" r="3.5" fill="#f8f814"/>
<circle cx="360.2" cy="449.5" r="3.8" fill="#f8f814"/>
<circle cx="344.9" cy="446.3" r="3.2" fill="#f8f814"/>
<circle cx="338.0" cy="447.4" r="3.3" fill="#fbf530"/>
<circle cx="347.1" cy="458.7" r="3.2" fill="#fbf530"/>
<circle cx="340.4" cy="442.1" r="3.5" fill="#f3ec22"/>
<circle cx="366.3" cy="452.0" r="2.7" fill="#f8f814"/>
<circle cx="347.2" cy="462.7" r="3.7" fill="#fbf530"/>
<circle cx="341.0" cy="443.0" r="3.4" fill="#fbf530"/>
<circle cx="351.9" cy="450.6" r="3.2" fill="#f8f814"/>
<circle cx="348.6" cy="443.0" r="3.4" fill="#f8f814"/>
<circle cx="338.9" cy="454.8" r="2.8" fill="#f6f21c"/>
<circle cx="337.8" cy="458.4" r="3.3" fill="#f6f21c"/>
<circle cx="345.7" cy="448.1" r="3.5" fill="#f6f21c"/>
<circle cx="348.0" cy="445.4" r="2.9" fill="#f3ec22"/>
<circle cx="338.4" cy="455.1" r="2.8" fill="#f6f21c"/>
<circle cx="357.7" cy="454.9" r="3.5" fill="#fbf530"/>
<circle cx="344.5" cy="445.8" r="2.9" fill="#f3ec22"/>
<circle cx="335.1" cy="456.9" r="2.8" fill="#fbf530"/>
<circle cx="359.2" cy="448.1" r="2.8" fill="#f6f21c"/>
<circle cx="342.0" cy="456.9" r="3.6" fill="#f6f21c"/>
<circle cx="363.1" cy="451.8" r="3.3" fill="#fbf530"/>
<circle cx="343.2" cy="444.2" r="3.2" fill="#f3ec22"/>
<circle cx="355.4" cy="451.7" r="3.3" fill="#f3ec22"/>
<circle cx="355.7" cy="464.7" r="3.4" fill="#f3ec22"/>
<circle cx="336.3" cy="458.9" r="3.1" fill="#fbf530"/>
<circle cx="338.1" cy="454.8" r="3.3" fill="#f3ec22"/>
<circle cx="359.7" cy="444.5" r="3.3" fill="#f3ec22"/>
<circle cx="348.0" cy="445.5" r="3.5" fill="#f6f21c"/>
<circle cx="360.5" cy="463.2" r="3.4" fill="#f3ec22"/>
<circle cx="352.6" cy="456.5" r="3.2" fill="#f8f814"/>
<circle cx="347.9" cy="456.4" r="2.7" fill="#f3ec22"/>
<circle cx="351.0" cy="460.2" r="2.6" fill="#fbf530"/>
<circle cx="338.6" cy="454.9" r="1.6" fill="#e8e21a"/>
<circle cx="345.9" cy="457.4" r="2.0" fill="#e8e21a"/>
<circle cx="344.3" cy="454.8" r="1.9" fill="#dcd820"/>
<circle cx="343.6" cy="450.2" r="1.8" fill="#dcd820"/>
<circle cx="337.2" cy="451.8" r="1.9" fill="#dcd820"/>
<circle cx="337.9" cy="453.6" r="2.0" fill="#e8e21a"/>
<circle cx="338.1" cy="449.7" r="1.5" fill="#e8e21a"/>
<circle cx="339.4" cy="451.5" r="2.1" fill="#dcd820"/>
<circle cx="342.2" cy="461.1" r="2.1" fill="#e3de1c"/>
<circle cx="344.6" cy="452.0" r="1.6" fill="#dcd820"/>
<circle cx="343.7" cy="445.3" r="2.1" fill="#e8e21a"/>
<circle cx="339.3" cy="450.8" r="1.7" fill="#dcd820"/>
<circle cx="368.0" cy="452.7" r="1.5" fill="#c4d930"/>
<circle cx="369.8" cy="447.3" r="1.6" fill="#c4d930"/>
<circle cx="368.8" cy="456.8" r="2.0" fill="#c4d930"/>
<circle cx="368.0" cy="462.9" r="1.8" fill="#c4d930"/>
<circle cx="368.1" cy="459.6" r="1.8" fill="#c4d930"/>
<circle cx="368.2" cy="447.8" r="1.6" fill="#2fa57c"/>
<circle cx="294" cy="450" r="2.1" fill="#3fa56a"/>
<circle cx="297" cy="453" r="2.1" fill="#4aa860"/>
<circle cx="300" cy="456" r="2.1" fill="#2fa08a"/>
<circle cx="304" cy="457" r="2.1" fill="#7fb040"/>
<circle cx="308" cy="459" r="2.1" fill="#c9a030"/>
<circle cx="312" cy="461" r="2.1" fill="#3fae6e"/>
<circle cx="316" cy="458" r="2.1" fill="#d9a52b"/>
<circle cx="319" cy="462" r="2.1" fill="#a9cf3c"/>
<circle cx="322" cy="464" r="2.1" fill="#c99a30"/>
<circle cx="318" cy="452" r="2.1" fill="#e0d030"/>
<circle cx="311" cy="446" r="2.1" fill="#1fa8b0"/>
<circle cx="319" cy="449" r="2.1" fill="#22b0b8"/>
<circle cx="326" cy="444" r="2.1" fill="#2fa57c"/>
<circle cx="329" cy="447" r="2.1" fill="#55b565"/>
<circle cx="327" cy="452" r="2.1" fill="#a9cf3c"/>
<circle cx="324" cy="456" r="2.1" fill="#6cbf55"/>
<circle cx="330" cy="450" r="2.1" fill="#4fb060"/>
<circle cx="331" cy="455" r="2.1" fill="#8fc043"/>
</g>
<text x="262" y="108" font-size="33.8" text-anchor="end" stroke="#111" stroke-width="0.3">Asperity spacing</text>
<text x="243" y="189" font-size="33.8" text-anchor="end" stroke="#111" stroke-width="0.3">Asperity height</text>
<text x="262" y="284" font-size="33.8" text-anchor="end" stroke="#111" stroke-width="0.3">Confining pressure</text>
<text x="260.7" y="366" font-size="33.8" text-anchor="end" stroke="#111" stroke-width="0.3">Reinforced layers</text>
<text x="264" y="461.5" font-size="33.8" text-anchor="end" stroke="#111" stroke-width="0.3">Strain</text>
<text x="286.5" y="582.6" font-size="33.6" stroke="#111" stroke-width="0.3" text-anchor="middle">-0.25</text>
<text x="364" y="582.6" font-size="33.6" stroke="#111" stroke-width="0.3" text-anchor="middle">0</text>
<text x="561.5" y="582.6" font-size="33.6" stroke="#111" stroke-width="0.3" text-anchor="middle">0.5</text>
<text x="743.5" y="582.6" font-size="33.6" stroke="#111" stroke-width="0.3" text-anchor="middle">1</text>
<text x="573.5" y="656.5" font-size="29.6" text-anchor="middle" stroke="#111" stroke-width="0.3">SHAP value (impact on model output)</text>
<text x="1231" y="656.5" font-size="29.6" text-anchor="middle" stroke="#111" stroke-width="0.3">Pie Chart Based on SHAP Values</text>
<rect x="882" y="9.5" width="33" height="530" fill="url(#par)" stroke="#000" stroke-opacity="0.72" stroke-width="1.9"/>
<text class="ss" x="924" y="548.5" font-size="24">0</text>
<line x1="915" y1="433.5" x2="911" y2="433.5" stroke="#222" stroke-width="1.2"/>
<text class="ss" x="924" y="442.5" font-size="24">0.2</text>
<line x1="915" y1="327.5" x2="911" y2="327.5" stroke="#222" stroke-width="1.2"/>
<text class="ss" x="924" y="336.5" font-size="24">0.4</text>
<line x1="915" y1="221.5" x2="911" y2="221.5" stroke="#222" stroke-width="1.2"/>
<text class="ss" x="924" y="230.5" font-size="24">0.6</text>
<line x1="915" y1="115.5" x2="911" y2="115.5" stroke="#222" stroke-width="1.2"/>
<text class="ss" x="924" y="124.5" font-size="24">0.8</text>
<text class="ss" x="924" y="18.5" font-size="24">1</text>
<g filter="url(#b2)">
<path d="M1190.9,132.5 A177,177 0 0 1 1347.6,391.9 L1271.3,351.8 A90.8,90.8 0 0 0 1190.9,218.7 Z" fill="#fde42a"/>
<path d="M1342.0,408.7 A177,177 0 0 1 1079.5,468.2 L1131.1,399.1 A90.8,90.8 0 0 0 1265.7,368.6 Z" fill="#b5dd2e"/>
<path d="M1067.0,460.8 A177,177 0 0 1 1008.2,253.7 L1088.4,285.5 A90.8,90.8 0 0 0 1118.5,391.7 Z" fill="#6ccd5a"/>
<path d="M1010.6,243.7 A177,177 0 0 1 1094.8,151.2 L1133.9,228.0 A90.8,90.8 0 0 0 1090.7,275.4 Z" fill="#36b677"/>
<path d="M1100.2,148.0 A177,177 0 0 1 1180.5,128.7 L1180.5,214.9 A90.8,90.8 0 0 0 1139.3,224.8 Z" fill="#1f9e89"/>
</g>
<g filter="url(#b3)">
<text x="1305.5" y="247.3" font-size="20" font-weight="bold" text-anchor="middle" fill="#2a2500">32.7%</text>
<text x="1215.0" y="461.4" font-size="20" font-weight="bold" text-anchor="middle" fill="#222e08">27.5%</text>
<text x="1046.0" y="359.4" font-size="20" font-weight="bold" text-anchor="middle" fill="#113312">20.8%</text>
<text x="1077.6" y="226.7" font-size="20" font-weight="bold" text-anchor="middle" fill="#083a1c">11.5%</text>
<text x="1151.3" y="183.5" font-size="20" font-weight="bold" text-anchor="middle" fill="#07352c">7.5%</text>
</g>
<text x="1183" y="323" font-size="23.3" stroke="#111" stroke-width="0.35" filter="url(#b3)" text-anchor="middle">LDA-BPNN</text>
<rect x="1330.3" y="66.9" width="39.8" height="17.7" fill="#fde42a"/>
<text x="1375" y="81.5" font-size="18.9" fill="#1a221e" stroke="#1a221e" stroke-width="0.4" filter="url(#b4)">Asperity spacing</text>
<rect x="1330.3" y="90.4" width="39.8" height="17.7" fill="#b5dd2e"/>
<text x="1375" y="105.0" font-size="18.9" fill="#1a221e" stroke="#1a221e" stroke-width="0.4" filter="url(#b4)">Asperity height</text>
<rect x="1330.3" y="113.9" width="39.8" height="17.7" fill="#6ccd5a"/>
<text x="1375" y="128.5" font-size="18.9" fill="#1a221e" stroke="#1a221e" stroke-width="0.4" filter="url(#b4)">Confining pressure</text>
<rect x="1330.3" y="137.4" width="39.8" height="17.7" fill="#36b677"/>
<text x="1375" y="152.0" font-size="18.9" fill="#1a221e" stroke="#1a221e" stroke-width="0.4" filter="url(#b4)">Reinforced layers</text>
<rect x="1330.3" y="160.9" width="39.8" height="17.7" fill="#1f9e89"/>
<text x="1375" y="175.5" font-size="18.9" fill="#1a221e" stroke="#1a221e" stroke-width="0.4" filter="url(#b4)">Strain</text>
<path d="M745.3,1044.5 L745.3,862.0 A182.5,182.5 0 0 1 892.3,1152.7 Z" fill="#ef4143" stroke="#fff" stroke-opacity="0.45" stroke-width="1"/>
<path d="M745.3,1044.5 L892.3,1152.7 A182.5,182.5 0 0 1 582.7,1127.4 Z" fill="#1a6de0" stroke="#fff" stroke-opacity="0.45" stroke-width="1"/>
<path d="M745.3,1044.5 L582.7,1127.4 A182.5,182.5 0 0 1 626.3,906.1 Z" fill="#36ad6a" stroke="#fff" stroke-opacity="0.45" stroke-width="1"/>
<path d="M745.3,1044.5 L626.3,906.1 A182.5,182.5 0 0 1 686.7,871.7 Z" fill="#b277de" stroke="#fff" stroke-opacity="0.45" stroke-width="1"/>
<path d="M745.3,1044.5 L686.7,871.7 A182.5,182.5 0 0 1 745.3,862.0 Z" fill="#cc9a00" stroke="#fff" stroke-opacity="0.45" stroke-width="1"/>
<text x="963" y="946" font-size="30" text-anchor="middle" stroke="#111" stroke-width="0.3">35.1%</text>
<text x="728" y="1271" font-size="30" text-anchor="middle" stroke="#111" stroke-width="0.3">32.4%</text>
<text x="508" y="1015" font-size="30" text-anchor="middle" stroke="#111" stroke-width="0.3">21.2%</text>
<text x="614" y="863" font-size="30" text-anchor="middle" stroke="#111" stroke-width="0.3">6.1%</text>
<text x="712" y="839" font-size="30" text-anchor="middle" stroke="#111" stroke-width="0.3">5.2%</text>
<rect x="870" y="782.5" width="42.3" height="20.2" fill="#ef4143"/>
<text x="918" y="797.8" font-size="19.3" stroke="#111" stroke-width="0.45" filter="url(#b3)">Asperity spacing</text>
<rect x="870" y="806.5" width="42.3" height="20.2" fill="#1a6de0"/>
<text x="918" y="821.8" font-size="19.3" stroke="#111" stroke-width="0.45" filter="url(#b3)">Asperity height</text>
<rect x="870" y="830.5" width="42.3" height="20.2" fill="#36ad6a"/>
<text x="918" y="845.8" font-size="19.3" stroke="#111" stroke-width="0.45" filter="url(#b3)">Confining pressure</text>
<rect x="870" y="854.5" width="42.3" height="20.2" fill="#b277de"/>
<text x="918" y="869.8" font-size="19.3" stroke="#111" stroke-width="0.45" filter="url(#b3)">Reinforced layers</text>
<rect x="870" y="878.5" width="42.3" height="20.2" fill="#cc9a00"/>
<text x="918" y="893.8" font-size="19.3" stroke="#111" stroke-width="0.45" filter="url(#b3)">Strain</text>
</svg></body></html>
